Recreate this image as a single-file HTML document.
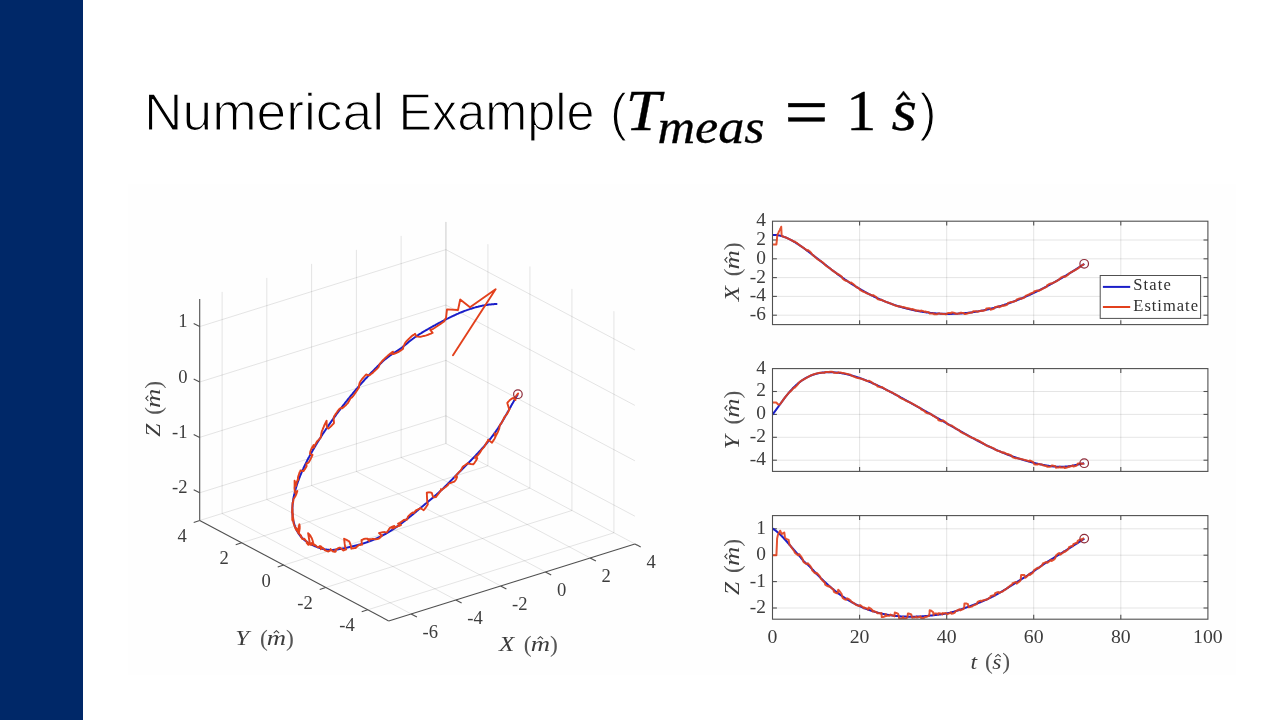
<!DOCTYPE html>
<html><head><meta charset="utf-8"><title>Numerical Example</title>
<style>
html,body{margin:0;padding:0;background:#fff;}
body{width:1280px;height:720px;overflow:hidden;position:relative;font-family:"Liberation Sans",sans-serif;}
#side{position:absolute;left:0;top:0;width:82.5px;height:720px;background:#002868;}
#fig{position:absolute;left:128px;top:184px;width:1108px;height:491px;background:#fefefe;}
#title{position:absolute;left:0;top:0;width:1280px;height:180px;}
svg{position:absolute;left:0;top:0;will-change:transform;}
</style></head><body>
<div id="side"></div>
<div id="fig"></div>
<svg id="title" width="1280" height="180" viewBox="0 0 1280 180">
<g font-family="Liberation Sans, sans-serif" font-size="51" fill="#000" stroke="#fff" stroke-width="1.25">
<text id="t1" x="144.0" y="130" textLength="240" lengthAdjust="spacingAndGlyphs">Numerical</text>
<text id="t2" x="398.5" y="130" textLength="196" lengthAdjust="spacingAndGlyphs">Example</text>
<text id="t3" x="610" y="130">(</text>
<text id="t4" x="919.5" y="130">)</text>
</g>
<g font-family="Liberation Serif, serif" fill="#000" stroke="#000" stroke-width="0.35">
<text x="625.8" y="130" font-size="58" font-style="italic" textLength="35" lengthAdjust="spacingAndGlyphs">T</text>
<text x="657.5" y="142.5" font-size="48" font-style="italic" textLength="107" lengthAdjust="spacingAndGlyphs">meas</text>
<rect x="788.3" y="103.2" width="36.4" height="3.8"/><rect x="788.3" y="117.6" width="36.4" height="3.8"/>
<text x="846.3" y="130" font-size="56" textLength="30" lengthAdjust="spacingAndGlyphs">1</text>
<text x="891.5" y="130" font-size="60" font-style="italic" textLength="25.5" lengthAdjust="spacingAndGlyphs">s</text>
<path d="M896.8 99.5L903.5 90.9L910.2 99.5L907.6 99.5L903.5 94.6L899.4 99.5Z" stroke-width="0.4"/>
</g>
</svg>
<svg id="plots" width="1280" height="720" viewBox="0 0 1280 720">
<g fill="none">
<line x1="222.1" y1="513.5" x2="222.1" y2="291.9" stroke="#262626" stroke-opacity="0.12" stroke-width="1"/>
<line x1="222.1" y1="513.5" x2="411.1" y2="613.9" stroke="#262626" stroke-opacity="0.12" stroke-width="1"/>
<line x1="266.8" y1="499.5" x2="266.8" y2="277.9" stroke="#262626" stroke-opacity="0.12" stroke-width="1"/>
<line x1="266.8" y1="499.5" x2="455.8" y2="599.9" stroke="#262626" stroke-opacity="0.12" stroke-width="1"/>
<line x1="311.6" y1="485.5" x2="311.6" y2="263.9" stroke="#262626" stroke-opacity="0.12" stroke-width="1"/>
<line x1="311.6" y1="485.5" x2="500.6" y2="585.9" stroke="#262626" stroke-opacity="0.12" stroke-width="1"/>
<line x1="356.4" y1="471.5" x2="356.4" y2="249.9" stroke="#262626" stroke-opacity="0.12" stroke-width="1"/>
<line x1="356.4" y1="471.5" x2="545.4" y2="571.9" stroke="#262626" stroke-opacity="0.12" stroke-width="1"/>
<line x1="401.1" y1="457.5" x2="401.1" y2="235.9" stroke="#262626" stroke-opacity="0.12" stroke-width="1"/>
<line x1="401.1" y1="457.5" x2="590.1" y2="557.9" stroke="#262626" stroke-opacity="0.12" stroke-width="1"/>
<line x1="445.9" y1="443.5" x2="445.9" y2="221.9" stroke="#262626" stroke-opacity="0.12" stroke-width="1"/>
<line x1="445.9" y1="443.5" x2="634.9" y2="543.9" stroke="#262626" stroke-opacity="0.12" stroke-width="1"/>
<line x1="445.9" y1="443.5" x2="445.9" y2="221.9" stroke="#262626" stroke-opacity="0.12" stroke-width="1"/>
<line x1="199.7" y1="520.5" x2="445.9" y2="443.5" stroke="#262626" stroke-opacity="0.12" stroke-width="1"/>
<line x1="487.9" y1="465.8" x2="487.9" y2="244.2" stroke="#262626" stroke-opacity="0.12" stroke-width="1"/>
<line x1="241.7" y1="542.8" x2="487.9" y2="465.8" stroke="#262626" stroke-opacity="0.12" stroke-width="1"/>
<line x1="529.9" y1="488.1" x2="529.9" y2="266.5" stroke="#262626" stroke-opacity="0.12" stroke-width="1"/>
<line x1="283.7" y1="565.1" x2="529.9" y2="488.1" stroke="#262626" stroke-opacity="0.12" stroke-width="1"/>
<line x1="571.9" y1="510.5" x2="571.9" y2="288.9" stroke="#262626" stroke-opacity="0.12" stroke-width="1"/>
<line x1="325.7" y1="587.5" x2="571.9" y2="510.5" stroke="#262626" stroke-opacity="0.12" stroke-width="1"/>
<line x1="613.9" y1="532.8" x2="613.9" y2="311.2" stroke="#262626" stroke-opacity="0.12" stroke-width="1"/>
<line x1="367.7" y1="609.8" x2="613.9" y2="532.8" stroke="#262626" stroke-opacity="0.12" stroke-width="1"/>
<line x1="199.7" y1="492.8" x2="445.9" y2="415.8" stroke="#262626" stroke-opacity="0.12" stroke-width="1"/>
<line x1="445.9" y1="415.8" x2="634.9" y2="516.2" stroke="#262626" stroke-opacity="0.12" stroke-width="1"/>
<line x1="199.7" y1="437.4" x2="445.9" y2="360.4" stroke="#262626" stroke-opacity="0.12" stroke-width="1"/>
<line x1="445.9" y1="360.4" x2="634.9" y2="460.8" stroke="#262626" stroke-opacity="0.12" stroke-width="1"/>
<line x1="199.7" y1="382.0" x2="445.9" y2="305.0" stroke="#262626" stroke-opacity="0.12" stroke-width="1"/>
<line x1="445.9" y1="305.0" x2="634.9" y2="405.4" stroke="#262626" stroke-opacity="0.12" stroke-width="1"/>
<line x1="199.7" y1="326.6" x2="445.9" y2="249.6" stroke="#262626" stroke-opacity="0.12" stroke-width="1"/>
<line x1="445.9" y1="249.6" x2="634.9" y2="350.0" stroke="#262626" stroke-opacity="0.12" stroke-width="1"/>
<line x1="199.7" y1="520.5" x2="199.7" y2="298.9" stroke="#505050" stroke-width="1.1"/>
<line x1="199.7" y1="520.5" x2="388.7" y2="620.9" stroke="#505050" stroke-width="1.1"/>
<line x1="388.7" y1="620.9" x2="634.9" y2="543.9" stroke="#505050" stroke-width="1.1"/>
<line x1="199.7" y1="492.8" x2="193.7" y2="489.8" stroke="#505050" stroke-width="1.1"/>
<line x1="199.7" y1="437.4" x2="193.7" y2="434.4" stroke="#505050" stroke-width="1.1"/>
<line x1="199.7" y1="382.0" x2="193.7" y2="379.0" stroke="#505050" stroke-width="1.1"/>
<line x1="199.7" y1="326.6" x2="193.7" y2="323.6" stroke="#505050" stroke-width="1.1"/>
<line x1="199.7" y1="520.5" x2="193.7" y2="522.4" stroke="#505050" stroke-width="1.1"/>
<line x1="241.7" y1="542.8" x2="235.7" y2="544.7" stroke="#505050" stroke-width="1.1"/>
<line x1="283.7" y1="565.1" x2="277.7" y2="567.0" stroke="#505050" stroke-width="1.1"/>
<line x1="325.7" y1="587.5" x2="319.7" y2="589.4" stroke="#505050" stroke-width="1.1"/>
<line x1="367.7" y1="609.8" x2="361.7" y2="611.7" stroke="#505050" stroke-width="1.1"/>
<line x1="411.1" y1="613.9" x2="416.9" y2="617.0" stroke="#505050" stroke-width="1.1"/>
<line x1="455.8" y1="599.9" x2="461.6" y2="603.0" stroke="#505050" stroke-width="1.1"/>
<line x1="500.6" y1="585.9" x2="506.4" y2="589.0" stroke="#505050" stroke-width="1.1"/>
<line x1="545.4" y1="571.9" x2="551.2" y2="575.0" stroke="#505050" stroke-width="1.1"/>
<line x1="590.1" y1="557.9" x2="595.9" y2="561.0" stroke="#505050" stroke-width="1.1"/>
<line x1="634.9" y1="543.9" x2="640.7" y2="547.0" stroke="#505050" stroke-width="1.1"/>
</g>
<g font-family="Liberation Serif, serif" font-size="18.6" fill="#3c3c3c">
<text x="187.5" y="493.3" text-anchor="end">-2</text>
<text x="187.5" y="437.9" text-anchor="end">-1</text>
<text x="187.5" y="382.5" text-anchor="end">0</text>
<text x="187.5" y="327.1" text-anchor="end">1</text>
<text x="186.7" y="542.0" text-anchor="end">4</text>
<text x="228.7" y="564.3" text-anchor="end">2</text>
<text x="270.7" y="586.6" text-anchor="end">0</text>
<text x="312.7" y="609.0" text-anchor="end">-2</text>
<text x="354.7" y="631.3" text-anchor="end">-4</text>
<text x="422.6" y="637.7" text-anchor="start">-6</text>
<text x="467.3" y="623.7" text-anchor="start">-4</text>
<text x="512.1" y="609.7" text-anchor="start">-2</text>
<text x="556.9" y="595.7" text-anchor="start">0</text>
<text x="601.6" y="581.7" text-anchor="start">2</text>
<text x="646.4" y="567.7" text-anchor="start">4</text>
</g>
<path d="M497.3 304.1L496.8 304.1L496.3 304.1L495.8 304.1L495.3 304.1L494.8 304.1L494.3 304.1L493.8 304.2L493.3 304.2L492.7 304.2L492.2 304.3L491.6 304.3L491.1 304.4L490.5 304.4L489.9 304.5L489.3 304.6L488.8 304.6L488.2 304.7L487.6 304.8L487.0 304.9L486.3 305.0L485.7 305.1L485.1 305.2L484.5 305.3L483.8 305.4L483.2 305.5L482.6 305.6L481.9 305.8L481.3 305.9L480.6 306.1L480.0 306.2L479.3 306.4L478.6 306.5L478.0 306.7L477.3 306.9L476.6 307.0L475.9 307.2L475.3 307.4L474.6 307.6L473.9 307.8L473.2 308.0L472.5 308.2L471.8 308.5L471.1 308.7L470.4 308.9L469.7 309.1L469.0 309.4L468.3 309.6L467.6 309.9L466.9 310.1L466.2 310.4L465.5 310.6L464.7 310.9L464.0 311.2L463.3 311.5L462.6 311.8L461.9 312.0L461.2 312.3L460.4 312.6L459.7 312.9L459.0 313.2L458.3 313.6L457.5 313.9L456.8 314.2L456.1 314.5L455.4 314.8L454.7 315.2L453.9 315.5L453.2 315.8L452.5 316.2L451.8 316.5L451.0 316.9L450.3 317.2L449.6 317.6L448.9 317.9L448.1 318.3L447.4 318.6L446.7 319.0L446.0 319.4L445.2 319.7L444.5 320.1L443.8 320.5L443.1 320.8L442.4 321.2L441.6 321.6L440.9 322.0L440.2 322.4L439.5 322.7L438.8 323.1L438.1 323.5L437.3 323.9L436.6 324.3L435.9 324.7L435.2 325.1L434.5 325.4L433.8 325.8L433.1 326.2L432.4 326.6L431.7 327.0L431.0 327.4L430.3 327.8L429.6 328.2L428.9 328.6L428.2 329.0L427.5 329.4L426.8 329.8L426.1 330.2L425.4 330.6L424.7 331.0L424.0 331.4L423.3 331.8L422.6 332.2L422.0 332.6L421.3 333.1L420.6 333.5L419.9 333.9L419.2 334.3L418.6 334.8L417.9 335.2L417.2 335.6L416.6 336.1L415.9 336.6L415.2 337.0L414.5 337.5L413.9 338.0L413.2 338.5L412.6 338.9L411.9 339.5L411.2 340.0L410.6 340.5L409.9 341.0L409.3 341.5L408.6 342.1L408.0 342.6L407.4 343.2L406.7 343.7L406.1 344.2L405.4 344.8L404.8 345.3L404.2 345.8L403.5 346.3L402.9 346.8L402.3 347.3L401.6 347.8L401.0 348.3L400.4 348.7L399.8 349.2L399.1 349.6L398.5 350.0L397.9 350.4L397.3 350.8L396.7 351.2L396.1 351.6L395.5 352.0L394.9 352.3L394.2 352.7L393.6 353.1L393.0 353.5L392.4 353.9L391.8 354.3L391.3 354.7L390.7 355.1L390.1 355.5L389.5 355.9L388.9 356.4L388.3 356.8L387.7 357.2L387.2 357.7L386.6 358.2L386.0 358.7L385.4 359.1L384.8 359.6L384.3 360.1L383.7 360.6L383.1 361.1L382.6 361.6L382.0 362.1L381.5 362.7L380.9 363.2L380.3 363.7L379.8 364.2L379.2 364.8L378.7 365.3L378.1 365.8L377.6 366.3L377.0 366.9L376.5 367.4L376.0 367.9L375.4 368.5L374.9 369.0L374.3 369.6L373.8 370.1L373.3 370.6L372.8 371.2L372.2 371.7L371.7 372.3L371.2 372.8L370.7 373.3L370.1 373.9L369.6 374.4L369.1 375.0L368.6 375.5L368.1 376.1L367.6 376.6L367.1 377.2L366.6 377.7L366.0 378.3L365.5 378.8L365.0 379.3L364.5 379.9L364.1 380.4L363.6 381.0L363.1 381.5L362.6 382.1L362.1 382.6L361.6 383.2L361.1 383.7L360.6 384.3L360.1 384.8L359.7 385.4L359.2 385.9L358.7 386.5L358.2 387.0L357.8 387.6L357.3 388.1L356.8 388.6L356.4 389.2L355.9 389.7L355.4 390.3L355.0 390.8L354.5 391.4L354.1 391.9L353.6 392.5L353.2 393.0L352.7 393.5L352.3 394.1L351.8 394.6L351.4 395.2L350.9 395.7L350.5 396.2L350.0 396.8L349.6 397.3L349.2 397.9L348.7 398.4L348.3 398.9L347.9 399.5L347.4 400.0L347.0 400.6L346.6 401.1L346.2 401.6L345.7 402.2L345.3 402.7L344.9 403.2L344.5 403.8L344.1 404.3L343.6 404.8L343.2 405.3L342.8 405.9L342.4 406.4L342.0 406.9L341.6 407.5L341.2 408.0L340.8 408.5L340.4 409.0L340.0 409.6L339.6 410.1L339.2 410.6L338.8 411.1L338.4 411.6L338.0 412.2L337.7 412.7L337.3 413.2L336.9 413.7L336.5 414.2L336.1 414.8L335.8 415.3L335.4 415.8L335.0 416.3L334.6 416.8L334.3 417.3L333.9 417.8L333.5 418.3L333.2 418.8L332.8 419.4L332.4 419.9L332.1 420.4L331.7 420.9L331.4 421.4L331.0 421.9L330.7 422.4L330.3 422.9L330.0 423.4L329.6 423.9L329.3 424.4L328.9 424.9L328.6 425.4L328.2 425.9L327.9 426.4L327.6 426.8L327.2 427.3L326.9 427.8L326.6 428.3L326.2 428.8L325.9 429.3L325.6 429.8L325.2 430.3L324.9 430.8L324.6 431.2L324.3 431.7L324.0 432.2L323.6 432.7L323.3 433.2L323.0 433.6L322.7 434.1L322.4 434.6L322.1 435.1L321.8 435.5L321.5 436.0L321.2 436.5L320.9 437.0L320.6 437.4L320.3 437.9L320.0 438.4L319.7 438.8L319.4 439.3L319.1 439.8L318.8 440.2L318.5 440.7L318.2 441.2L318.0 441.6L317.7 442.1L317.4 442.5L317.1 443.0L316.8 443.4L316.6 443.9L316.3 444.3L316.0 444.8L315.7 445.3L315.5 445.7L315.2 446.2L314.9 446.6L314.7 447.0L314.4 447.5L314.2 447.9L313.9 448.4L313.6 448.8L313.4 449.3L313.1 449.7L312.9 450.1L312.6 450.6L312.4 451.0L312.1 451.5L311.9 451.9L311.6 452.3L311.4 452.7L311.2 453.2L310.9 453.6L310.7 454.0L310.4 454.5L310.2 454.9L310.0 455.3L309.7 455.7L309.5 456.2L309.3 456.6L309.1 457.0L308.8 457.4L308.6 457.8L308.4 458.3L308.2 458.7L308.0 459.1L307.7 459.5L307.5 459.9L307.3 460.3L307.1 460.7L306.9 461.2L306.7 461.6L306.5 462.0L306.3 462.4L306.1 462.8L305.9 463.2L305.7 463.6L305.5 464.0L305.3 464.4L305.1 464.8L304.9 465.2L304.7 465.6L304.5 466.0L304.3 466.4L304.1 466.8L304.0 467.2L303.8 467.6L303.6 467.9L303.4 468.3L303.2 468.7L303.1 469.1L302.9 469.5L302.7 469.9L302.5 470.3L302.4 470.7L302.2 471.0L302.0 471.4L301.9 471.8L301.7 472.2L301.5 472.6L301.4 472.9L301.2 473.3L301.1 473.7L300.9 474.1L300.7 474.4L300.6 474.8L300.4 475.2L300.3 475.5L300.1 475.9L300.0 476.3L299.8 476.6L299.7 477.0L299.6 477.4L299.4 477.7L299.3 478.1L299.1 478.4L299.0 478.8L298.9 479.2L298.7 479.5L298.6 479.9L298.5 480.2L298.3 480.6L298.2 480.9L298.1 481.3L298.0 481.6L297.8 482.0L297.7 482.3L297.6 482.7L297.5 483.0L297.4 483.4L297.2 483.7L297.1 484.1L297.0 484.4L296.9 484.7L296.8 485.1L296.7 485.4L296.6 485.8L296.5 486.1L296.4 486.4L296.3 486.8L296.2 487.1L296.1 487.4L296.0 487.8L295.9 488.1L295.8 488.4L295.7 488.8L295.6 489.1L295.5 489.4L295.4 489.7L295.3 490.1L295.2 490.4L295.1 490.7L295.1 491.0L295.0 491.4L294.9 491.7L294.8 492.0L294.7 492.3L294.7 492.6L294.6 492.9L294.5 493.3L294.4 493.6L294.4 493.9L294.3 494.2L294.2 494.5L294.2 494.8L294.1 495.1L294.0 495.4L294.0 495.7L293.9 496.0L293.8 496.3L293.8 496.6L293.7 496.9L293.7 497.2L293.6 497.6L293.5 497.8L293.5 498.1L293.4 498.4L293.4 498.7L293.3 499.0L293.3 499.3L293.2 499.6L293.2 499.9L293.2 500.2L293.1 500.5L293.1 500.8L293.0 501.1L293.0 501.4L293.0 501.7L292.9 501.9L292.9 502.2L292.8 502.5L292.8 502.8L292.8 503.1L292.7 503.4L292.7 503.6L292.7 503.9L292.7 504.2L292.6 504.5L292.6 504.7L292.6 505.0L292.6 505.3L292.5 505.6L292.5 505.8L292.5 506.1L292.5 506.4L292.5 506.7L292.5 506.9L292.4 507.2L292.4 507.5L292.4 507.7L292.4 508.0L292.4 508.2L292.4 508.5L292.4 508.8L292.4 509.0L292.4 509.3L292.4 509.6L292.4 509.8L292.4 510.1L292.4 510.3L292.4 510.6L292.4 510.8L292.4 511.1L292.4 511.3L292.4 511.6L292.4 511.8L292.4 512.1L292.4 512.3L292.4 512.6L292.4 512.8L292.4 513.1L292.4 513.3L292.4 513.6L292.5 513.8L292.5 514.1L292.5 514.3L292.5 514.5L292.5 514.8L292.6 515.0L292.6 515.3L292.6 515.5L292.6 515.7L292.6 516.0L292.7 516.2L292.7 516.4L292.7 516.7L292.7 516.9L292.8 517.1L292.8 517.4L292.8 517.6L292.9 517.8L292.9 518.0L292.9 518.3L293.0 518.5L293.0 518.7L293.0 518.9L293.1 519.2L293.1 519.4L293.2 519.6L293.2 519.8L293.2 520.0L293.3 520.3L293.3 520.5L293.4 520.7L293.4 520.9L293.5 521.1L293.5 521.3L293.6 521.6L293.6 521.8L293.7 522.0L293.7 522.2L293.8 522.4L293.8 522.6L293.9 522.8L293.9 523.0L294.0 523.2L294.0 523.4L294.1 523.6L294.2 523.8L294.2 524.0L294.3 524.2L294.3 524.4L294.4 524.6L294.5 524.8L294.5 525.0L294.6 525.2L294.7 525.4L294.7 525.6L294.8 525.8L294.9 526.0L294.9 526.2L295.0 526.4L295.1 526.6L295.1 526.8L295.2 527.0L295.3 527.2L295.4 527.3L295.4 527.5L295.5 527.7L295.6 527.9L295.7 528.1L295.8 528.3L295.8 528.5L295.9 528.6L296.0 528.8L296.1 529.0L296.2 529.2L296.2 529.3L296.3 529.5L296.4 529.7L296.5 529.9L296.6 530.1L296.7 530.2L296.8 530.4L296.9 530.6L296.9 530.7L297.0 530.9L297.1 531.1L297.2 531.2L297.3 531.4L297.4 531.6L297.5 531.7L297.6 531.9L297.7 532.1L297.8 532.2L297.9 532.4L298.0 532.6L298.1 532.7L298.2 532.9L298.3 533.0L298.4 533.2L298.5 533.4L298.6 533.5L298.7 533.7L298.8 533.8L298.9 534.0L299.0 534.1L299.1 534.3L299.2 534.4L299.3 534.6L299.5 534.7L299.6 534.9L299.7 535.0L299.8 535.2L299.9 535.3L300.0 535.5L300.1 535.6L300.3 535.8L300.4 535.9L300.5 536.1L300.6 536.2L300.7 536.3L300.8 536.5L301.0 536.6L301.1 536.7L301.2 536.9L301.3 537.0L301.4 537.2L301.6 537.3L301.7 537.4L301.8 537.6L301.9 537.7L302.1 537.8L302.2 538.0L302.3 538.1L302.5 538.2L302.6 538.3L302.7 538.5L302.8 538.6L303.0 538.7L303.1 538.8L303.2 539.0L303.4 539.1L303.5 539.2L303.7 539.3L303.8 539.5L303.9 539.6L304.1 539.7L304.2 539.8L304.3 539.9L304.5 540.1L304.6 540.2L304.8 540.3L304.9 540.4L305.0 540.5L305.2 540.6L305.3 540.7L305.5 540.8L305.6 541.0L305.8 541.1L305.9 541.2L306.1 541.3L306.2 541.4L306.4 541.5L306.5 541.6L306.7 541.7L306.8 541.8L307.0 541.9L307.1 542.0L307.3 542.1L307.4 542.2L307.6 542.3L307.7 542.4L307.9 542.5L308.1 542.6L308.2 542.7L308.4 542.8L308.5 542.9L308.7 543.0L308.9 543.1L309.0 543.2L309.2 543.3L309.3 543.4L309.5 543.5L309.7 543.6L309.8 543.7L310.0 543.8L310.2 543.9L310.3 544.0L310.5 544.1L310.7 544.1L310.8 544.2L311.0 544.3L311.2 544.4L311.4 544.5L311.5 544.6L311.7 544.7L311.9 544.8L312.1 544.8L312.2 544.9L312.4 545.0L312.6 545.1L312.8 545.2L312.9 545.3L313.1 545.3L313.3 545.4L313.5 545.5L313.7 545.6L313.8 545.7L314.0 545.8L314.2 545.8L314.4 545.9L314.6 546.0L314.8 546.1L314.9 546.2L315.1 546.2L315.3 546.3L315.5 546.4L315.7 546.5L315.9 546.5L316.1 546.6L316.3 546.7L316.5 546.8L316.7 546.9L316.8 546.9L317.0 547.0L317.2 547.1L317.4 547.2L317.6 547.2L317.8 547.3L318.0 547.4L318.2 547.4L318.4 547.5L318.6 547.6L318.8 547.7L319.0 547.7L319.2 547.8L319.4 547.9L319.6 547.9L319.8 548.0L320.0 548.1L320.2 548.1L320.4 548.2L320.6 548.3L320.9 548.3L321.1 548.4L321.3 548.4L321.5 548.5L321.7 548.6L321.9 548.6L322.1 548.7L322.3 548.7L322.5 548.8L322.7 548.9L323.0 548.9L323.2 549.0L323.4 549.0L323.6 549.1L323.8 549.1L324.0 549.2L324.3 549.2L324.5 549.3L324.7 549.3L324.9 549.3L325.1 549.4L325.4 549.4L325.6 549.5L325.8 549.5L326.0 549.5L326.3 549.6L326.5 549.6L326.7 549.6L326.9 549.7L327.2 549.7L327.4 549.7L327.6 549.8L327.8 549.8L328.1 549.8L328.3 549.8L328.5 549.8L328.8 549.9L329.0 549.9L329.2 549.9L329.5 549.9L329.7 549.9L329.9 549.9L330.2 549.9L330.4 549.9L330.6 549.9L330.9 549.9L331.1 549.9L331.4 549.9L331.6 549.9L331.8 549.9L332.1 549.9L332.3 549.9L332.6 549.9L332.8 549.9L333.0 549.9L333.3 549.9L333.5 549.9L333.8 549.8L334.0 549.8L334.3 549.8L334.5 549.8L334.8 549.8L335.0 549.7L335.3 549.7L335.5 549.7L335.8 549.7L336.0 549.6L336.3 549.6L336.5 549.6L336.8 549.5L337.0 549.5L337.3 549.5L337.5 549.4L337.8 549.4L338.0 549.4L338.3 549.3L338.5 549.3L338.8 549.2L339.1 549.2L339.3 549.1L339.6 549.1L339.8 549.1L340.1 549.0L340.4 549.0L340.6 548.9L340.9 548.9L341.1 548.8L341.4 548.8L341.7 548.7L341.9 548.7L342.2 548.6L342.5 548.6L342.7 548.5L343.0 548.5L343.3 548.4L343.5 548.3L343.8 548.3L344.1 548.2L344.3 548.2L344.6 548.1L344.9 548.1L345.2 548.0L345.4 548.0L345.7 547.9L346.0 547.8L346.2 547.8L346.5 547.7L346.8 547.7L347.1 547.6L347.3 547.5L347.6 547.5L347.9 547.4L348.2 547.4L348.5 547.3L348.7 547.2L349.0 547.2L349.3 547.1L349.6 547.0L349.9 547.0L350.1 546.9L350.4 546.8L350.7 546.8L351.0 546.7L351.3 546.7L351.5 546.6L351.8 546.5L352.1 546.4L352.4 546.4L352.7 546.3L353.0 546.2L353.3 546.2L353.5 546.1L353.8 546.0L354.1 546.0L354.4 545.9L354.7 545.8L355.0 545.8L355.3 545.7L355.6 545.6L355.8 545.5L356.1 545.5L356.4 545.4L356.7 545.3L357.0 545.2L357.3 545.2L357.6 545.1L357.9 545.0L358.2 544.9L358.5 544.8L358.8 544.8L359.1 544.7L359.4 544.6L359.7 544.5L360.0 544.4L360.2 544.3L360.5 544.3L360.8 544.2L361.1 544.1L361.4 544.0L361.7 543.9L362.0 543.8L362.3 543.7L362.6 543.6L362.9 543.5L363.2 543.5L363.5 543.4L363.8 543.3L364.1 543.2L364.4 543.1L364.7 543.0L365.0 542.9L365.3 542.8L365.6 542.7L366.0 542.6L366.3 542.5L366.6 542.4L366.9 542.3L367.2 542.2L367.5 542.1L367.8 541.9L368.1 541.8L368.4 541.7L368.7 541.6L369.0 541.5L369.3 541.4L369.6 541.3L369.9 541.2L370.2 541.0L370.5 540.9L370.9 540.8L371.2 540.7L371.5 540.6L371.8 540.4L372.1 540.3L372.4 540.2L372.7 540.1L373.0 539.9L373.3 539.8L373.6 539.7L374.0 539.6L374.3 539.4L374.6 539.3L374.9 539.2L375.2 539.0L375.5 538.9L375.8 538.7L376.1 538.6L376.5 538.5L376.8 538.3L377.1 538.2L377.4 538.0L377.7 537.9L378.0 537.7L378.4 537.6L378.7 537.4L379.0 537.3L379.3 537.1L379.6 537.0L379.9 536.8L380.2 536.7L380.6 536.5L380.9 536.3L381.2 536.2L381.5 536.0L381.8 535.9L382.2 535.7L382.5 535.5L382.8 535.4L383.1 535.2L383.4 535.0L383.7 534.8L384.1 534.7L384.4 534.5L384.7 534.3L385.0 534.1L385.3 534.0L385.7 533.8L386.0 533.6L386.3 533.4L386.6 533.2L386.9 533.1L387.3 532.9L387.6 532.7L387.9 532.5L388.2 532.3L388.6 532.1L388.9 531.9L389.2 531.7L389.5 531.5L389.8 531.3L390.2 531.1L390.5 530.9L390.8 530.7L391.1 530.5L391.5 530.3L391.8 530.1L392.1 529.9L392.4 529.7L392.8 529.5L393.1 529.3L393.4 529.0L393.7 528.8L394.1 528.6L394.4 528.4L394.7 528.2L395.0 528.0L395.4 527.7L395.7 527.5L396.0 527.3L396.3 527.1L396.7 526.8L397.0 526.6L397.3 526.4L397.6 526.1L398.0 525.9L398.3 525.7L398.6 525.4L399.0 525.2L399.3 525.0L399.6 524.7L399.9 524.5L400.3 524.2L400.6 524.0L400.9 523.8L401.2 523.5L401.6 523.3L401.9 523.0L402.2 522.8L402.6 522.5L402.9 522.3L403.2 522.0L403.5 521.8L403.9 521.5L404.2 521.3L404.5 521.0L404.9 520.8L405.2 520.5L405.5 520.2L405.9 520.0L406.2 519.7L406.5 519.5L406.8 519.2L407.2 518.9L407.5 518.7L407.8 518.4L408.2 518.1L408.5 517.9L408.8 517.6L409.2 517.3L409.5 517.1L409.8 516.8L410.2 516.5L410.5 516.3L410.8 516.0L411.2 515.7L411.5 515.4L411.8 515.2L412.2 514.9L412.5 514.6L412.8 514.4L413.2 514.1L413.5 513.8L413.8 513.5L414.2 513.3L414.5 513.0L414.8 512.7L415.2 512.4L415.5 512.1L415.8 511.9L416.2 511.6L416.5 511.3L416.8 511.0L417.2 510.7L417.5 510.5L417.8 510.2L418.2 509.9L418.5 509.6L418.8 509.3L419.2 509.1L419.5 508.8L419.8 508.5L420.2 508.2L420.5 507.9L420.9 507.7L421.2 507.4L421.5 507.1L421.9 506.8L422.2 506.5L422.5 506.3L422.9 506.0L423.2 505.7L423.6 505.4L423.9 505.1L424.2 504.9L424.6 504.6L424.9 504.3L425.2 504.0L425.6 503.7L425.9 503.5L426.3 503.2L426.6 502.9L426.9 502.6L427.3 502.3L427.6 502.1L428.0 501.8L428.3 501.5L428.6 501.2L429.0 500.9L429.3 500.6L429.7 500.4L430.0 500.1L430.3 499.8L430.7 499.5L431.0 499.2L431.4 498.9L431.7 498.6L432.0 498.4L432.4 498.1L432.7 497.8L433.1 497.5L433.4 497.2L433.7 496.9L434.1 496.6L434.4 496.3L434.8 496.0L435.1 495.7L435.5 495.4L435.8 495.1L436.1 494.8L436.5 494.5L436.8 494.2L437.2 493.9L437.5 493.6L437.9 493.3L438.2 493.0L438.5 492.7L438.9 492.4L439.2 492.1L439.6 491.8L439.9 491.4L440.3 491.1L440.6 490.8L441.0 490.5L441.3 490.2L441.6 489.8L442.0 489.5L442.3 489.2L442.7 488.9L443.0 488.5L443.4 488.2L443.7 487.9L444.1 487.5L444.4 487.2L444.7 486.9L445.1 486.5L445.4 486.2L445.8 485.8L446.1 485.5L446.5 485.2L446.8 484.8L447.2 484.5L447.5 484.1L447.9 483.8L448.2 483.4L448.6 483.1L448.9 482.7L449.2 482.4L449.6 482.0L449.9 481.7L450.3 481.3L450.6 481.0L451.0 480.6L451.3 480.3L451.7 479.9L452.0 479.6L452.4 479.2L452.7 478.9L453.1 478.5L453.4 478.1L453.8 477.8L454.1 477.4L454.4 477.1L454.8 476.7L455.1 476.4L455.5 476.0L455.8 475.7L456.2 475.3L456.5 475.0L456.9 474.6L457.2 474.2L457.6 473.9L457.9 473.5L458.3 473.2L458.6 472.8L459.0 472.5L459.3 472.1L459.6 471.8L460.0 471.4L460.3 471.1L460.7 470.7L461.0 470.4L461.4 470.0L461.7 469.7L462.1 469.3L462.4 469.0L462.8 468.6L463.1 468.3L463.4 467.9L463.8 467.6L464.1 467.2L464.5 466.9L464.8 466.5L465.2 466.2L465.5 465.8L465.8 465.5L466.2 465.2L466.5 464.8L466.9 464.5L467.2 464.1L467.6 463.8L467.9 463.4L468.2 463.1L468.6 462.7L468.9 462.4L469.3 462.0L469.6 461.7L469.9 461.4L470.3 461.0L470.6 460.7L471.0 460.3L471.3 460.0L471.6 459.6L472.0 459.3L472.3 458.9L472.6 458.6L473.0 458.3L473.3 457.9L473.6 457.6L474.0 457.2L474.3 456.9L474.7 456.5L475.0 456.2L475.3 455.8L475.7 455.5L476.0 455.1L476.3 454.8L476.6 454.4L477.0 454.1L477.3 453.7L477.6 453.4L478.0 453.0L478.3 452.7L478.6 452.3L478.9 452.0L479.3 451.6L479.6 451.3L479.9 450.9L480.2 450.6L480.6 450.2L480.9 449.9L481.2 449.5L481.5 449.2L481.9 448.8L482.2 448.5L482.5 448.1L482.8 447.7L483.1 447.4L483.5 447.0L483.8 446.7L484.1 446.3L484.4 445.9L484.7 445.6L485.0 445.2L485.3 444.9L485.7 444.5L486.0 444.1L486.3 443.8L486.6 443.4L486.9 443.0L487.2 442.7L487.5 442.3L487.8 441.9L488.1 441.5L488.4 441.2L488.7 440.8L489.0 440.4L489.3 440.1L489.6 439.7L489.9 439.3L490.2 438.9L490.5 438.5L490.8 438.2L491.1 437.8L491.4 437.4L491.7 437.0L492.0 436.6L492.3 436.3L492.6 435.9L492.9 435.5L493.2 435.1L493.5 434.7L493.7 434.3L494.0 433.9L494.3 433.5L494.6 433.1L494.9 432.8L495.2 432.4L495.4 432.0L495.7 431.6L496.0 431.2L496.3 430.8L496.6 430.4L496.8 430.0L497.1 429.6L497.4 429.2L497.7 428.8L497.9 428.3L498.2 427.9L498.5 427.5L498.7 427.1L499.0 426.7L499.3 426.3L499.5 425.9L499.8 425.5L500.1 425.1L500.3 424.6L500.6 424.2L500.9 423.8L501.1 423.4L501.4 423.0L501.6 422.5L501.9 422.1L502.2 421.7L502.4 421.3L502.7 420.8L502.9 420.4L503.2 420.0L503.4 419.5L503.7 419.1L503.9 418.7L504.2 418.3L504.4 417.8L504.7 417.4L504.9 416.9L505.2 416.5L505.4 416.1L505.7 415.6L505.9 415.2L506.2 414.8L506.4 414.3L506.7 413.9L506.9 413.4L507.2 413.0L507.4 412.6L507.7 412.1L507.9 411.7L508.2 411.2L508.4 410.8L508.6 410.4L508.9 409.9L509.1 409.5L509.4 409.0L509.6 408.6L509.9 408.1L510.1 407.7L510.4 407.3L510.6 406.8L510.9 406.4L511.1 405.9L511.3 405.5L511.6 405.1L511.8 404.6L512.1 404.2L512.3 403.7L512.6 403.3L512.8 402.9L513.1 402.4L513.4 402.0L513.6 401.5L513.9 401.1L514.1 400.7L514.4 400.2L514.6 399.8L514.9 399.3L515.2 398.9L515.4 398.4L515.7 398.0L516.0 397.5L516.2 397.0L516.5 396.6L516.8 396.1L517.1 395.6L517.4 395.2L517.6 394.7L517.9 394.2" fill="none" stroke="#1a1ec8" stroke-width="2" stroke-linejoin="round"/>
<path d="M453.0 355.2L495.6 289.3L470.0 307.2L460.2 299.5L458.0 310.0L447.0 309.4L446.0 318.0L444.7 319.8L444.5 320.6L444.4 321.3L443.7 321.8L443.0 322.2L442.2 322.7L441.5 323.2L440.8 323.7L440.1 324.3L439.3 324.8L438.6 325.3L437.8 325.8L437.1 326.3L436.3 326.8L435.5 327.3L434.8 327.8L434.0 328.3L433.2 328.8L432.4 329.2L431.3 329.5L430.3 329.9L431.5 331.4L432.6 332.9L431.8 333.2L431.0 333.6L430.2 333.9L429.4 334.2L428.6 334.5L427.8 334.8L427.0 335.1L426.3 335.4L425.4 335.6L424.6 335.8L423.8 336.0L423.0 336.2L422.2 336.4L421.4 336.6L420.6 336.8L419.4 336.9L417.8 336.6L416.2 336.4L415.7 335.1L415.1 333.8L414.5 334.3L413.8 334.7L413.2 335.1L412.5 335.6L411.9 336.1L411.3 336.6L410.6 337.2L410.0 337.7L409.4 338.3L408.7 339.0L408.1 339.6L407.5 340.3L406.8 340.9L406.2 341.6L405.6 342.3L405.0 343.2L404.3 344.6L403.6 345.9L403.3 347.4L403.0 348.9L402.4 349.3L401.8 349.8L401.1 350.2L400.5 350.6L399.9 351.0L399.3 351.4L398.7 351.8L398.1 352.1L397.5 352.4L396.9 352.7L396.3 353.0L395.7 353.2L395.1 353.5L394.5 353.7L393.9 354.0L393.3 354.1L392.5 353.9L391.8 353.8L392.4 352.7L392.9 351.7L392.3 352.1L391.7 352.6L391.1 353.0L390.4 353.5L389.8 354.0L389.2 354.5L388.6 355.0L387.9 355.5L387.3 356.1L386.6 356.7L385.9 357.4L385.2 358.0L384.6 358.7L383.9 359.3L383.2 360.0L382.3 361.0L381.1 362.3L379.9 363.6L379.2 365.4L378.5 367.2L377.9 367.8L377.3 368.4L376.7 368.9L376.1 369.5L375.5 370.1L374.9 370.7L374.2 371.3L373.6 371.8L373.1 372.4L372.5 372.9L371.9 373.4L371.3 373.8L370.7 374.3L370.2 374.8L369.6 375.2L369.1 375.4L368.6 375.3L368.1 375.3L367.2 374.8L366.3 374.4L365.8 374.9L365.3 375.4L364.9 375.8L364.4 376.3L364.0 376.8L363.5 377.3L363.1 377.8L362.7 378.3L362.2 378.9L361.8 379.4L361.4 380.0L361.0 380.5L360.7 381.1L360.3 381.7L359.9 382.3L359.6 383.1L359.3 384.2L359.1 385.2L359.0 386.4L359.0 387.6L358.5 388.2L358.1 388.8L357.7 389.4L357.3 390.1L356.8 390.7L356.4 391.4L356.0 392.0L355.5 392.7L355.1 393.3L354.6 394.0L354.2 394.6L353.7 395.2L353.3 395.8L352.8 396.4L352.3 397.0L351.8 397.5L351.2 397.8L350.6 398.1L349.3 400.5L348.0 402.8L347.6 403.3L347.1 403.8L346.7 404.2L346.3 404.6L345.9 405.1L345.5 405.5L345.1 405.8L344.7 406.2L344.3 406.6L343.9 406.9L343.6 407.2L343.2 407.5L342.8 407.8L342.5 408.1L342.1 408.4L341.9 408.4L341.9 408.0L341.9 407.5L340.9 408.0L339.9 408.5L339.5 408.9L339.1 409.4L338.7 409.9L338.3 410.4L337.9 410.9L337.5 411.4L337.1 412.0L336.7 412.5L336.4 413.0L336.0 413.6L335.6 414.2L335.2 414.7L334.9 415.3L334.5 415.8L334.1 416.4L333.9 416.9L333.8 417.5L333.6 418.0L333.8 420.5L334.0 423.0L333.6 423.4L333.3 423.9L332.9 424.3L332.5 424.7L332.1 425.1L331.7 425.5L331.4 425.9L331.0 426.3L330.6 426.6L330.3 427.0L329.9 427.3L329.5 427.6L329.2 427.9L328.8 428.2L328.5 428.5L328.1 428.4L327.5 427.9L326.9 427.4L326.7 424.0L326.6 420.7L326.3 421.3L326.0 421.9L325.7 422.5L325.4 423.1L325.1 423.7L324.8 424.3L324.5 425.0L324.2 425.6L323.9 426.4L323.6 427.2L323.2 428.0L322.9 428.8L322.6 429.6L322.2 430.4L321.9 431.3L321.5 432.7L321.1 435.2L320.7 437.7L318.9 439.6L317.0 441.5L316.7 442.0L316.4 442.5L316.1 443.0L315.9 443.5L315.6 444.0L315.3 444.5L315.0 444.9L314.7 445.4L314.5 445.7L314.3 446.1L314.0 446.5L313.8 446.8L313.6 447.1L313.4 447.4L313.2 447.7L313.3 447.7L313.7 447.4L314.2 447.1L313.9 446.0L313.7 445.0L313.4 445.4L313.2 445.7L312.9 446.1L312.7 446.4L312.5 446.8L312.2 447.1L312.0 447.5L311.8 447.8L311.6 448.3L311.4 448.7L311.2 449.1L311.0 449.6L310.9 450.0L310.7 450.5L310.5 451.0L310.3 451.7L310.1 452.8L310.0 453.9L311.2 454.5L312.5 455.0L312.2 455.5L312.0 455.9L311.8 456.4L311.6 456.9L311.3 457.4L311.1 457.9L310.9 458.4L310.6 459.0L310.4 459.5L310.1 460.0L309.8 460.4L309.5 460.9L309.3 461.4L309.0 461.9L308.7 462.3L308.2 462.8L307.3 463.2L306.4 463.6L306.5 464.9L306.6 466.2L306.4 466.6L306.2 466.9L306.0 467.3L305.8 467.6L305.6 467.9L305.4 468.2L305.2 468.6L305.0 468.9L304.8 469.2L304.6 469.5L304.4 469.7L304.2 470.0L304.0 470.3L303.8 470.6L303.6 470.9L303.3 471.1L302.9 471.0L302.6 471.0L301.5 470.7L300.4 470.4L300.3 470.8L300.1 471.3L299.9 471.7L299.7 472.2L299.5 472.7L299.3 473.2L299.2 473.7L299.0 474.1L298.8 474.7L298.7 475.2L298.5 475.7L298.3 476.2L298.2 476.7L298.0 477.2L297.9 477.7L297.9 478.3L298.1 479.1L298.4 479.8L298.3 479.2L298.2 478.6L298.0 479.0L297.8 479.4L297.7 479.8L297.5 480.1L297.4 480.5L297.3 480.9L297.1 481.2L297.0 481.5L296.9 481.9L296.8 482.2L296.7 482.5L296.6 482.9L296.5 483.2L296.5 483.5L296.4 483.8L296.3 484.3L296.2 485.1L296.1 485.9L295.4 483.3L294.6 480.7L294.6 481.1L294.6 481.5L294.6 481.9L294.6 482.4L294.6 482.8L294.6 483.3L294.6 483.7L294.6 484.2L294.6 484.8L294.6 485.3L294.6 485.9L294.6 486.5L294.5 487.1L294.5 487.7L294.5 488.3L294.6 489.4L294.9 491.3L295.2 493.1L296.2 492.1L297.3 491.0L297.2 491.5L297.0 491.9L296.9 492.4L296.8 492.8L296.6 493.2L296.5 493.6L296.4 494.0L296.2 494.3L296.0 494.7L295.9 495.1L295.7 495.4L295.5 495.8L295.4 496.1L295.2 496.4L295.1 496.7L294.7 497.2L294.1 498.1L293.4 499.0L293.3 500.5L293.2 502.1L293.2 502.2L293.1 502.2L293.1 502.3L293.0 502.4L293.0 502.5L292.9 502.6L292.9 502.7L292.8 502.8L292.8 502.9L292.8 503.0L292.7 503.1L292.7 503.2L292.7 503.3L292.7 503.5L292.6 503.6L292.6 503.5L292.6 503.1L292.6 502.7L292.4 507.0L292.1 511.3L292.1 511.5L292.1 511.7L292.1 511.8L292.1 512.0L292.1 512.2L292.1 512.4L292.1 512.6L292.1 512.7L292.1 512.8L292.1 512.8L292.1 512.9L292.1 512.9L292.1 513.0L292.2 513.0L292.2 513.0L292.3 512.3L292.4 510.6L292.5 508.8L292.5 511.0L292.6 513.1L292.6 513.3L292.6 513.4L292.6 513.6L292.6 513.8L292.7 513.9L292.7 514.1L292.7 514.2L292.7 514.4L292.8 514.5L292.8 514.6L292.8 514.7L292.8 514.8L292.9 515.0L292.9 515.1L292.9 515.2L292.9 515.1L292.9 514.4L292.9 513.8L292.7 513.7L292.5 513.6L292.5 513.9L292.5 514.3L292.5 514.6L292.5 515.0L292.4 515.4L292.4 515.8L292.4 516.2L292.4 516.6L292.4 516.9L292.3 517.3L292.3 517.7L292.3 518.1L292.3 518.5L292.3 518.8L292.2 519.2L292.3 519.6L292.4 520.1L292.4 520.6L292.4 516.7L292.4 512.8L292.4 513.1L292.4 513.5L292.4 513.8L292.5 514.2L292.5 514.5L292.5 514.8L292.6 515.1L292.6 515.4L292.7 515.8L292.8 516.1L292.8 516.5L292.9 516.9L293.0 517.3L293.1 517.6L293.2 518.0L293.3 519.1L293.4 521.3L293.6 523.5L294.8 526.6L296.0 529.7L296.1 529.7L296.2 529.7L296.3 529.8L296.4 529.9L296.5 530.0L296.6 530.1L296.7 530.2L296.8 530.3L296.8 530.3L296.9 530.4L296.9 530.5L297.0 530.6L297.0 530.6L297.1 530.7L297.1 530.8L296.9 530.4L296.5 529.2L296.0 528.0L297.0 529.8L297.9 531.6L297.9 531.9L298.0 532.0L298.0 532.2L298.1 532.4L298.1 532.6L298.2 532.7L298.2 532.8L298.3 532.9L298.3 533.0L298.3 533.0L298.3 533.1L298.3 533.1L298.3 533.1L298.4 533.1L298.4 533.1L298.2 532.8L297.9 532.1L297.5 531.3L298.5 527.8L299.4 524.3L299.4 524.5L299.5 524.7L299.5 524.8L299.5 525.0L299.6 525.3L299.6 525.5L299.6 525.7L299.6 525.9L299.7 526.3L299.7 526.6L299.7 527.0L299.7 527.3L299.7 527.7L299.7 528.1L299.7 528.5L299.5 529.6L299.2 531.5L298.8 533.5L299.9 534.5L301.1 535.6L301.1 535.7L301.1 535.9L301.2 536.1L301.2 536.2L301.2 536.4L301.3 536.6L301.3 536.7L301.4 536.8L301.4 537.0L301.4 537.1L301.5 537.2L301.5 537.2L301.5 537.3L301.6 537.4L301.7 537.4L301.5 537.3L301.1 537.0L300.7 536.7L301.5 537.8L302.3 539.0L302.4 539.0L302.6 539.0L302.7 539.1L302.9 539.1L303.0 539.1L303.2 539.1L303.3 539.2L303.5 539.2L303.7 539.2L303.8 539.3L303.9 539.3L304.1 539.3L304.2 539.4L304.4 539.5L304.5 539.5L304.5 539.5L304.4 539.1L304.2 538.7L306.0 540.9L307.9 543.0L307.9 543.2L308.0 543.3L308.1 543.5L308.2 543.7L308.2 543.8L308.3 544.0L308.4 544.2L308.4 544.3L308.4 544.4L308.4 544.5L308.4 544.6L308.4 544.7L308.4 544.8L308.4 544.8L308.4 544.9L308.1 544.6L307.4 543.7L306.7 542.9L308.8 543.8L311.0 544.8L311.0 544.8L311.1 544.8L311.1 544.9L311.2 544.8L311.2 544.8L311.3 544.8L311.4 544.7L311.5 544.7L311.5 544.6L311.5 544.5L311.6 544.4L311.6 544.3L311.6 544.3L311.7 544.2L311.8 544.1L311.5 543.9L310.6 543.4L309.8 543.0L308.9 538.0L308.1 533.1L308.3 533.3L308.6 533.6L308.8 533.8L309.1 534.1L309.3 534.4L309.6 534.7L309.8 535.0L310.1 535.3L310.4 535.8L310.6 536.3L310.9 536.8L311.2 537.3L311.5 537.8L311.8 538.3L312.0 538.8L312.5 540.2L313.2 542.8L314.0 545.5L312.9 544.2L311.8 542.9L312.0 543.1L312.3 543.3L312.5 543.5L312.8 543.7L313.0 543.9L313.2 544.0L313.5 544.2L313.7 544.3L314.0 544.5L314.3 544.7L314.5 544.8L314.8 545.0L315.1 545.1L315.4 545.3L315.6 545.4L316.1 545.8L316.9 546.6L317.8 547.4L319.1 546.7L320.4 546.1L320.5 546.1L320.6 546.2L320.8 546.3L320.9 546.4L321.0 546.4L321.1 546.5L321.3 546.7L321.4 546.8L321.5 546.9L321.5 547.1L321.6 547.2L321.7 547.4L321.8 547.6L321.8 547.7L321.9 547.9L321.8 548.2L321.3 548.7L320.9 549.2L320.4 547.6L320.0 546.0L320.1 546.2L320.3 546.4L320.5 546.5L320.6 546.7L320.8 546.9L321.0 547.0L321.2 547.2L321.4 547.3L321.6 547.4L321.9 547.6L322.1 547.7L322.3 547.8L322.6 547.9L322.9 548.0L323.1 548.1L323.5 548.4L324.1 549.2L324.6 550.0L326.5 550.8L328.4 551.5L328.6 551.4L328.8 551.2L329.0 551.1L329.3 551.0L329.5 550.9L329.7 550.8L330.0 550.6L330.2 550.5L330.4 550.4L330.6 550.3L330.8 550.2L331.0 550.2L331.2 550.1L331.4 550.0L331.6 550.0L331.5 549.8L331.0 549.5L330.5 549.1L331.6 550.2L332.7 551.4L332.9 551.4L333.2 551.5L333.4 551.5L333.7 551.6L333.9 551.6L334.1 551.7L334.3 551.7L334.6 551.7L334.7 551.8L334.9 551.7L335.1 551.7L335.3 551.7L335.5 551.7L335.6 551.6L335.8 551.5L335.8 551.3L335.7 550.7L335.5 550.1L335.4 550.0L335.3 549.8L335.6 549.7L335.8 549.6L336.0 549.5L336.3 549.4L336.5 549.3L336.7 549.1L337.0 549.0L337.2 548.8L337.5 548.7L337.7 548.5L338.0 548.4L338.2 548.2L338.5 548.1L338.7 548.0L339.0 547.8L339.3 547.7L339.7 547.6L340.1 547.6L341.7 549.0L343.4 550.5L343.6 550.4L343.8 550.3L344.0 550.2L344.2 550.1L344.4 550.0L344.6 550.0L344.8 549.9L345.0 549.9L345.1 549.8L345.3 549.7L345.5 549.6L345.6 549.6L345.8 549.5L346.0 549.5L346.2 549.4L346.1 549.1L345.7 548.3L345.2 547.6L344.6 543.2L344.1 538.7L344.4 538.9L344.7 539.1L345.0 539.2L345.3 539.4L345.7 539.5L346.0 539.6L346.3 539.8L346.6 539.9L347.0 540.1L347.4 540.3L347.7 540.5L348.1 540.8L348.5 541.0L348.8 541.2L349.2 541.4L349.7 542.4L350.4 544.5L351.2 546.7L351.2 547.7L351.3 548.7L351.6 548.6L351.9 548.5L352.2 548.4L352.5 548.4L352.8 548.3L353.1 548.3L353.4 548.2L353.7 548.2L354.0 548.2L354.2 548.1L354.5 548.1L354.8 548.1L355.1 548.0L355.3 548.0L355.6 548.0L355.9 547.8L356.3 547.3L356.7 546.8L357.8 545.9L358.9 545.0L359.1 545.0L359.3 545.0L359.5 545.1L359.7 545.1L360.0 545.1L360.2 545.0L360.4 545.0L360.6 544.9L360.8 544.9L361.0 544.8L361.2 544.7L361.4 544.6L361.7 544.5L361.9 544.3L362.1 544.2L362.2 544.2L362.1 544.4L362.0 544.7L361.7 542.4L361.5 540.1L361.9 539.9L362.2 539.8L362.6 539.6L363.0 539.4L363.3 539.2L363.7 539.1L364.1 538.9L364.5 538.8L364.9 538.7L365.3 538.7L365.7 538.6L366.1 538.6L366.5 538.6L366.9 538.6L367.3 538.6L367.8 539.0L368.5 539.9L369.1 540.9L368.4 540.1L367.6 539.4L368.0 539.3L368.4 539.3L368.8 539.3L369.1 539.3L369.5 539.3L369.9 539.2L370.2 539.2L370.6 539.2L371.0 539.2L371.4 539.2L371.8 539.1L372.1 539.1L372.5 539.0L372.9 539.0L373.3 538.9L373.8 538.9L374.7 539.1L375.5 539.3L377.2 539.0L378.9 538.6L379.1 538.4L379.3 538.2L379.6 538.0L379.8 537.8L380.0 537.6L380.3 537.4L380.5 537.1L380.7 536.9L380.9 536.7L381.1 536.5L381.3 536.2L381.5 536.0L381.7 535.8L381.9 535.6L382.0 535.4L382.0 535.3L381.6 535.2L381.2 535.1L380.1 534.1L379.0 533.1L379.3 533.0L379.7 532.9L380.0 532.8L380.3 532.7L380.6 532.6L380.9 532.6L381.3 532.5L381.6 532.4L381.9 532.4L382.3 532.3L382.7 532.3L383.0 532.2L383.4 532.2L383.8 532.1L384.2 532.0L384.8 532.1L385.8 532.4L386.7 532.6L388.3 530.3L389.8 527.9L390.1 527.8L390.3 527.7L390.6 527.5L390.9 527.4L391.2 527.2L391.6 527.1L391.9 526.9L392.2 526.8L392.5 526.6L392.8 526.5L393.1 526.4L393.4 526.3L393.7 526.2L394.0 526.1L394.3 525.9L394.4 526.2L394.2 527.1L394.0 528.0L393.2 528.2L392.4 528.5L392.9 528.3L393.3 528.1L393.7 527.9L394.2 527.7L394.6 527.5L395.0 527.3L395.4 527.2L395.8 527.0L396.3 526.9L396.7 526.7L397.1 526.6L397.5 526.4L397.9 526.3L398.3 526.2L398.7 526.0L399.3 525.8L400.2 525.4L401.1 525.0L399.5 524.4L398.0 523.7L398.3 523.5L398.7 523.4L399.0 523.2L399.4 523.0L399.8 522.8L400.1 522.6L400.5 522.4L400.8 522.1L401.3 521.9L401.7 521.6L402.1 521.3L402.5 521.0L402.9 520.7L403.4 520.4L403.8 520.0L404.6 519.8L405.8 519.7L407.1 519.5L407.5 518.2L407.9 516.8L408.2 516.4L408.5 516.1L408.9 515.7L409.2 515.4L409.5 515.0L409.9 514.7L410.2 514.4L410.6 514.1L410.9 513.8L411.3 513.5L411.6 513.3L411.9 513.1L412.3 512.8L412.6 512.6L413.0 512.5L413.3 512.5L413.6 512.7L413.9 513.0L414.9 511.7L415.8 510.4L416.1 510.3L416.5 510.1L416.8 510.0L417.1 509.8L417.4 509.7L417.7 509.5L418.1 509.3L418.4 509.2L418.7 509.0L419.0 508.9L419.3 508.7L419.6 508.5L419.9 508.4L420.2 508.2L420.5 508.0L420.7 507.9L420.7 508.2L420.7 508.4L422.2 509.3L423.7 510.2L424.0 509.8L424.3 509.4L424.6 509.1L424.9 508.7L425.2 508.3L425.5 507.9L425.8 507.5L426.0 507.2L426.3 506.8L426.5 506.4L426.8 506.0L427.0 505.6L427.3 505.2L427.5 504.8L427.8 504.5L427.8 503.9L427.5 503.1L427.3 502.2L427.0 497.4L426.8 492.7L427.1 492.6L427.4 492.6L427.7 492.5L428.0 492.5L428.3 492.4L428.6 492.4L428.9 492.3L429.2 492.3L429.6 492.4L429.9 492.4L430.2 492.5L430.5 492.5L430.9 492.6L431.2 492.6L431.6 492.6L432.0 493.4L432.6 495.4L433.2 497.3L434.5 497.2L435.9 497.1L436.2 496.7L436.5 496.3L436.8 495.9L437.1 495.5L437.5 495.1L437.8 494.6L438.2 494.2L438.5 493.8L438.8 493.3L439.2 492.8L439.5 492.4L439.9 491.9L440.2 491.5L440.6 491.0L440.9 490.6L441.1 490.1L441.0 489.6L440.9 489.1L441.2 489.7L441.4 490.3L441.9 489.9L442.3 489.5L442.7 489.2L443.1 488.8L443.6 488.5L444.0 488.2L444.4 487.9L444.8 487.6L445.2 487.3L445.6 487.0L446.0 486.7L446.4 486.4L446.7 486.1L447.1 485.8L447.5 485.5L447.9 485.1L448.3 484.4L448.7 483.7L451.5 482.6L454.3 481.6L454.5 481.3L454.7 481.1L455.0 480.8L455.2 480.6L455.4 480.3L455.6 480.0L455.9 479.7L456.1 479.3L456.2 479.0L456.4 478.7L456.5 478.3L456.7 478.0L456.8 477.6L456.9 477.2L457.1 476.9L456.8 476.6L455.9 476.6L455.0 476.5L454.9 476.9L454.8 477.3L455.1 476.8L455.5 476.4L455.8 475.9L456.1 475.5L456.4 475.1L456.8 474.7L457.1 474.3L457.4 473.9L457.8 473.5L458.1 473.1L458.5 472.7L458.8 472.4L459.2 472.0L459.5 471.7L459.8 471.3L460.3 470.9L460.8 470.2L461.3 469.6L462.0 468.1L462.8 466.7L463.1 466.5L463.4 466.3L463.7 466.1L464.0 465.9L464.3 465.7L464.7 465.4L465.0 465.2L465.3 465.0L465.6 464.7L466.0 464.5L466.3 464.3L466.6 464.0L467.0 463.8L467.3 463.5L467.7 463.2L467.9 463.1L468.1 463.4L468.3 463.6L470.8 464.0L473.3 464.3L473.7 463.9L474.0 463.5L474.3 463.1L474.6 462.7L474.9 462.2L475.2 461.8L475.5 461.4L475.8 461.0L476.0 460.6L476.2 460.2L476.5 459.8L476.7 459.4L476.9 459.0L477.1 458.6L477.3 458.3L477.1 457.8L476.4 457.1L475.7 456.4L475.4 457.2L475.0 458.0L475.4 457.7L475.7 457.4L476.0 457.1L476.4 456.8L476.7 456.5L477.0 456.2L477.3 455.8L477.6 455.5L477.9 455.1L478.2 454.8L478.6 454.4L478.9 453.9L479.2 453.5L479.5 453.1L479.9 452.6L480.3 452.0L480.9 451.0L481.5 450.0L482.8 448.5L484.2 446.9L484.5 446.5L484.7 446.0L485.0 445.5L485.3 445.1L485.5 444.6L485.8 444.1L486.1 443.6L486.4 443.1L486.7 442.6L486.9 442.2L487.2 441.7L487.5 441.3L487.8 440.8L488.1 440.4L488.3 440.0L488.4 439.7L488.3 439.8L488.1 439.9L490.1 441.3L492.0 442.7L492.3 442.2L492.6 441.7L492.9 441.3L493.2 440.8L493.5 440.4L493.7 440.0L494.0 439.6L494.3 439.2L494.5 438.8L494.7 438.4L494.9 438.0L495.1 437.6L495.3 437.2L495.5 436.8L495.7 436.4L495.6 435.6L495.1 434.4L494.6 433.2L494.9 434.9L495.3 436.6L495.5 436.2L495.8 435.7L496.1 435.3L496.3 434.9L496.6 434.4L496.8 434.0L497.1 433.5L497.4 433.0L497.6 432.5L497.9 431.9L498.1 431.4L498.3 430.8L498.6 430.2L498.8 429.7L499.1 429.1L499.3 428.2L499.5 426.7L499.7 425.3L500.6 424.2L501.5 423.1L501.7 422.6L501.9 422.2L502.1 421.8L502.3 421.5L502.5 421.1L502.7 420.7L502.9 420.4L503.1 420.0L503.3 419.7L503.4 419.4L503.6 419.1L503.8 418.8L503.9 418.5L504.1 418.2L504.2 417.9L504.3 417.7L504.2 417.7L504.0 417.7L505.4 416.0L506.7 414.4L506.9 414.1L507.1 413.8L507.3 413.4L507.5 413.1L507.7 412.8L507.9 412.4L508.1 412.1L508.3 411.7L508.4 411.3L508.6 411.0L508.8 410.6L509.0 410.2L509.2 409.8L509.4 409.4L509.6 409.0L509.7 408.8L509.4 409.0L509.1 409.1L508.2 406.0L507.3 402.9L507.7 402.5L508.0 402.0L508.4 401.6L508.8 401.2L509.2 400.8L509.5 400.4L509.9 400.1L510.3 399.7L510.7 399.4L511.1 399.1L511.5 398.9L511.9 398.6L512.3 398.4L512.7 398.2L513.1 397.9L513.6 398.2L514.6 399.1L515.5 400.1L515.4 398.4L515.4 396.7L515.7 396.4L516.0 396.1L516.3 395.8L516.5 395.5L516.8 395.2L517.1 394.8L517.3 394.5L517.6 394.2L517.8 393.8L518.1 393.5" fill="none" stroke="#e2401c" stroke-width="1.9" stroke-linejoin="round" stroke-linecap="round"/>
<circle cx="517.9" cy="394.2" r="4.3" fill="none" stroke="#8e2c3a" stroke-width="1.2"/>
<g transform="translate(160.0 409.3) rotate(-90)" font-family="Liberation Serif, serif" fill="#3c3c3c"><text x="-27.50" y="0" font-size="21" font-style="italic" textLength="13.0" lengthAdjust="spacingAndGlyphs">Z</text><text x="-5.50" y="0.8" font-size="23.5" fill="#555">(</text><text x="1.30" y="0" font-size="21" font-style="italic" textLength="19.3" lengthAdjust="spacingAndGlyphs">m</text><text x="20.60" y="0.8" font-size="23.5" fill="#555">)</text><path d="M8.30 -11.7l2.7 -2.5l2.7 2.5" fill="none" stroke="#3c3c3c" stroke-width="1.05"/></g>
<g transform="translate(264.5 644.9)" font-family="Liberation Serif, serif" fill="#3c3c3c"><text x="-29.25" y="0" font-size="21" font-style="italic" textLength="13.9" lengthAdjust="spacingAndGlyphs">Y</text><text x="-4.55" y="0.8" font-size="23.5" fill="#555">(</text><text x="2.25" y="0" font-size="21" font-style="italic" textLength="19.3" lengthAdjust="spacingAndGlyphs">m</text><text x="21.55" y="0.8" font-size="23.5" fill="#555">)</text><path d="M9.25 -11.7l2.7 -2.5l2.7 2.5" fill="none" stroke="#3c3c3c" stroke-width="1.05"/></g>
<g transform="translate(527.3 650.9)" font-family="Liberation Serif, serif" fill="#3c3c3c"><text x="-28.40" y="0" font-size="21" font-style="italic" textLength="15.3" lengthAdjust="spacingAndGlyphs">X</text><text x="-3.45" y="0.8" font-size="23.5" fill="#555">(</text><text x="3.35" y="0" font-size="21" font-style="italic" textLength="19.3" lengthAdjust="spacingAndGlyphs">m</text><text x="22.65" y="0.8" font-size="23.5" fill="#555">)</text><path d="M10.35 -11.7l2.7 -2.5l2.7 2.5" fill="none" stroke="#3c3c3c" stroke-width="1.05"/></g>
<clipPath id="cp0"><rect x="771.5" y="221.2" width="437.4" height="103.4"/></clipPath>
<rect x="772.5" y="221.2" width="435.4" height="103.4" fill="#fff"/>
<g fill="none">
<line x1="859.6" y1="221.2" x2="859.6" y2="324.6" stroke="#262626" stroke-opacity="0.12" stroke-width="1"/>
<line x1="859.6" y1="221.2" x2="859.6" y2="225.6" stroke="#505050" stroke-width="1.1"/>
<line x1="859.6" y1="324.6" x2="859.6" y2="320.2" stroke="#505050" stroke-width="1.1"/>
<line x1="946.7" y1="221.2" x2="946.7" y2="324.6" stroke="#262626" stroke-opacity="0.12" stroke-width="1"/>
<line x1="946.7" y1="221.2" x2="946.7" y2="225.6" stroke="#505050" stroke-width="1.1"/>
<line x1="946.7" y1="324.6" x2="946.7" y2="320.2" stroke="#505050" stroke-width="1.1"/>
<line x1="1033.7" y1="221.2" x2="1033.7" y2="324.6" stroke="#262626" stroke-opacity="0.12" stroke-width="1"/>
<line x1="1033.7" y1="221.2" x2="1033.7" y2="225.6" stroke="#505050" stroke-width="1.1"/>
<line x1="1033.7" y1="324.6" x2="1033.7" y2="320.2" stroke="#505050" stroke-width="1.1"/>
<line x1="1120.8" y1="221.2" x2="1120.8" y2="324.6" stroke="#262626" stroke-opacity="0.12" stroke-width="1"/>
<line x1="1120.8" y1="221.2" x2="1120.8" y2="225.6" stroke="#505050" stroke-width="1.1"/>
<line x1="1120.8" y1="324.6" x2="1120.8" y2="320.2" stroke="#505050" stroke-width="1.1"/>
<line x1="772.5" y1="240.0" x2="1207.9" y2="240.0" stroke="#262626" stroke-opacity="0.12" stroke-width="1"/>
<line x1="772.5" y1="240.0" x2="776.9" y2="240.0" stroke="#505050" stroke-width="1.1"/>
<line x1="1207.9" y1="240.0" x2="1203.5" y2="240.0" stroke="#505050" stroke-width="1.1"/>
<line x1="772.5" y1="258.8" x2="1207.9" y2="258.8" stroke="#262626" stroke-opacity="0.12" stroke-width="1"/>
<line x1="772.5" y1="258.8" x2="776.9" y2="258.8" stroke="#505050" stroke-width="1.1"/>
<line x1="1207.9" y1="258.8" x2="1203.5" y2="258.8" stroke="#505050" stroke-width="1.1"/>
<line x1="772.5" y1="277.6" x2="1207.9" y2="277.6" stroke="#262626" stroke-opacity="0.12" stroke-width="1"/>
<line x1="772.5" y1="277.6" x2="776.9" y2="277.6" stroke="#505050" stroke-width="1.1"/>
<line x1="1207.9" y1="277.6" x2="1203.5" y2="277.6" stroke="#505050" stroke-width="1.1"/>
<line x1="772.5" y1="296.4" x2="1207.9" y2="296.4" stroke="#262626" stroke-opacity="0.12" stroke-width="1"/>
<line x1="772.5" y1="296.4" x2="776.9" y2="296.4" stroke="#505050" stroke-width="1.1"/>
<line x1="1207.9" y1="296.4" x2="1203.5" y2="296.4" stroke="#505050" stroke-width="1.1"/>
<line x1="772.5" y1="315.2" x2="1207.9" y2="315.2" stroke="#262626" stroke-opacity="0.12" stroke-width="1"/>
<line x1="772.5" y1="315.2" x2="776.9" y2="315.2" stroke="#505050" stroke-width="1.1"/>
<line x1="1207.9" y1="315.2" x2="1203.5" y2="315.2" stroke="#505050" stroke-width="1.1"/>
</g>
<g clip-path="url(#cp0)" fill="none" stroke-linejoin="round">
<path d="M772.5 235.0L772.7 235.0L772.9 235.0L773.2 235.0L773.4 235.0L773.6 235.0L773.8 235.0L774.0 235.0L774.2 235.0L774.5 235.0L774.7 235.0L774.9 235.0L775.1 235.0L775.3 235.0L775.5 235.0L775.8 235.0L776.0 235.0L776.2 235.1L776.4 235.1L776.6 235.1L776.9 235.1L777.1 235.1L777.3 235.2L777.5 235.2L777.7 235.2L777.9 235.3L778.2 235.3L778.4 235.3L778.6 235.4L778.8 235.4L779.0 235.5L779.2 235.5L779.5 235.5L779.7 235.6L779.9 235.6L780.1 235.7L780.3 235.7L780.6 235.8L780.8 235.8L781.0 235.9L781.2 236.0L781.4 236.0L781.6 236.1L781.9 236.1L782.1 236.2L782.3 236.3L782.5 236.3L782.7 236.4L782.9 236.5L783.2 236.6L783.4 236.6L783.6 236.7L783.8 236.8L784.0 236.9L784.3 236.9L784.5 237.0L784.7 237.1L784.9 237.2L785.1 237.3L785.3 237.3L785.6 237.4L785.8 237.5L786.0 237.6L786.2 237.7L786.4 237.8L786.7 237.9L786.9 238.0L787.1 238.1L787.3 238.2L787.5 238.3L787.7 238.4L788.0 238.5L788.2 238.6L788.4 238.7L788.6 238.8L788.8 238.9L789.0 239.0L789.3 239.1L789.5 239.2L789.7 239.3L789.9 239.4L790.1 239.5L790.4 239.6L790.6 239.8L790.8 239.9L791.0 240.0L791.2 240.1L791.4 240.2L791.7 240.3L791.9 240.5L792.1 240.6L792.3 240.7L792.5 240.8L792.7 241.0L793.0 241.1L793.2 241.2L793.4 241.3L793.6 241.5L793.8 241.6L794.1 241.7L794.3 241.8L794.5 242.0L794.7 242.1L794.9 242.2L795.1 242.4L795.4 242.5L795.6 242.6L795.8 242.8L796.0 242.9L796.2 243.0L796.4 243.2L796.7 243.3L796.9 243.5L797.1 243.6L797.3 243.7L797.5 243.9L797.8 244.0L798.0 244.2L798.2 244.3L798.4 244.4L798.6 244.6L798.8 244.7L799.1 244.9L799.3 245.0L799.5 245.2L799.7 245.3L799.9 245.5L800.1 245.6L800.4 245.8L800.6 245.9L800.8 246.1L801.0 246.2L801.2 246.4L801.5 246.5L801.7 246.7L801.9 246.8L802.1 247.0L802.3 247.1L802.5 247.3L802.8 247.4L803.0 247.6L803.2 247.7L803.4 247.9L803.6 248.1L803.8 248.2L804.1 248.4L804.3 248.5L804.5 248.7L804.7 248.9L804.9 249.0L805.2 249.2L805.4 249.3L805.6 249.5L805.8 249.6L806.0 249.8L806.2 250.0L806.5 250.1L806.7 250.3L806.9 250.5L807.1 250.6L807.3 250.8L807.5 250.9L807.8 251.1L808.0 251.3L808.2 251.4L808.4 251.6L808.6 251.8L808.9 251.9L809.1 252.1L809.3 252.3L809.5 252.4L809.7 252.6L809.9 252.8L810.2 252.9L810.4 253.1L810.6 253.3L810.8 253.4L811.0 253.6L811.3 253.8L811.5 253.9L811.7 254.1L811.9 254.3L812.1 254.4L812.3 254.6L812.6 254.8L812.8 254.9L813.0 255.1L813.2 255.3L813.4 255.5L813.6 255.6L813.9 255.8L814.1 256.0L814.3 256.1L814.5 256.3L814.7 256.5L815.0 256.6L815.2 256.8L815.4 257.0L815.6 257.2L815.8 257.3L816.0 257.5L816.3 257.7L816.5 257.8L816.7 258.0L816.9 258.2L817.1 258.4L817.3 258.5L817.6 258.7L817.8 258.9L818.0 259.0L818.2 259.2L818.4 259.4L818.7 259.6L818.9 259.7L819.1 259.9L819.3 260.1L819.5 260.2L819.7 260.4L820.0 260.6L820.2 260.8L820.4 260.9L820.6 261.1L820.8 261.3L821.0 261.4L821.3 261.6L821.5 261.8L821.7 262.0L821.9 262.1L822.1 262.3L822.4 262.5L822.6 262.6L822.8 262.8L823.0 263.0L823.2 263.2L823.4 263.3L823.7 263.5L823.9 263.7L824.1 263.8L824.3 264.0L824.5 264.2L824.7 264.4L825.0 264.5L825.2 264.7L825.4 264.9L825.6 265.0L825.8 265.2L826.1 265.4L826.3 265.5L826.5 265.7L826.7 265.9L826.9 266.1L827.1 266.2L827.4 266.4L827.6 266.6L827.8 266.7L828.0 266.9L828.2 267.1L828.4 267.2L828.7 267.4L828.9 267.6L829.1 267.7L829.3 267.9L829.5 268.1L829.8 268.2L830.0 268.4L830.2 268.6L830.4 268.8L830.6 268.9L830.8 269.1L831.1 269.3L831.3 269.4L831.5 269.6L831.7 269.8L831.9 269.9L832.1 270.1L832.4 270.3L832.6 270.4L832.8 270.6L833.0 270.7L833.2 270.9L833.5 271.1L833.7 271.2L833.9 271.4L834.1 271.6L834.3 271.7L834.5 271.9L834.8 272.1L835.0 272.2L835.2 272.4L835.4 272.5L835.6 272.7L835.9 272.9L836.1 273.0L836.3 273.2L836.5 273.4L836.7 273.5L836.9 273.7L837.2 273.8L837.4 274.0L837.6 274.2L837.8 274.3L838.0 274.5L838.2 274.6L838.5 274.8L838.7 275.0L838.9 275.1L839.1 275.3L839.3 275.4L839.6 275.6L839.8 275.8L840.0 275.9L840.2 276.1L840.4 276.2L840.6 276.4L840.9 276.5L841.1 276.7L841.3 276.8L841.5 277.0L841.7 277.2L841.9 277.3L842.2 277.5L842.4 277.6L842.6 277.8L842.8 277.9L843.0 278.1L843.3 278.2L843.5 278.4L843.7 278.5L843.9 278.7L844.1 278.8L844.3 279.0L844.6 279.2L844.8 279.3L845.0 279.5L845.2 279.6L845.4 279.8L845.6 279.9L845.9 280.1L846.1 280.2L846.3 280.4L846.5 280.5L846.7 280.7L847.0 280.8L847.2 280.9L847.4 281.1L847.6 281.2L847.8 281.4L848.0 281.5L848.3 281.7L848.5 281.8L848.7 282.0L848.9 282.1L849.1 282.3L849.3 282.4L849.6 282.6L849.8 282.7L850.0 282.8L850.2 283.0L850.4 283.1L850.7 283.3L850.9 283.4L851.1 283.6L851.3 283.7L851.5 283.8L851.7 284.0L852.0 284.1L852.2 284.3L852.4 284.4L852.6 284.5L852.8 284.7L853.0 284.8L853.3 285.0L853.5 285.1L853.7 285.2L853.9 285.4L854.1 285.5L854.4 285.6L854.6 285.8L854.8 285.9L855.0 286.1L855.2 286.2L855.4 286.3L855.7 286.5L855.9 286.6L856.1 286.7L856.3 286.9L856.5 287.0L856.7 287.1L857.0 287.3L857.2 287.4L857.4 287.5L857.6 287.7L857.8 287.8L858.1 287.9L858.3 288.1L858.5 288.2L858.7 288.3L858.9 288.4L859.1 288.6L859.4 288.7L859.6 288.8L859.8 289.0L860.0 289.1L860.2 289.2L860.5 289.3L860.7 289.5L860.9 289.6L861.1 289.7L861.3 289.9L861.5 290.0L861.8 290.1L862.0 290.2L862.2 290.4L862.4 290.5L862.6 290.6L862.8 290.7L863.1 290.8L863.3 291.0L863.5 291.1L863.7 291.2L863.9 291.3L864.2 291.5L864.4 291.6L864.6 291.7L864.8 291.8L865.0 291.9L865.2 292.1L865.5 292.2L865.7 292.3L865.9 292.4L866.1 292.5L866.3 292.7L866.5 292.8L866.8 292.9L867.0 293.0L867.2 293.1L867.4 293.2L867.6 293.4L867.9 293.5L868.1 293.6L868.3 293.7L868.5 293.8L868.7 293.9L868.9 294.0L869.2 294.2L869.4 294.3L869.6 294.4L869.8 294.5L870.0 294.6L870.2 294.7L870.5 294.8L870.7 294.9L870.9 295.0L871.1 295.2L871.3 295.3L871.6 295.4L871.8 295.5L872.0 295.6L872.2 295.7L872.4 295.8L872.6 295.9L872.9 296.0L873.1 296.1L873.3 296.2L873.5 296.3L873.7 296.5L873.9 296.6L874.2 296.7L874.4 296.8L874.6 296.9L874.8 297.0L875.0 297.1L875.3 297.2L875.5 297.3L875.7 297.4L875.9 297.5L876.1 297.6L876.3 297.7L876.6 297.8L876.8 297.9L877.0 298.0L877.2 298.1L877.4 298.2L877.6 298.3L877.9 298.4L878.1 298.5L878.3 298.6L878.5 298.7L878.7 298.8L879.0 298.9L879.2 299.0L879.4 299.1L879.6 299.2L879.8 299.3L880.0 299.4L880.3 299.5L880.5 299.6L880.7 299.7L880.9 299.7L881.1 299.8L881.4 299.9L881.6 300.0L881.8 300.1L882.0 300.2L882.2 300.3L882.4 300.4L882.7 300.5L882.9 300.6L883.1 300.7L883.3 300.8L883.5 300.9L883.7 300.9L884.0 301.0L884.2 301.1L884.4 301.2L884.6 301.3L884.8 301.4L885.1 301.5L885.3 301.6L885.5 301.6L885.7 301.7L885.9 301.8L886.1 301.9L886.4 302.0L886.6 302.1L886.8 302.2L887.0 302.2L887.2 302.3L887.4 302.4L887.7 302.5L887.9 302.6L888.1 302.7L888.3 302.8L888.5 302.8L888.8 302.9L889.0 303.0L889.2 303.1L889.4 303.2L889.6 303.2L889.8 303.3L890.1 303.4L890.3 303.5L890.5 303.6L890.7 303.6L890.9 303.7L891.1 303.8L891.4 303.9L891.6 304.0L891.8 304.0L892.0 304.1L892.2 304.2L892.5 304.3L892.7 304.3L892.9 304.4L893.1 304.5L893.3 304.6L893.5 304.6L893.8 304.7L894.0 304.8L894.2 304.9L894.4 304.9L894.6 305.0L894.8 305.1L895.1 305.2L895.3 305.2L895.5 305.3L895.7 305.4L895.9 305.4L896.2 305.5L896.4 305.6L896.6 305.7L896.8 305.7L897.0 305.8L897.2 305.9L897.5 305.9L897.7 306.0L897.9 306.1L898.1 306.1L898.3 306.2L898.5 306.3L898.8 306.3L899.0 306.4L899.2 306.5L899.4 306.5L899.6 306.6L899.9 306.7L900.1 306.7L900.3 306.8L900.5 306.9L900.7 306.9L900.9 307.0L901.2 307.1L901.4 307.1L901.6 307.2L901.8 307.2L902.0 307.3L902.2 307.4L902.5 307.4L902.7 307.5L902.9 307.6L903.1 307.6L903.3 307.7L903.6 307.7L903.8 307.8L904.0 307.9L904.2 307.9L904.4 308.0L904.6 308.0L904.9 308.1L905.1 308.1L905.3 308.2L905.5 308.3L905.7 308.3L906.0 308.4L906.2 308.4L906.4 308.5L906.6 308.5L906.8 308.6L907.0 308.7L907.3 308.7L907.5 308.8L907.7 308.8L907.9 308.9L908.1 308.9L908.3 309.0L908.6 309.0L908.8 309.1L909.0 309.1L909.2 309.2L909.4 309.2L909.7 309.3L909.9 309.3L910.1 309.4L910.3 309.4L910.5 309.5L910.7 309.5L911.0 309.6L911.2 309.6L911.4 309.7L911.6 309.7L911.8 309.8L912.0 309.8L912.3 309.9L912.5 309.9L912.7 310.0L912.9 310.0L913.1 310.1L913.4 310.1L913.6 310.2L913.8 310.2L914.0 310.3L914.2 310.3L914.4 310.4L914.7 310.4L914.9 310.4L915.1 310.5L915.3 310.5L915.5 310.6L915.7 310.6L916.0 310.7L916.2 310.7L916.4 310.7L916.6 310.8L916.8 310.8L917.1 310.9L917.3 310.9L917.5 311.0L917.7 311.0L917.9 311.0L918.1 311.1L918.4 311.1L918.6 311.2L918.8 311.2L919.0 311.2L919.2 311.3L919.4 311.3L919.7 311.3L919.9 311.4L920.1 311.4L920.3 311.5L920.5 311.5L920.8 311.5L921.0 311.6L921.2 311.6L921.4 311.6L921.6 311.7L921.8 311.7L922.1 311.7L922.3 311.8L922.5 311.8L922.7 311.9L922.9 311.9L923.1 311.9L923.4 312.0L923.6 312.0L923.8 312.0L924.0 312.1L924.2 312.1L924.5 312.1L924.7 312.1L924.9 312.2L925.1 312.2L925.3 312.2L925.5 312.3L925.8 312.3L926.0 312.3L926.2 312.4L926.4 312.4L926.6 312.4L926.8 312.4L927.1 312.5L927.3 312.5L927.5 312.5L927.7 312.6L927.9 312.6L928.2 312.6L928.4 312.6L928.6 312.7L928.8 312.7L929.0 312.7L929.2 312.7L929.5 312.8L929.7 312.8L929.9 312.8L930.1 312.8L930.3 312.9L930.6 312.9L930.8 312.9L931.0 312.9L931.2 313.0L931.4 313.0L931.6 313.0L931.9 313.0L932.1 313.0L932.3 313.1L932.5 313.1L932.7 313.1L932.9 313.1L933.2 313.2L933.4 313.2L933.6 313.2L933.8 313.2L934.0 313.2L934.3 313.2L934.5 313.3L934.7 313.3L934.9 313.3L935.1 313.3L935.3 313.3L935.6 313.4L935.8 313.4L936.0 313.4L936.2 313.4L936.4 313.4L936.6 313.4L936.9 313.5L937.1 313.5L937.3 313.5L937.5 313.5L937.7 313.5L938.0 313.5L938.2 313.5L938.4 313.6L938.6 313.6L938.8 313.6L939.0 313.6L939.3 313.6L939.5 313.6L939.7 313.6L939.9 313.6L940.1 313.7L940.3 313.7L940.6 313.7L940.8 313.7L941.0 313.7L941.2 313.7L941.4 313.7L941.7 313.7L941.9 313.7L942.1 313.7L942.3 313.8L942.5 313.8L942.7 313.8L943.0 313.8L943.2 313.8L943.4 313.8L943.6 313.8L943.8 313.8L944.0 313.8L944.3 313.8L944.5 313.8L944.7 313.8L944.9 313.8L945.1 313.8L945.4 313.8L945.6 313.8L945.8 313.9L946.0 313.9L946.2 313.9L946.4 313.9L946.7 313.9L946.9 313.9L947.1 313.9L947.3 313.9L947.5 313.9L947.7 313.9L948.0 313.9L948.2 313.9L948.4 313.9L948.6 313.9L948.8 313.9L949.1 313.9L949.3 313.9L949.5 313.9L949.7 313.9L949.9 313.9L950.1 313.9L950.4 313.9L950.6 313.9L950.8 313.9L951.0 313.9L951.2 313.9L951.4 313.9L951.7 313.9L951.9 313.9L952.1 313.9L952.3 313.8L952.5 313.8L952.8 313.8L953.0 313.8L953.2 313.8L953.4 313.8L953.6 313.8L953.8 313.8L954.1 313.8L954.3 313.8L954.5 313.8L954.7 313.8L954.9 313.8L955.2 313.8L955.4 313.8L955.6 313.8L955.8 313.7L956.0 313.7L956.2 313.7L956.5 313.7L956.7 313.7L956.9 313.7L957.1 313.7L957.3 313.7L957.5 313.7L957.8 313.7L958.0 313.6L958.2 313.6L958.4 313.6L958.6 313.6L958.9 313.6L959.1 313.6L959.3 313.6L959.5 313.6L959.7 313.5L959.9 313.5L960.2 313.5L960.4 313.5L960.6 313.5L960.8 313.5L961.0 313.5L961.2 313.4L961.5 313.4L961.7 313.4L961.9 313.4L962.1 313.4L962.3 313.4L962.6 313.3L962.8 313.3L963.0 313.3L963.2 313.3L963.4 313.3L963.6 313.2L963.9 313.2L964.1 313.2L964.3 313.2L964.5 313.2L964.7 313.1L964.9 313.1L965.2 313.1L965.4 313.1L965.6 313.1L965.8 313.0L966.0 313.0L966.3 313.0L966.5 313.0L966.7 313.0L966.9 312.9L967.1 312.9L967.3 312.9L967.6 312.9L967.8 312.8L968.0 312.8L968.2 312.8L968.4 312.8L968.6 312.7L968.9 312.7L969.1 312.7L969.3 312.7L969.5 312.6L969.7 312.6L970.0 312.6L970.2 312.5L970.4 312.5L970.6 312.5L970.8 312.5L971.0 312.4L971.3 312.4L971.5 312.4L971.7 312.4L971.9 312.3L972.1 312.3L972.3 312.3L972.6 312.2L972.8 312.2L973.0 312.2L973.2 312.1L973.4 312.1L973.7 312.1L973.9 312.0L974.1 312.0L974.3 312.0L974.5 311.9L974.7 311.9L975.0 311.9L975.2 311.8L975.4 311.8L975.6 311.8L975.8 311.7L976.0 311.7L976.3 311.7L976.5 311.6L976.7 311.6L976.9 311.6L977.1 311.5L977.4 311.5L977.6 311.5L977.8 311.4L978.0 311.4L978.2 311.3L978.4 311.3L978.7 311.3L978.9 311.2L979.1 311.2L979.3 311.2L979.5 311.1L979.8 311.1L980.0 311.0L980.2 311.0L980.4 311.0L980.6 310.9L980.8 310.9L981.1 310.8L981.3 310.8L981.5 310.7L981.7 310.7L981.9 310.7L982.1 310.6L982.4 310.6L982.6 310.5L982.8 310.5L983.0 310.4L983.2 310.4L983.5 310.4L983.7 310.3L983.9 310.3L984.1 310.2L984.3 310.2L984.5 310.1L984.8 310.1L985.0 310.0L985.2 310.0L985.4 309.9L985.6 309.9L985.8 309.8L986.1 309.8L986.3 309.8L986.5 309.7L986.7 309.7L986.9 309.6L987.2 309.6L987.4 309.5L987.6 309.5L987.8 309.4L988.0 309.4L988.2 309.3L988.5 309.3L988.7 309.2L988.9 309.2L989.1 309.1L989.3 309.0L989.5 309.0L989.8 308.9L990.0 308.9L990.2 308.8L990.4 308.8L990.6 308.7L990.9 308.7L991.1 308.6L991.3 308.6L991.5 308.5L991.7 308.5L991.9 308.4L992.2 308.3L992.4 308.3L992.6 308.2L992.8 308.2L993.0 308.1L993.2 308.1L993.5 308.0L993.7 307.9L993.9 307.9L994.1 307.8L994.3 307.8L994.6 307.7L994.8 307.7L995.0 307.6L995.2 307.5L995.4 307.5L995.6 307.4L995.9 307.4L996.1 307.3L996.3 307.2L996.5 307.2L996.7 307.1L996.9 307.1L997.2 307.0L997.4 306.9L997.6 306.9L997.8 306.8L998.0 306.7L998.3 306.7L998.5 306.6L998.7 306.5L998.9 306.5L999.1 306.4L999.3 306.4L999.6 306.3L999.8 306.2L1000.0 306.2L1000.2 306.1L1000.4 306.0L1000.6 306.0L1000.9 305.9L1001.1 305.8L1001.3 305.8L1001.5 305.7L1001.7 305.6L1002.0 305.6L1002.2 305.5L1002.4 305.4L1002.6 305.4L1002.8 305.3L1003.0 305.2L1003.3 305.1L1003.5 305.1L1003.7 305.0L1003.9 304.9L1004.1 304.9L1004.4 304.8L1004.6 304.7L1004.8 304.7L1005.0 304.6L1005.2 304.5L1005.4 304.4L1005.7 304.4L1005.9 304.3L1006.1 304.2L1006.3 304.1L1006.5 304.1L1006.7 304.0L1007.0 303.9L1007.2 303.8L1007.4 303.8L1007.6 303.7L1007.8 303.6L1008.1 303.5L1008.3 303.5L1008.5 303.4L1008.7 303.3L1008.9 303.2L1009.1 303.2L1009.4 303.1L1009.6 303.0L1009.8 302.9L1010.0 302.9L1010.2 302.8L1010.4 302.7L1010.7 302.6L1010.9 302.5L1011.1 302.5L1011.3 302.4L1011.5 302.3L1011.8 302.2L1012.0 302.1L1012.2 302.1L1012.4 302.0L1012.6 301.9L1012.8 301.8L1013.1 301.7L1013.3 301.7L1013.5 301.6L1013.7 301.5L1013.9 301.4L1014.1 301.3L1014.4 301.3L1014.6 301.2L1014.8 301.1L1015.0 301.0L1015.2 300.9L1015.5 300.8L1015.7 300.8L1015.9 300.7L1016.1 300.6L1016.3 300.5L1016.5 300.4L1016.8 300.3L1017.0 300.2L1017.2 300.2L1017.4 300.1L1017.6 300.0L1017.8 299.9L1018.1 299.8L1018.3 299.7L1018.5 299.6L1018.7 299.5L1018.9 299.5L1019.2 299.4L1019.4 299.3L1019.6 299.2L1019.8 299.1L1020.0 299.0L1020.2 298.9L1020.5 298.8L1020.7 298.7L1020.9 298.7L1021.1 298.6L1021.3 298.5L1021.5 298.4L1021.8 298.3L1022.0 298.2L1022.2 298.1L1022.4 298.0L1022.6 297.9L1022.9 297.8L1023.1 297.7L1023.3 297.6L1023.5 297.6L1023.7 297.5L1023.9 297.4L1024.2 297.3L1024.4 297.2L1024.6 297.1L1024.8 297.0L1025.0 296.9L1025.2 296.8L1025.5 296.7L1025.7 296.6L1025.9 296.5L1026.1 296.4L1026.3 296.3L1026.6 296.2L1026.8 296.1L1027.0 296.0L1027.2 295.9L1027.4 295.8L1027.6 295.7L1027.9 295.6L1028.1 295.6L1028.3 295.5L1028.5 295.4L1028.7 295.3L1029.0 295.2L1029.2 295.1L1029.4 295.0L1029.6 294.9L1029.8 294.8L1030.0 294.7L1030.3 294.6L1030.5 294.5L1030.7 294.4L1030.9 294.3L1031.1 294.2L1031.3 294.1L1031.6 294.0L1031.8 293.9L1032.0 293.8L1032.2 293.7L1032.4 293.5L1032.7 293.4L1032.9 293.3L1033.1 293.2L1033.3 293.1L1033.5 293.0L1033.7 292.9L1034.0 292.8L1034.2 292.7L1034.4 292.6L1034.6 292.5L1034.8 292.4L1035.0 292.3L1035.3 292.2L1035.5 292.1L1035.7 292.0L1035.9 291.9L1036.1 291.8L1036.4 291.7L1036.6 291.6L1036.8 291.5L1037.0 291.4L1037.2 291.2L1037.4 291.1L1037.7 291.0L1037.9 290.9L1038.1 290.8L1038.3 290.7L1038.5 290.6L1038.7 290.5L1039.0 290.4L1039.2 290.3L1039.4 290.2L1039.6 290.1L1039.8 290.0L1040.1 289.8L1040.3 289.7L1040.5 289.6L1040.7 289.5L1040.9 289.4L1041.1 289.3L1041.4 289.2L1041.6 289.1L1041.8 289.0L1042.0 288.8L1042.2 288.7L1042.4 288.6L1042.7 288.5L1042.9 288.4L1043.1 288.3L1043.3 288.2L1043.5 288.1L1043.8 288.0L1044.0 287.8L1044.2 287.7L1044.4 287.6L1044.6 287.5L1044.8 287.4L1045.1 287.3L1045.3 287.2L1045.5 287.0L1045.7 286.9L1045.9 286.8L1046.1 286.7L1046.4 286.6L1046.6 286.5L1046.8 286.4L1047.0 286.2L1047.2 286.1L1047.5 286.0L1047.7 285.9L1047.9 285.8L1048.1 285.7L1048.3 285.5L1048.5 285.4L1048.8 285.3L1049.0 285.2L1049.2 285.1L1049.4 285.0L1049.6 284.8L1049.8 284.7L1050.1 284.6L1050.3 284.5L1050.5 284.4L1050.7 284.2L1050.9 284.1L1051.2 284.0L1051.4 283.9L1051.6 283.8L1051.8 283.7L1052.0 283.5L1052.2 283.4L1052.5 283.3L1052.7 283.2L1052.9 283.0L1053.1 282.9L1053.3 282.8L1053.6 282.7L1053.8 282.6L1054.0 282.4L1054.2 282.3L1054.4 282.2L1054.6 282.1L1054.9 282.0L1055.1 281.8L1055.3 281.7L1055.5 281.6L1055.7 281.5L1055.9 281.3L1056.2 281.2L1056.4 281.1L1056.6 281.0L1056.8 280.9L1057.0 280.7L1057.3 280.6L1057.5 280.5L1057.7 280.4L1057.9 280.2L1058.1 280.1L1058.3 280.0L1058.6 279.9L1058.8 279.7L1059.0 279.6L1059.2 279.5L1059.4 279.4L1059.6 279.2L1059.9 279.1L1060.1 279.0L1060.3 278.9L1060.5 278.7L1060.7 278.6L1061.0 278.5L1061.2 278.3L1061.4 278.2L1061.6 278.1L1061.8 278.0L1062.0 277.8L1062.3 277.7L1062.5 277.6L1062.7 277.4L1062.9 277.3L1063.1 277.2L1063.3 277.1L1063.6 276.9L1063.8 276.8L1064.0 276.7L1064.2 276.5L1064.4 276.4L1064.7 276.3L1064.9 276.2L1065.1 276.0L1065.3 275.9L1065.5 275.8L1065.7 275.6L1066.0 275.5L1066.2 275.4L1066.4 275.2L1066.6 275.1L1066.8 275.0L1067.0 274.8L1067.3 274.7L1067.5 274.6L1067.7 274.5L1067.9 274.3L1068.1 274.2L1068.4 274.1L1068.6 273.9L1068.8 273.8L1069.0 273.7L1069.2 273.5L1069.4 273.4L1069.7 273.3L1069.9 273.1L1070.1 273.0L1070.3 272.8L1070.5 272.7L1070.7 272.6L1071.0 272.4L1071.2 272.3L1071.4 272.2L1071.6 272.0L1071.8 271.9L1072.1 271.8L1072.3 271.6L1072.5 271.5L1072.7 271.4L1072.9 271.2L1073.1 271.1L1073.4 270.9L1073.6 270.8L1073.8 270.7L1074.0 270.5L1074.2 270.4L1074.4 270.3L1074.7 270.1L1074.9 270.0L1075.1 269.8L1075.3 269.7L1075.5 269.6L1075.8 269.4L1076.0 269.3L1076.2 269.1L1076.4 269.0L1076.6 268.9L1076.8 268.7L1077.1 268.6L1077.3 268.4L1077.5 268.3L1077.7 268.2L1077.9 268.0L1078.2 267.9L1078.4 267.7L1078.6 267.6L1078.8 267.5L1079.0 267.3L1079.2 267.2L1079.5 267.0L1079.7 266.9L1079.9 266.7L1080.1 266.6L1080.3 266.5L1080.5 266.3L1080.8 266.2L1081.0 266.0L1081.2 265.9L1081.4 265.7L1081.6 265.6L1081.9 265.4L1082.1 265.3L1082.3 265.2L1082.5 265.0L1082.7 264.9L1082.9 264.7L1083.2 264.6L1083.4 264.4L1083.6 264.3L1083.8 264.1L1084.0 264.0L1084.2 263.8" stroke="#1a1ec8" stroke-width="2"/>
<path d="M772.5 244.4L772.7 244.4L772.9 244.4L773.2 244.4L773.4 244.4L773.6 244.4L773.8 244.4L774.0 244.4L774.2 244.4L774.5 244.4L774.7 244.4L774.9 244.4L775.1 244.4L775.3 244.4L775.5 244.4L775.8 244.4L776.0 244.4L776.2 244.4L776.4 244.4L776.6 242.7L776.9 239.9L777.1 237.0L777.3 235.1L777.5 234.7L777.7 234.2L777.9 233.7L778.2 233.3L778.4 232.8L778.6 232.4L778.8 231.9L779.0 231.4L779.2 231.0L779.5 230.5L779.7 230.1L779.9 229.6L780.1 229.1L780.3 228.7L780.6 228.2L780.8 227.8L781.0 227.3L781.2 226.8L781.4 230.7L781.6 234.6L781.9 236.1L782.1 236.2L782.3 236.3L782.5 236.3L782.7 236.4L782.9 236.5L783.2 236.6L783.4 236.6L783.6 236.7L783.8 236.8L784.0 236.9L784.3 236.9L784.5 237.0L784.7 237.1L784.9 237.2L785.1 237.3L785.3 237.3L785.6 237.4L785.8 237.5L786.0 237.6L786.2 237.7L786.4 237.8L786.7 237.9L786.9 238.0L787.1 238.1L787.3 238.2L787.5 238.3L787.7 238.4L788.0 238.5L788.2 238.6L788.4 238.7L788.6 238.8L788.8 238.9L789.0 239.0L789.3 239.1L789.5 239.2L789.7 239.2L789.9 239.4L790.1 239.5L790.4 239.6L790.6 239.7L790.8 239.8L791.0 239.9L791.2 240.0L791.4 240.2L791.7 240.3L791.9 240.4L792.1 240.5L792.3 240.7L792.5 240.8L792.7 240.9L793.0 241.1L793.2 241.2L793.4 241.4L793.6 241.5L793.8 241.6L794.1 241.8L794.3 241.9L794.5 241.7L794.7 241.5L794.9 241.6L795.1 241.8L795.4 242.0L795.6 242.1L795.8 242.3L796.0 242.4L796.2 242.6L796.4 242.7L796.7 242.9L796.9 243.0L797.1 243.2L797.3 243.3L797.5 243.5L797.8 243.6L798.0 243.8L798.2 244.0L798.4 244.3L798.6 244.6L798.8 244.7L799.1 244.9L799.3 245.0L799.5 245.1L799.7 245.3L799.9 245.4L800.1 245.5L800.4 245.7L800.6 245.8L800.8 246.0L801.0 246.1L801.2 246.3L801.5 246.4L801.7 246.6L801.9 246.7L802.1 246.9L802.3 247.0L802.5 247.2L802.8 247.4L803.0 247.5L803.2 247.6L803.4 247.6L803.6 247.8L803.8 248.0L804.1 248.1L804.3 248.3L804.5 248.5L804.7 248.6L804.9 248.8L805.2 249.0L805.4 249.1L805.6 249.3L805.8 249.5L806.0 249.6L806.2 249.8L806.5 249.9L806.7 250.1L806.9 250.3L807.1 250.5L807.3 250.7L807.5 250.3L807.8 250.0L808.0 250.1L808.2 250.3L808.4 250.5L808.6 250.6L808.9 250.8L809.1 251.0L809.3 251.2L809.5 251.3L809.7 251.5L809.9 251.7L810.2 251.9L810.4 252.1L810.6 252.3L810.8 252.5L811.0 252.7L811.3 253.0L811.5 253.5L811.7 253.9L811.9 254.1L812.1 254.4L812.3 254.6L812.6 254.8L812.8 255.0L813.0 255.1L813.2 255.3L813.4 255.5L813.6 255.7L813.9 255.9L814.1 256.1L814.3 256.3L814.5 256.5L814.7 256.7L815.0 256.9L815.2 257.1L815.4 257.3L815.6 257.4L815.8 257.6L816.0 257.7L816.3 258.1L816.5 258.4L816.7 258.6L816.9 258.7L817.1 258.9L817.3 259.0L817.6 259.2L817.8 259.3L818.0 259.5L818.2 259.6L818.4 259.7L818.7 259.9L818.9 260.0L819.1 260.1L819.3 260.3L819.5 260.4L819.7 260.6L820.0 260.7L820.2 260.7L820.4 260.8L820.6 260.9L820.8 261.0L821.0 261.1L821.3 261.3L821.5 261.5L821.7 261.6L821.9 261.8L822.1 262.0L822.4 262.2L822.6 262.4L822.8 262.5L823.0 262.7L823.2 262.9L823.4 263.1L823.7 263.3L823.9 263.5L824.1 263.7L824.3 263.9L824.5 264.1L824.7 264.4L825.0 264.7L825.2 265.0L825.4 265.2L825.6 265.4L825.8 265.6L826.1 265.7L826.3 265.9L826.5 266.1L826.7 266.2L826.9 266.4L827.1 266.5L827.4 266.7L827.6 266.8L827.8 267.0L828.0 267.1L828.2 267.3L828.4 267.4L828.7 267.6L828.9 267.7L829.1 267.7L829.3 267.9L829.5 268.1L829.8 268.2L830.0 268.4L830.2 268.6L830.4 268.7L830.6 268.9L830.8 269.1L831.1 269.3L831.3 269.4L831.5 269.6L831.7 269.8L831.9 270.0L832.1 270.2L832.4 270.3L832.6 270.5L832.8 270.7L833.0 270.9L833.2 271.1L833.5 271.3L833.7 271.3L833.9 271.3L834.1 271.5L834.3 271.7L834.5 271.9L834.8 272.0L835.0 272.2L835.2 272.4L835.4 272.6L835.6 272.7L835.9 272.9L836.1 273.1L836.3 273.2L836.5 273.4L836.7 273.5L836.9 273.7L837.2 273.8L837.4 274.0L837.6 274.2L837.8 274.4L838.0 274.3L838.2 274.2L838.5 274.3L838.7 274.5L838.9 274.6L839.1 274.7L839.3 274.9L839.6 275.0L839.8 275.2L840.0 275.3L840.2 275.5L840.4 275.6L840.6 275.8L840.9 276.0L841.1 276.1L841.3 276.3L841.5 276.5L841.7 276.7L841.9 277.0L842.2 277.3L842.4 278.0L842.6 278.7L842.8 278.8L843.0 279.0L843.3 279.2L843.5 279.3L843.7 279.5L843.9 279.6L844.1 279.8L844.3 279.9L844.6 280.0L844.8 280.2L845.0 280.3L845.2 280.4L845.4 280.6L845.6 280.7L845.9 280.8L846.1 280.8L846.3 280.7L846.5 280.6L846.7 280.7L847.0 280.9L847.2 281.0L847.4 281.1L847.6 281.3L847.8 281.4L848.0 281.5L848.3 281.6L848.5 281.8L848.7 281.9L848.9 282.0L849.1 282.1L849.3 282.3L849.6 282.4L849.8 282.5L850.0 282.6L850.2 282.8L850.4 282.9L850.7 283.0L850.9 283.2L851.1 282.9L851.3 282.6L851.5 282.8L851.7 282.9L852.0 283.1L852.2 283.3L852.4 283.4L852.6 283.6L852.8 283.8L853.0 283.9L853.3 284.1L853.5 284.3L853.7 284.5L853.9 284.7L854.1 284.8L854.4 285.0L854.6 285.2L854.8 285.4L855.0 285.8L855.2 286.2L855.4 286.3L855.7 286.5L855.9 286.6L856.1 286.8L856.3 286.9L856.5 287.0L856.7 287.2L857.0 287.3L857.2 287.4L857.4 287.5L857.6 287.7L857.8 287.8L858.1 287.9L858.3 288.0L858.5 288.2L858.7 288.3L858.9 288.4L859.1 288.5L859.4 288.6L859.6 288.8L859.8 289.3L860.0 289.8L860.2 290.0L860.5 290.1L860.7 290.2L860.9 290.3L861.1 290.5L861.3 290.6L861.5 290.7L861.8 290.9L862.0 291.0L862.2 291.1L862.4 291.2L862.6 291.4L862.8 291.5L863.1 291.6L863.3 291.7L863.5 291.8L863.7 291.7L863.9 291.7L864.2 291.8L864.4 292.0L864.6 292.1L864.8 292.2L865.0 292.4L865.2 292.5L865.5 292.6L865.7 292.7L865.9 292.9L866.1 293.0L866.3 293.1L866.5 293.2L866.8 293.3L867.0 293.4L867.2 293.5L867.4 293.6L867.6 293.7L867.9 293.7L868.1 293.8L868.3 293.9L868.5 294.0L868.7 294.1L868.9 294.1L869.2 294.2L869.4 294.3L869.6 294.4L869.8 294.5L870.0 294.6L870.2 294.6L870.5 294.7L870.7 294.8L870.9 294.9L871.1 295.0L871.3 295.1L871.6 295.2L871.8 295.3L872.0 295.4L872.2 295.5L872.4 295.6L872.6 295.7L872.9 295.4L873.1 295.1L873.3 295.2L873.5 295.3L873.7 295.5L873.9 295.6L874.2 295.7L874.4 295.9L874.6 296.0L874.8 296.1L875.0 296.3L875.3 296.4L875.5 296.6L875.7 296.7L875.9 296.8L876.1 297.0L876.3 297.1L876.6 297.3L876.8 297.6L877.0 298.0L877.2 298.5L877.4 299.0L877.6 299.1L877.9 299.2L878.1 299.2L878.3 299.3L878.5 299.4L878.7 299.4L879.0 299.5L879.2 299.6L879.4 299.6L879.6 299.7L879.8 299.7L880.0 299.8L880.3 299.9L880.5 299.9L880.7 300.0L880.9 300.0L881.1 299.9L881.4 299.7L881.6 299.8L881.8 299.9L882.0 300.0L882.2 300.2L882.4 300.3L882.7 300.4L882.9 300.5L883.1 300.6L883.3 300.7L883.5 300.8L883.7 300.9L884.0 301.0L884.2 301.1L884.4 301.2L884.6 301.3L884.8 301.4L885.1 301.5L885.3 301.6L885.5 301.7L885.7 301.8L885.9 301.9L886.1 302.0L886.4 302.0L886.6 302.1L886.8 302.2L887.0 302.3L887.2 302.3L887.4 302.4L887.7 302.5L887.9 302.5L888.1 302.6L888.3 302.7L888.5 302.7L888.8 302.8L889.0 302.9L889.2 302.9L889.4 303.0L889.6 303.1L889.8 303.2L890.1 303.2L890.3 303.4L890.5 303.5L890.7 303.6L890.9 303.6L891.1 303.7L891.4 303.8L891.6 303.9L891.8 304.0L892.0 304.1L892.2 304.2L892.5 304.3L892.7 304.4L892.9 304.5L893.1 304.6L893.3 304.7L893.5 304.8L893.8 304.9L894.0 305.0L894.2 305.1L894.4 305.2L894.6 305.2L894.8 305.3L895.1 305.4L895.3 305.5L895.5 305.6L895.7 305.7L895.9 305.8L896.2 305.8L896.4 305.9L896.6 306.0L896.8 306.0L897.0 306.1L897.2 306.2L897.5 306.2L897.7 306.3L897.9 306.3L898.1 306.3L898.3 306.4L898.5 306.4L898.8 306.5L899.0 306.3L899.2 306.2L899.4 306.2L899.6 306.3L899.9 306.3L900.1 306.4L900.3 306.4L900.5 306.5L900.7 306.5L900.9 306.6L901.2 306.6L901.4 306.7L901.6 306.8L901.8 306.9L902.0 306.9L902.2 307.0L902.5 307.1L902.7 307.2L902.9 307.4L903.1 307.5L903.3 307.3L903.6 307.0L903.8 307.1L904.0 307.1L904.2 307.2L904.4 307.3L904.6 307.4L904.9 307.5L905.1 307.6L905.3 307.6L905.5 307.7L905.7 307.8L906.0 307.9L906.2 308.0L906.4 308.1L906.6 308.1L906.8 308.2L907.0 308.3L907.3 308.6L907.5 308.8L907.7 308.5L907.9 308.1L908.1 308.2L908.3 308.3L908.6 308.3L908.8 308.4L909.0 308.4L909.2 308.5L909.4 308.5L909.7 308.6L909.9 308.7L910.1 308.7L910.3 308.8L910.5 308.9L910.7 309.0L911.0 309.1L911.2 309.1L911.4 309.3L911.6 309.5L911.8 309.8L912.0 309.4L912.3 309.0L912.5 309.1L912.7 309.1L912.9 309.2L913.1 309.3L913.4 309.4L913.6 309.5L913.8 309.6L914.0 309.6L914.2 309.7L914.4 309.8L914.7 309.9L914.9 310.0L915.1 310.1L915.3 310.1L915.5 310.2L915.7 310.4L916.0 310.6L916.2 310.9L916.4 310.7L916.6 310.4L916.8 310.4L917.1 310.5L917.3 310.5L917.5 310.5L917.7 310.6L917.9 310.6L918.1 310.6L918.4 310.6L918.6 310.6L918.8 310.7L919.0 310.7L919.2 310.7L919.4 310.7L919.7 310.8L919.9 310.8L920.1 310.9L920.3 311.0L920.5 311.2L920.8 310.9L921.0 310.5L921.2 310.6L921.4 310.6L921.6 310.7L921.8 310.7L922.1 310.8L922.3 310.8L922.5 310.9L922.7 311.0L922.9 311.0L923.1 311.1L923.4 311.2L923.6 311.3L923.8 311.4L924.0 311.4L924.2 311.5L924.5 311.7L924.7 311.9L924.9 312.1L925.1 311.8L925.3 311.5L925.5 311.6L925.8 311.6L926.0 311.7L926.2 311.7L926.4 311.8L926.6 311.8L926.8 311.9L927.1 311.9L927.3 312.0L927.5 312.0L927.7 312.0L927.9 312.1L928.2 312.1L928.4 312.2L928.6 312.2L928.8 312.3L929.0 312.5L929.2 312.7L929.5 313.2L929.7 313.6L929.9 313.6L930.1 313.6L930.3 313.6L930.6 313.6L930.8 313.6L931.0 313.6L931.2 313.6L931.4 313.6L931.6 313.6L931.9 313.6L932.1 313.6L932.3 313.6L932.5 313.6L932.7 313.6L932.9 313.7L933.2 313.6L933.4 313.4L933.6 313.2L933.8 313.7L934.0 314.2L934.3 314.2L934.5 314.2L934.7 314.3L934.9 314.3L935.1 314.3L935.3 314.3L935.6 314.3L935.8 314.3L936.0 314.3L936.2 314.3L936.4 314.3L936.6 314.2L936.9 314.2L937.1 314.2L937.3 314.2L937.5 314.1L937.7 313.9L938.0 313.6L938.2 313.6L938.4 313.6L938.6 313.6L938.8 313.6L939.0 313.6L939.3 313.6L939.5 313.6L939.7 313.6L939.9 313.6L940.1 313.7L940.3 313.7L940.6 313.7L940.8 313.7L941.0 313.7L941.2 313.7L941.4 313.7L941.7 313.8L941.9 313.8L942.1 313.8L942.3 313.8L942.5 313.9L942.7 313.9L943.0 313.9L943.2 314.0L943.4 314.0L943.6 314.0L943.8 314.0L944.0 314.1L944.3 314.1L944.5 314.1L944.7 314.1L944.9 314.1L945.1 314.2L945.4 314.2L945.6 314.2L945.8 314.2L946.0 314.2L946.2 314.2L946.4 314.1L946.7 314.1L946.9 313.7L947.1 313.2L947.3 313.2L947.5 313.2L947.7 313.2L948.0 313.1L948.2 313.1L948.4 313.1L948.6 313.1L948.8 313.1L949.1 313.1L949.3 313.1L949.5 313.1L949.7 313.1L949.9 313.0L950.1 313.0L950.4 313.1L950.6 313.1L950.8 313.3L951.0 313.5L951.2 313.0L951.4 312.5L951.7 312.5L951.9 312.5L952.1 312.5L952.3 312.6L952.5 312.6L952.8 312.6L953.0 312.6L953.2 312.7L953.4 312.7L953.6 312.7L953.8 312.8L954.1 312.8L954.3 312.9L954.5 312.9L954.7 313.0L954.9 313.1L955.2 313.3L955.4 313.6L955.6 313.7L955.8 313.8L956.0 313.8L956.2 313.8L956.5 313.8L956.7 313.8L956.9 313.8L957.1 313.8L957.3 313.8L957.5 313.7L957.8 313.7L958.0 313.7L958.2 313.7L958.4 313.6L958.6 313.6L958.9 313.6L959.1 313.6L959.3 313.5L959.5 313.5L959.7 313.4L959.9 313.1L960.2 312.8L960.4 312.8L960.6 312.8L960.8 312.8L961.0 312.8L961.2 312.8L961.5 312.8L961.7 312.8L961.9 312.8L962.1 312.9L962.3 312.9L962.6 312.9L962.8 312.9L963.0 312.9L963.2 313.0L963.4 313.0L963.6 313.1L963.9 313.2L964.1 313.4L964.3 313.7L964.5 314.1L964.7 314.1L964.9 314.0L965.2 314.0L965.4 314.0L965.6 314.0L965.8 313.9L966.0 313.9L966.3 313.8L966.5 313.8L966.7 313.7L966.9 313.7L967.1 313.6L967.3 313.6L967.6 313.5L967.8 313.4L968.0 313.3L968.2 313.1L968.4 312.8L968.6 313.0L968.9 313.1L969.1 313.0L969.3 313.0L969.5 312.9L969.7 312.9L970.0 312.8L970.2 312.8L970.4 312.7L970.6 312.7L970.8 312.7L971.0 312.6L971.3 312.6L971.5 312.5L971.7 312.5L971.9 312.5L972.1 312.5L972.3 312.4L972.6 312.3L972.8 312.2L973.0 311.7L973.2 311.2L973.4 311.2L973.7 311.2L973.9 311.2L974.1 311.2L974.3 311.2L974.5 311.2L974.7 311.2L975.0 311.2L975.2 311.3L975.4 311.3L975.6 311.3L975.8 311.3L976.0 311.3L976.3 311.3L976.5 311.3L976.7 311.4L976.9 311.6L977.1 311.8L977.4 311.7L977.6 311.7L977.8 311.6L978.0 311.5L978.2 311.5L978.4 311.4L978.7 311.4L978.9 311.3L979.1 311.2L979.3 311.2L979.5 311.1L979.8 311.0L980.0 311.0L980.2 310.9L980.4 310.8L980.6 310.8L980.8 310.7L981.1 310.7L981.3 310.6L981.5 310.6L981.7 310.8L981.9 311.0L982.1 310.9L982.4 310.9L982.6 310.8L982.8 310.8L983.0 310.7L983.2 310.7L983.5 310.6L983.7 310.6L983.9 310.5L984.1 310.5L984.3 310.4L984.5 310.4L984.8 310.3L985.0 310.3L985.2 310.2L985.4 310.1L985.6 310.0L985.8 309.8L986.1 309.2L986.3 308.5L986.5 308.5L986.7 308.5L986.9 308.5L987.2 308.4L987.4 308.4L987.6 308.4L987.8 308.3L988.0 308.3L988.2 308.3L988.5 308.2L988.7 308.2L988.9 308.2L989.1 308.2L989.3 308.2L989.5 308.1L989.8 308.2L990.0 308.4L990.2 308.7L990.4 309.2L990.6 309.7L990.9 309.6L991.1 309.6L991.3 309.5L991.5 309.4L991.7 309.4L991.9 309.3L992.2 309.3L992.4 309.2L992.6 309.1L992.8 309.1L993.0 309.0L993.2 308.9L993.5 308.9L993.7 308.8L993.9 308.7L994.1 308.5L994.3 308.2L994.6 307.9L994.8 307.5L995.0 307.2L995.2 307.1L995.4 307.1L995.6 307.0L995.9 307.0L996.1 306.9L996.3 306.9L996.5 306.8L996.7 306.7L996.9 306.7L997.2 306.6L997.4 306.6L997.6 306.5L997.8 306.4L998.0 306.4L998.3 306.3L998.5 306.3L998.7 306.3L998.9 306.4L999.1 306.8L999.3 307.2L999.6 307.1L999.8 307.0L1000.0 306.9L1000.2 306.8L1000.4 306.7L1000.6 306.6L1000.9 306.5L1001.1 306.4L1001.3 306.3L1001.5 306.2L1001.7 306.1L1002.0 306.0L1002.2 305.9L1002.4 305.8L1002.6 305.8L1002.8 305.6L1003.0 305.3L1003.3 305.0L1003.5 305.4L1003.7 305.9L1003.9 305.8L1004.1 305.7L1004.4 305.7L1004.6 305.6L1004.8 305.6L1005.0 305.5L1005.2 305.4L1005.4 305.4L1005.7 305.3L1005.9 305.2L1006.1 305.1L1006.3 305.0L1006.5 304.9L1006.7 304.8L1007.0 304.7L1007.2 304.5L1007.4 304.2L1007.6 303.9L1007.8 303.4L1008.1 303.0L1008.3 302.9L1008.5 302.9L1008.7 302.8L1008.9 302.7L1009.1 302.6L1009.4 302.6L1009.6 302.5L1009.8 302.4L1010.0 302.3L1010.2 302.3L1010.4 302.2L1010.7 302.2L1010.9 302.1L1011.1 302.0L1011.3 302.0L1011.5 302.0L1011.8 302.1L1012.0 302.2L1012.2 302.1L1012.4 302.0L1012.6 301.9L1012.8 301.9L1013.1 301.8L1013.3 301.7L1013.5 301.7L1013.7 301.6L1013.9 301.5L1014.1 301.5L1014.4 301.4L1014.6 301.3L1014.8 301.2L1015.0 301.2L1015.2 301.1L1015.5 301.0L1015.7 300.9L1015.9 300.8L1016.1 300.8L1016.3 300.7L1016.5 300.1L1016.8 299.5L1017.0 299.4L1017.2 299.4L1017.4 299.3L1017.6 299.2L1017.8 299.1L1018.1 299.0L1018.3 298.9L1018.5 298.8L1018.7 298.7L1018.9 298.7L1019.2 298.6L1019.4 298.5L1019.6 298.4L1019.8 298.4L1020.0 298.3L1020.2 298.3L1020.5 298.5L1020.7 298.6L1020.9 298.7L1021.1 298.9L1021.3 298.8L1021.5 298.7L1021.8 298.6L1022.0 298.5L1022.2 298.4L1022.4 298.3L1022.6 298.3L1022.9 298.2L1023.1 298.1L1023.3 298.0L1023.5 297.9L1023.7 297.8L1023.9 297.7L1024.2 297.6L1024.4 297.5L1024.6 297.4L1024.8 297.2L1025.0 297.0L1025.2 296.4L1025.5 295.9L1025.7 295.8L1025.9 295.7L1026.1 295.6L1026.3 295.6L1026.6 295.5L1026.8 295.4L1027.0 295.3L1027.2 295.2L1027.4 295.1L1027.6 295.0L1027.9 294.9L1028.1 294.8L1028.3 294.7L1028.5 294.6L1028.7 294.5L1029.0 294.5L1029.2 294.6L1029.4 294.8L1029.6 294.3L1029.8 293.9L1030.0 293.8L1030.3 293.7L1030.5 293.6L1030.7 293.5L1030.9 293.4L1031.1 293.3L1031.3 293.2L1031.6 293.1L1031.8 293.0L1032.0 292.9L1032.2 292.8L1032.4 292.8L1032.7 292.7L1032.9 292.6L1033.1 292.6L1033.3 292.5L1033.5 292.6L1033.7 292.7L1034.0 292.0L1034.2 291.3L1034.4 291.3L1034.6 291.2L1034.8 291.2L1035.0 291.1L1035.3 291.1L1035.5 291.0L1035.7 290.9L1035.9 290.9L1036.1 290.8L1036.4 290.8L1036.6 290.7L1036.8 290.6L1037.0 290.6L1037.2 290.5L1037.4 290.5L1037.7 290.5L1037.9 290.7L1038.1 290.9L1038.3 290.9L1038.5 291.0L1038.7 290.9L1039.0 290.8L1039.2 290.7L1039.4 290.5L1039.6 290.4L1039.8 290.3L1040.1 290.2L1040.3 290.1L1040.5 290.0L1040.7 289.8L1040.9 289.7L1041.1 289.6L1041.4 289.5L1041.6 289.4L1041.8 289.3L1042.0 289.2L1042.2 289.0L1042.4 288.8L1042.7 288.7L1042.9 288.6L1043.1 288.5L1043.3 288.4L1043.5 288.3L1043.8 288.2L1044.0 288.1L1044.2 288.0L1044.4 287.9L1044.6 287.8L1044.8 287.7L1045.1 287.6L1045.3 287.5L1045.5 287.4L1045.7 287.3L1045.9 287.2L1046.1 287.0L1046.4 286.9L1046.6 286.8L1046.8 286.7L1047.0 285.9L1047.2 285.2L1047.5 285.1L1047.7 285.0L1047.9 284.9L1048.1 284.8L1048.3 284.6L1048.5 284.5L1048.8 284.4L1049.0 284.2L1049.2 284.1L1049.4 284.0L1049.6 283.9L1049.8 283.8L1050.1 283.7L1050.3 283.6L1050.5 283.5L1050.7 283.5L1050.9 283.7L1051.2 283.8L1051.4 283.7L1051.6 283.6L1051.8 283.5L1052.0 283.4L1052.2 283.2L1052.5 283.1L1052.7 283.0L1052.9 282.9L1053.1 282.8L1053.3 282.7L1053.6 282.6L1053.8 282.5L1054.0 282.4L1054.2 282.3L1054.4 282.2L1054.6 282.1L1054.9 282.0L1055.1 281.9L1055.3 281.8L1055.5 281.7L1055.7 281.6L1055.9 281.4L1056.2 281.3L1056.4 281.2L1056.6 281.1L1056.8 280.9L1057.0 280.8L1057.3 280.7L1057.5 280.5L1057.7 280.4L1057.9 280.3L1058.1 280.1L1058.3 280.0L1058.6 279.8L1058.8 279.7L1059.0 279.5L1059.2 279.4L1059.4 279.2L1059.6 279.1L1059.9 278.9L1060.1 278.5L1060.3 278.1L1060.5 278.0L1060.7 277.8L1061.0 277.7L1061.2 277.6L1061.4 277.4L1061.6 277.3L1061.8 277.2L1062.0 277.1L1062.3 277.0L1062.5 276.9L1062.7 276.8L1062.9 276.7L1063.1 276.6L1063.3 276.5L1063.6 276.4L1063.8 276.4L1064.0 276.4L1064.2 276.4L1064.4 276.7L1064.7 277.0L1064.9 276.9L1065.1 276.7L1065.3 276.6L1065.5 276.5L1065.7 276.3L1066.0 276.2L1066.2 276.1L1066.4 275.9L1066.6 275.8L1066.8 275.6L1067.0 275.5L1067.3 275.3L1067.5 275.1L1067.7 275.0L1067.9 274.8L1068.1 274.6L1068.4 274.2L1068.6 273.9L1068.8 273.7L1069.0 273.6L1069.2 273.4L1069.4 273.3L1069.7 273.1L1069.9 273.0L1070.1 272.9L1070.3 272.7L1070.5 272.6L1070.7 272.5L1071.0 272.4L1071.2 272.2L1071.4 272.1L1071.6 272.0L1071.8 271.9L1072.1 271.8L1072.3 271.6L1072.5 271.5L1072.7 271.4L1072.9 271.3L1073.1 271.2L1073.4 271.1L1073.6 271.0L1073.8 270.9L1074.0 270.7L1074.2 270.6L1074.4 270.5L1074.7 270.4L1074.9 270.3L1075.1 270.1L1075.3 270.0L1075.5 269.9L1075.8 269.7L1076.0 269.6L1076.2 269.5L1076.4 269.3L1076.6 269.2L1076.8 269.0L1077.1 268.8L1077.3 268.7L1077.5 268.7L1077.7 268.6L1077.9 268.5L1078.2 268.3L1078.4 268.1L1078.6 267.9L1078.8 267.7L1079.0 267.6L1079.2 267.4L1079.5 267.2L1079.7 267.0L1079.9 266.9L1080.1 266.7L1080.3 266.5L1080.5 266.3L1080.8 266.2L1081.0 266.0L1081.2 265.8L1081.4 265.6L1081.6 265.4L1081.9 265.4L1082.1 265.3L1082.3 265.2L1082.5 265.1L1082.7 264.9L1082.9 264.8L1083.2 264.7L1083.4 264.5L1083.6 264.4L1083.8 264.3L1084.0 264.1L1084.2 264.0" stroke="#e2401c" stroke-width="2" stroke-opacity="0.9"/>
</g>
<rect x="772.5" y="221.2" width="435.4" height="103.4" stroke="#505050" stroke-width="1.1" fill="none"/>
<circle cx="1084.2" cy="263.8" r="4.3" fill="none" stroke="#8e2c3a" stroke-width="1.2"/>
<g font-family="Liberation Serif, serif" font-size="18.3" fill="#3c3c3c" text-anchor="end">
<text transform="translate(766 226.1) scale(1.06 1)">4</text>
<text transform="translate(766 244.9) scale(1.06 1)">2</text>
<text transform="translate(766 263.7) scale(1.06 1)">0</text>
<text transform="translate(766 282.5) scale(1.06 1)">-2</text>
<text transform="translate(766 301.3) scale(1.06 1)">-4</text>
<text transform="translate(766 320.1) scale(1.06 1)">-6</text>
</g>
<g transform="translate(739.0 272.9) rotate(-90)" font-family="Liberation Serif, serif" fill="#3c3c3c"><text x="-28.40" y="0" font-size="21" font-style="italic" textLength="15.3" lengthAdjust="spacingAndGlyphs">X</text><text x="-3.45" y="0.8" font-size="23.5" fill="#555">(</text><text x="3.35" y="0" font-size="21" font-style="italic" textLength="19.3" lengthAdjust="spacingAndGlyphs">m</text><text x="22.65" y="0.8" font-size="23.5" fill="#555">)</text><path d="M10.35 -11.7l2.7 -2.5l2.7 2.5" fill="none" stroke="#3c3c3c" stroke-width="1.05"/></g>
<clipPath id="cp1"><rect x="771.5" y="368.6" width="437.4" height="102.8"/></clipPath>
<rect x="772.5" y="368.6" width="435.4" height="102.8" fill="#fff"/>
<g fill="none">
<line x1="859.6" y1="368.6" x2="859.6" y2="471.4" stroke="#262626" stroke-opacity="0.12" stroke-width="1"/>
<line x1="859.6" y1="368.6" x2="859.6" y2="373.0" stroke="#505050" stroke-width="1.1"/>
<line x1="859.6" y1="471.4" x2="859.6" y2="467.0" stroke="#505050" stroke-width="1.1"/>
<line x1="946.7" y1="368.6" x2="946.7" y2="471.4" stroke="#262626" stroke-opacity="0.12" stroke-width="1"/>
<line x1="946.7" y1="368.6" x2="946.7" y2="373.0" stroke="#505050" stroke-width="1.1"/>
<line x1="946.7" y1="471.4" x2="946.7" y2="467.0" stroke="#505050" stroke-width="1.1"/>
<line x1="1033.7" y1="368.6" x2="1033.7" y2="471.4" stroke="#262626" stroke-opacity="0.12" stroke-width="1"/>
<line x1="1033.7" y1="368.6" x2="1033.7" y2="373.0" stroke="#505050" stroke-width="1.1"/>
<line x1="1033.7" y1="471.4" x2="1033.7" y2="467.0" stroke="#505050" stroke-width="1.1"/>
<line x1="1120.8" y1="368.6" x2="1120.8" y2="471.4" stroke="#262626" stroke-opacity="0.12" stroke-width="1"/>
<line x1="1120.8" y1="368.6" x2="1120.8" y2="373.0" stroke="#505050" stroke-width="1.1"/>
<line x1="1120.8" y1="471.4" x2="1120.8" y2="467.0" stroke="#505050" stroke-width="1.1"/>
<line x1="772.5" y1="391.5" x2="1207.9" y2="391.5" stroke="#262626" stroke-opacity="0.12" stroke-width="1"/>
<line x1="772.5" y1="391.5" x2="776.9" y2="391.5" stroke="#505050" stroke-width="1.1"/>
<line x1="1207.9" y1="391.5" x2="1203.5" y2="391.5" stroke="#505050" stroke-width="1.1"/>
<line x1="772.5" y1="414.4" x2="1207.9" y2="414.4" stroke="#262626" stroke-opacity="0.12" stroke-width="1"/>
<line x1="772.5" y1="414.4" x2="776.9" y2="414.4" stroke="#505050" stroke-width="1.1"/>
<line x1="1207.9" y1="414.4" x2="1203.5" y2="414.4" stroke="#505050" stroke-width="1.1"/>
<line x1="772.5" y1="437.3" x2="1207.9" y2="437.3" stroke="#262626" stroke-opacity="0.12" stroke-width="1"/>
<line x1="772.5" y1="437.3" x2="776.9" y2="437.3" stroke="#505050" stroke-width="1.1"/>
<line x1="1207.9" y1="437.3" x2="1203.5" y2="437.3" stroke="#505050" stroke-width="1.1"/>
<line x1="772.5" y1="460.2" x2="1207.9" y2="460.2" stroke="#262626" stroke-opacity="0.12" stroke-width="1"/>
<line x1="772.5" y1="460.2" x2="776.9" y2="460.2" stroke="#505050" stroke-width="1.1"/>
<line x1="1207.9" y1="460.2" x2="1203.5" y2="460.2" stroke="#505050" stroke-width="1.1"/>
</g>
<g clip-path="url(#cp1)" fill="none" stroke-linejoin="round">
<path d="M772.5 414.6L772.7 414.3L772.9 414.0L773.2 413.8L773.4 413.5L773.6 413.2L773.8 412.9L774.0 412.6L774.2 412.3L774.5 412.0L774.7 411.7L774.9 411.4L775.1 411.1L775.3 410.8L775.5 410.5L775.8 410.2L776.0 409.9L776.2 409.6L776.4 409.3L776.6 409.0L776.9 408.7L777.1 408.4L777.3 408.1L777.5 407.8L777.7 407.5L777.9 407.2L778.2 406.9L778.4 406.6L778.6 406.3L778.8 406.0L779.0 405.7L779.2 405.4L779.5 405.1L779.7 404.8L779.9 404.5L780.1 404.2L780.3 403.9L780.6 403.6L780.8 403.3L781.0 403.0L781.2 402.7L781.4 402.4L781.6 402.1L781.9 401.8L782.1 401.5L782.3 401.2L782.5 400.9L782.7 400.6L782.9 400.3L783.2 400.0L783.4 399.7L783.6 399.4L783.8 399.1L784.0 398.8L784.3 398.5L784.5 398.2L784.7 397.9L784.9 397.7L785.1 397.4L785.3 397.1L785.6 396.8L785.8 396.5L786.0 396.3L786.2 396.0L786.4 395.7L786.7 395.4L786.9 395.2L787.1 394.9L787.3 394.6L787.5 394.4L787.7 394.1L788.0 393.8L788.2 393.6L788.4 393.3L788.6 393.0L788.8 392.8L789.0 392.5L789.3 392.3L789.5 392.0L789.7 391.8L789.9 391.5L790.1 391.3L790.4 391.0L790.6 390.8L790.8 390.5L791.0 390.3L791.2 390.1L791.4 389.8L791.7 389.6L791.9 389.3L792.1 389.1L792.3 388.9L792.5 388.7L792.7 388.4L793.0 388.2L793.2 388.0L793.4 387.8L793.6 387.5L793.8 387.3L794.1 387.1L794.3 386.9L794.5 386.7L794.7 386.5L794.9 386.3L795.1 386.0L795.4 385.8L795.6 385.6L795.8 385.4L796.0 385.2L796.2 385.0L796.4 384.8L796.7 384.6L796.9 384.4L797.1 384.3L797.3 384.1L797.5 383.9L797.8 383.7L798.0 383.5L798.2 383.3L798.4 383.1L798.6 383.0L798.8 382.8L799.1 382.6L799.3 382.4L799.5 382.3L799.7 382.1L799.9 381.9L800.1 381.8L800.4 381.6L800.6 381.4L800.8 381.3L801.0 381.1L801.2 381.0L801.5 380.8L801.7 380.7L801.9 380.5L802.1 380.4L802.3 380.2L802.5 380.1L802.8 379.9L803.0 379.8L803.2 379.6L803.4 379.5L803.6 379.3L803.8 379.2L804.1 379.1L804.3 378.9L804.5 378.8L804.7 378.7L804.9 378.5L805.2 378.4L805.4 378.3L805.6 378.2L805.8 378.0L806.0 377.9L806.2 377.8L806.5 377.7L806.7 377.6L806.9 377.4L807.1 377.3L807.3 377.2L807.5 377.1L807.8 377.0L808.0 376.9L808.2 376.8L808.4 376.7L808.6 376.6L808.9 376.5L809.1 376.4L809.3 376.3L809.5 376.2L809.7 376.1L809.9 376.0L810.2 375.9L810.4 375.8L810.6 375.7L810.8 375.6L811.0 375.5L811.3 375.4L811.5 375.4L811.7 375.3L811.9 375.2L812.1 375.1L812.3 375.0L812.6 375.0L812.8 374.9L813.0 374.8L813.2 374.7L813.4 374.6L813.6 374.6L813.9 374.5L814.1 374.4L814.3 374.4L814.5 374.3L814.7 374.2L815.0 374.2L815.2 374.1L815.4 374.0L815.6 374.0L815.8 373.9L816.0 373.9L816.3 373.8L816.5 373.7L816.7 373.7L816.9 373.6L817.1 373.6L817.3 373.5L817.6 373.5L817.8 373.4L818.0 373.4L818.2 373.3L818.4 373.3L818.7 373.2L818.9 373.2L819.1 373.1L819.3 373.1L819.5 373.1L819.7 373.0L820.0 373.0L820.2 372.9L820.4 372.9L820.6 372.9L820.8 372.8L821.0 372.8L821.3 372.8L821.5 372.7L821.7 372.7L821.9 372.7L822.1 372.6L822.4 372.6L822.6 372.6L822.8 372.6L823.0 372.5L823.2 372.5L823.4 372.5L823.7 372.5L823.9 372.4L824.1 372.4L824.3 372.4L824.5 372.4L824.7 372.4L825.0 372.3L825.2 372.3L825.4 372.3L825.6 372.3L825.8 372.3L826.1 372.3L826.3 372.3L826.5 372.2L826.7 372.2L826.9 372.2L827.1 372.2L827.4 372.2L827.6 372.2L827.8 372.2L828.0 372.2L828.2 372.2L828.4 372.2L828.7 372.2L828.9 372.2L829.1 372.2L829.3 372.2L829.5 372.2L829.8 372.2L830.0 372.2L830.2 372.2L830.4 372.2L830.6 372.2L830.8 372.2L831.1 372.2L831.3 372.2L831.5 372.2L831.7 372.2L831.9 372.2L832.1 372.2L832.4 372.2L832.6 372.2L832.8 372.2L833.0 372.3L833.2 372.3L833.5 372.3L833.7 372.3L833.9 372.3L834.1 372.3L834.3 372.3L834.5 372.4L834.8 372.4L835.0 372.4L835.2 372.4L835.4 372.4L835.6 372.4L835.9 372.5L836.1 372.5L836.3 372.5L836.5 372.5L836.7 372.6L836.9 372.6L837.2 372.6L837.4 372.6L837.6 372.7L837.8 372.7L838.0 372.7L838.2 372.7L838.5 372.8L838.7 372.8L838.9 372.8L839.1 372.8L839.3 372.9L839.6 372.9L839.8 372.9L840.0 373.0L840.2 373.0L840.4 373.0L840.6 373.1L840.9 373.1L841.1 373.1L841.3 373.2L841.5 373.2L841.7 373.2L841.9 373.3L842.2 373.3L842.4 373.4L842.6 373.4L842.8 373.4L843.0 373.5L843.3 373.5L843.5 373.6L843.7 373.6L843.9 373.6L844.1 373.7L844.3 373.7L844.6 373.8L844.8 373.8L845.0 373.9L845.2 373.9L845.4 374.0L845.6 374.0L845.9 374.0L846.1 374.1L846.3 374.1L846.5 374.2L846.7 374.2L847.0 374.3L847.2 374.3L847.4 374.4L847.6 374.4L847.8 374.5L848.0 374.5L848.3 374.6L848.5 374.6L848.7 374.7L848.9 374.8L849.1 374.8L849.3 374.9L849.6 374.9L849.8 375.0L850.0 375.0L850.2 375.1L850.4 375.1L850.7 375.2L850.9 375.3L851.1 375.3L851.3 375.4L851.5 375.4L851.7 375.5L852.0 375.6L852.2 375.6L852.4 375.7L852.6 375.7L852.8 375.8L853.0 375.9L853.3 375.9L853.5 376.0L853.7 376.1L853.9 376.1L854.1 376.2L854.4 376.3L854.6 376.3L854.8 376.4L855.0 376.5L855.2 376.5L855.4 376.6L855.7 376.7L855.9 376.7L856.1 376.8L856.3 376.9L856.5 376.9L856.7 377.0L857.0 377.1L857.2 377.2L857.4 377.2L857.6 377.3L857.8 377.4L858.1 377.4L858.3 377.5L858.5 377.6L858.7 377.7L858.9 377.7L859.1 377.8L859.4 377.9L859.6 378.0L859.8 378.0L860.0 378.1L860.2 378.2L860.5 378.3L860.7 378.4L860.9 378.4L861.1 378.5L861.3 378.6L861.5 378.7L861.8 378.7L862.0 378.8L862.2 378.9L862.4 379.0L862.6 379.1L862.8 379.2L863.1 379.2L863.3 379.3L863.5 379.4L863.7 379.5L863.9 379.6L864.2 379.7L864.4 379.7L864.6 379.8L864.8 379.9L865.0 380.0L865.2 380.1L865.5 380.2L865.7 380.2L865.9 380.3L866.1 380.4L866.3 380.5L866.5 380.6L866.8 380.7L867.0 380.8L867.2 380.9L867.4 381.0L867.6 381.0L867.9 381.1L868.1 381.2L868.3 381.3L868.5 381.4L868.7 381.5L868.9 381.6L869.2 381.7L869.4 381.8L869.6 381.9L869.8 382.0L870.0 382.0L870.2 382.1L870.5 382.2L870.7 382.3L870.9 382.4L871.1 382.5L871.3 382.6L871.6 382.7L871.8 382.8L872.0 382.9L872.2 383.0L872.4 383.1L872.6 383.2L872.9 383.3L873.1 383.4L873.3 383.5L873.5 383.6L873.7 383.7L873.9 383.8L874.2 383.9L874.4 384.0L874.6 384.1L874.8 384.2L875.0 384.3L875.3 384.4L875.5 384.5L875.7 384.6L875.9 384.7L876.1 384.8L876.3 384.9L876.6 385.0L876.8 385.1L877.0 385.2L877.2 385.3L877.4 385.4L877.6 385.5L877.9 385.6L878.1 385.7L878.3 385.8L878.5 385.9L878.7 386.0L879.0 386.1L879.2 386.2L879.4 386.3L879.6 386.4L879.8 386.5L880.0 386.6L880.3 386.7L880.5 386.8L880.7 386.9L880.9 387.1L881.1 387.2L881.4 387.3L881.6 387.4L881.8 387.5L882.0 387.6L882.2 387.7L882.4 387.8L882.7 387.9L882.9 388.0L883.1 388.1L883.3 388.2L883.5 388.3L883.7 388.5L884.0 388.6L884.2 388.7L884.4 388.8L884.6 388.9L884.8 389.0L885.1 389.1L885.3 389.2L885.5 389.3L885.7 389.4L885.9 389.6L886.1 389.7L886.4 389.8L886.6 389.9L886.8 390.0L887.0 390.1L887.2 390.2L887.4 390.3L887.7 390.4L887.9 390.6L888.1 390.7L888.3 390.8L888.5 390.9L888.8 391.0L889.0 391.1L889.2 391.2L889.4 391.3L889.6 391.5L889.8 391.6L890.1 391.7L890.3 391.8L890.5 391.9L890.7 392.0L890.9 392.1L891.1 392.3L891.4 392.4L891.6 392.5L891.8 392.6L892.0 392.7L892.2 392.8L892.5 392.9L892.7 393.1L892.9 393.2L893.1 393.3L893.3 393.4L893.5 393.5L893.8 393.6L894.0 393.8L894.2 393.9L894.4 394.0L894.6 394.1L894.8 394.2L895.1 394.3L895.3 394.5L895.5 394.6L895.7 394.7L895.9 394.8L896.2 394.9L896.4 395.0L896.6 395.2L896.8 395.3L897.0 395.4L897.2 395.5L897.5 395.6L897.7 395.7L897.9 395.9L898.1 396.0L898.3 396.1L898.5 396.2L898.8 396.3L899.0 396.4L899.2 396.6L899.4 396.7L899.6 396.8L899.9 396.9L900.1 397.0L900.3 397.2L900.5 397.3L900.7 397.4L900.9 397.5L901.2 397.6L901.4 397.8L901.6 397.9L901.8 398.0L902.0 398.1L902.2 398.2L902.5 398.4L902.7 398.5L902.9 398.6L903.1 398.7L903.3 398.8L903.6 398.9L903.8 399.1L904.0 399.2L904.2 399.3L904.4 399.4L904.6 399.5L904.9 399.7L905.1 399.8L905.3 399.9L905.5 400.0L905.7 400.1L906.0 400.3L906.2 400.4L906.4 400.5L906.6 400.6L906.8 400.8L907.0 400.9L907.3 401.0L907.5 401.1L907.7 401.2L907.9 401.4L908.1 401.5L908.3 401.6L908.6 401.7L908.8 401.8L909.0 402.0L909.2 402.1L909.4 402.2L909.7 402.3L909.9 402.4L910.1 402.6L910.3 402.7L910.5 402.8L910.7 402.9L911.0 403.0L911.2 403.2L911.4 403.3L911.6 403.4L911.8 403.5L912.0 403.7L912.3 403.8L912.5 403.9L912.7 404.0L912.9 404.1L913.1 404.3L913.4 404.4L913.6 404.5L913.8 404.6L914.0 404.8L914.2 404.9L914.4 405.0L914.7 405.1L914.9 405.2L915.1 405.4L915.3 405.5L915.5 405.6L915.7 405.7L916.0 405.9L916.2 406.0L916.4 406.1L916.6 406.2L916.8 406.3L917.1 406.5L917.3 406.6L917.5 406.7L917.7 406.8L917.9 407.0L918.1 407.1L918.4 407.2L918.6 407.3L918.8 407.4L919.0 407.6L919.2 407.7L919.4 407.8L919.7 407.9L919.9 408.1L920.1 408.2L920.3 408.3L920.5 408.4L920.8 408.5L921.0 408.7L921.2 408.8L921.4 408.9L921.6 409.0L921.8 409.2L922.1 409.3L922.3 409.4L922.5 409.5L922.7 409.6L922.9 409.8L923.1 409.9L923.4 410.0L923.6 410.1L923.8 410.3L924.0 410.4L924.2 410.5L924.5 410.6L924.7 410.8L924.9 410.9L925.1 411.0L925.3 411.1L925.5 411.2L925.8 411.4L926.0 411.5L926.2 411.6L926.4 411.7L926.6 411.9L926.8 412.0L927.1 412.1L927.3 412.2L927.5 412.4L927.7 412.5L927.9 412.6L928.2 412.7L928.4 412.9L928.6 413.0L928.8 413.1L929.0 413.2L929.2 413.3L929.5 413.5L929.7 413.6L929.9 413.7L930.1 413.8L930.3 414.0L930.6 414.1L930.8 414.2L931.0 414.3L931.2 414.5L931.4 414.6L931.6 414.7L931.9 414.8L932.1 415.0L932.3 415.1L932.5 415.2L932.7 415.3L932.9 415.5L933.2 415.6L933.4 415.7L933.6 415.8L933.8 415.9L934.0 416.1L934.3 416.2L934.5 416.3L934.7 416.4L934.9 416.6L935.1 416.7L935.3 416.8L935.6 416.9L935.8 417.1L936.0 417.2L936.2 417.3L936.4 417.4L936.6 417.6L936.9 417.7L937.1 417.8L937.3 417.9L937.5 418.1L937.7 418.2L938.0 418.3L938.2 418.4L938.4 418.6L938.6 418.7L938.8 418.8L939.0 418.9L939.3 419.1L939.5 419.2L939.7 419.3L939.9 419.4L940.1 419.6L940.3 419.7L940.6 419.8L940.8 419.9L941.0 420.1L941.2 420.2L941.4 420.3L941.7 420.4L941.9 420.6L942.1 420.7L942.3 420.8L942.5 420.9L942.7 421.1L943.0 421.2L943.2 421.3L943.4 421.4L943.6 421.6L943.8 421.7L944.0 421.8L944.3 421.9L944.5 422.1L944.7 422.2L944.9 422.3L945.1 422.4L945.4 422.6L945.6 422.7L945.8 422.8L946.0 422.9L946.2 423.1L946.4 423.2L946.7 423.3L946.9 423.4L947.1 423.6L947.3 423.7L947.5 423.8L947.7 423.9L948.0 424.1L948.2 424.2L948.4 424.3L948.6 424.4L948.8 424.6L949.1 424.7L949.3 424.8L949.5 424.9L949.7 425.1L949.9 425.2L950.1 425.3L950.4 425.4L950.6 425.6L950.8 425.7L951.0 425.8L951.2 425.9L951.4 426.1L951.7 426.2L951.9 426.3L952.1 426.4L952.3 426.6L952.5 426.7L952.8 426.8L953.0 426.9L953.2 427.1L953.4 427.2L953.6 427.3L953.8 427.4L954.1 427.6L954.3 427.7L954.5 427.8L954.7 427.9L954.9 428.1L955.2 428.2L955.4 428.3L955.6 428.4L955.8 428.6L956.0 428.7L956.2 428.8L956.5 428.9L956.7 429.1L956.9 429.2L957.1 429.3L957.3 429.4L957.5 429.6L957.8 429.7L958.0 429.8L958.2 429.9L958.4 430.0L958.6 430.2L958.9 430.3L959.1 430.4L959.3 430.5L959.5 430.7L959.7 430.8L959.9 430.9L960.2 431.0L960.4 431.2L960.6 431.3L960.8 431.4L961.0 431.5L961.2 431.7L961.5 431.8L961.7 431.9L961.9 432.0L962.1 432.2L962.3 432.3L962.6 432.4L962.8 432.5L963.0 432.7L963.2 432.8L963.4 432.9L963.6 433.0L963.9 433.1L964.1 433.3L964.3 433.4L964.5 433.5L964.7 433.6L964.9 433.8L965.2 433.9L965.4 434.0L965.6 434.1L965.8 434.2L966.0 434.4L966.3 434.5L966.5 434.6L966.7 434.7L966.9 434.9L967.1 435.0L967.3 435.1L967.6 435.2L967.8 435.3L968.0 435.5L968.2 435.6L968.4 435.7L968.6 435.8L968.9 436.0L969.1 436.1L969.3 436.2L969.5 436.3L969.7 436.4L970.0 436.6L970.2 436.7L970.4 436.8L970.6 436.9L970.8 437.0L971.0 437.2L971.3 437.3L971.5 437.4L971.7 437.5L971.9 437.6L972.1 437.8L972.3 437.9L972.6 438.0L972.8 438.1L973.0 438.2L973.2 438.4L973.4 438.5L973.7 438.6L973.9 438.7L974.1 438.8L974.3 438.9L974.5 439.1L974.7 439.2L975.0 439.3L975.2 439.4L975.4 439.5L975.6 439.7L975.8 439.8L976.0 439.9L976.3 440.0L976.5 440.1L976.7 440.2L976.9 440.4L977.1 440.5L977.4 440.6L977.6 440.7L977.8 440.8L978.0 440.9L978.2 441.0L978.4 441.2L978.7 441.3L978.9 441.4L979.1 441.5L979.3 441.6L979.5 441.7L979.8 441.9L980.0 442.0L980.2 442.1L980.4 442.2L980.6 442.3L980.8 442.4L981.1 442.5L981.3 442.6L981.5 442.8L981.7 442.9L981.9 443.0L982.1 443.1L982.4 443.2L982.6 443.3L982.8 443.4L983.0 443.5L983.2 443.7L983.5 443.8L983.7 443.9L983.9 444.0L984.1 444.1L984.3 444.2L984.5 444.3L984.8 444.4L985.0 444.5L985.2 444.6L985.4 444.8L985.6 444.9L985.8 445.0L986.1 445.1L986.3 445.2L986.5 445.3L986.7 445.4L986.9 445.5L987.2 445.6L987.4 445.7L987.6 445.8L987.8 445.9L988.0 446.0L988.2 446.2L988.5 446.3L988.7 446.4L988.9 446.5L989.1 446.6L989.3 446.7L989.5 446.8L989.8 446.9L990.0 447.0L990.2 447.1L990.4 447.2L990.6 447.3L990.9 447.4L991.1 447.5L991.3 447.6L991.5 447.7L991.7 447.8L991.9 447.9L992.2 448.0L992.4 448.1L992.6 448.2L992.8 448.3L993.0 448.4L993.2 448.5L993.5 448.6L993.7 448.7L993.9 448.8L994.1 448.9L994.3 449.0L994.6 449.1L994.8 449.2L995.0 449.3L995.2 449.4L995.4 449.5L995.6 449.6L995.9 449.7L996.1 449.8L996.3 449.9L996.5 450.0L996.7 450.1L996.9 450.2L997.2 450.3L997.4 450.4L997.6 450.5L997.8 450.6L998.0 450.7L998.3 450.8L998.5 450.9L998.7 451.0L998.9 451.1L999.1 451.2L999.3 451.2L999.6 451.3L999.8 451.4L1000.0 451.5L1000.2 451.6L1000.4 451.7L1000.6 451.8L1000.9 451.9L1001.1 452.0L1001.3 452.1L1001.5 452.2L1001.7 452.3L1002.0 452.3L1002.2 452.4L1002.4 452.5L1002.6 452.6L1002.8 452.7L1003.0 452.8L1003.3 452.9L1003.5 453.0L1003.7 453.1L1003.9 453.1L1004.1 453.2L1004.4 453.3L1004.6 453.4L1004.8 453.5L1005.0 453.6L1005.2 453.7L1005.4 453.8L1005.7 453.8L1005.9 453.9L1006.1 454.0L1006.3 454.1L1006.5 454.2L1006.7 454.3L1007.0 454.3L1007.2 454.4L1007.4 454.5L1007.6 454.6L1007.8 454.7L1008.1 454.8L1008.3 454.8L1008.5 454.9L1008.7 455.0L1008.9 455.1L1009.1 455.2L1009.4 455.3L1009.6 455.3L1009.8 455.4L1010.0 455.5L1010.2 455.6L1010.4 455.7L1010.7 455.7L1010.9 455.8L1011.1 455.9L1011.3 456.0L1011.5 456.0L1011.8 456.1L1012.0 456.2L1012.2 456.3L1012.4 456.4L1012.6 456.4L1012.8 456.5L1013.1 456.6L1013.3 456.7L1013.5 456.7L1013.7 456.8L1013.9 456.9L1014.1 457.0L1014.4 457.0L1014.6 457.1L1014.8 457.2L1015.0 457.3L1015.2 457.3L1015.5 457.4L1015.7 457.5L1015.9 457.6L1016.1 457.6L1016.3 457.7L1016.5 457.8L1016.8 457.9L1017.0 457.9L1017.2 458.0L1017.4 458.1L1017.6 458.1L1017.8 458.2L1018.1 458.3L1018.3 458.4L1018.5 458.4L1018.7 458.5L1018.9 458.6L1019.2 458.6L1019.4 458.7L1019.6 458.8L1019.8 458.8L1020.0 458.9L1020.2 459.0L1020.5 459.1L1020.7 459.1L1020.9 459.2L1021.1 459.3L1021.3 459.3L1021.5 459.4L1021.8 459.5L1022.0 459.5L1022.2 459.6L1022.4 459.7L1022.6 459.7L1022.9 459.8L1023.1 459.9L1023.3 459.9L1023.5 460.0L1023.7 460.1L1023.9 460.1L1024.2 460.2L1024.4 460.2L1024.6 460.3L1024.8 460.4L1025.0 460.4L1025.2 460.5L1025.5 460.6L1025.7 460.6L1025.9 460.7L1026.1 460.8L1026.3 460.8L1026.6 460.9L1026.8 460.9L1027.0 461.0L1027.2 461.1L1027.4 461.1L1027.6 461.2L1027.9 461.2L1028.1 461.3L1028.3 461.4L1028.5 461.4L1028.7 461.5L1029.0 461.5L1029.2 461.6L1029.4 461.7L1029.6 461.7L1029.8 461.8L1030.0 461.8L1030.3 461.9L1030.5 462.0L1030.7 462.0L1030.9 462.1L1031.1 462.1L1031.3 462.2L1031.6 462.2L1031.8 462.3L1032.0 462.4L1032.2 462.4L1032.4 462.5L1032.7 462.5L1032.9 462.6L1033.1 462.6L1033.3 462.7L1033.5 462.7L1033.7 462.8L1034.0 462.9L1034.2 462.9L1034.4 463.0L1034.6 463.0L1034.8 463.1L1035.0 463.1L1035.3 463.2L1035.5 463.2L1035.7 463.3L1035.9 463.3L1036.1 463.4L1036.4 463.4L1036.6 463.5L1036.8 463.5L1037.0 463.6L1037.2 463.6L1037.4 463.7L1037.7 463.7L1037.9 463.8L1038.1 463.8L1038.3 463.9L1038.5 463.9L1038.7 464.0L1039.0 464.0L1039.2 464.1L1039.4 464.1L1039.6 464.2L1039.8 464.2L1040.1 464.3L1040.3 464.3L1040.5 464.4L1040.7 464.4L1040.9 464.5L1041.1 464.5L1041.4 464.5L1041.6 464.6L1041.8 464.6L1042.0 464.7L1042.2 464.7L1042.4 464.8L1042.7 464.8L1042.9 464.8L1043.1 464.9L1043.3 464.9L1043.5 465.0L1043.8 465.0L1044.0 465.1L1044.2 465.1L1044.4 465.1L1044.6 465.2L1044.8 465.2L1045.1 465.3L1045.3 465.3L1045.5 465.3L1045.7 465.4L1045.9 465.4L1046.1 465.4L1046.4 465.5L1046.6 465.5L1046.8 465.6L1047.0 465.6L1047.2 465.6L1047.5 465.7L1047.7 465.7L1047.9 465.7L1048.1 465.8L1048.3 465.8L1048.5 465.8L1048.8 465.9L1049.0 465.9L1049.2 465.9L1049.4 466.0L1049.6 466.0L1049.8 466.0L1050.1 466.0L1050.3 466.1L1050.5 466.1L1050.7 466.1L1050.9 466.2L1051.2 466.2L1051.4 466.2L1051.6 466.2L1051.8 466.3L1052.0 466.3L1052.2 466.3L1052.5 466.3L1052.7 466.4L1052.9 466.4L1053.1 466.4L1053.3 466.4L1053.6 466.4L1053.8 466.5L1054.0 466.5L1054.2 466.5L1054.4 466.5L1054.6 466.5L1054.9 466.6L1055.1 466.6L1055.3 466.6L1055.5 466.6L1055.7 466.6L1055.9 466.6L1056.2 466.7L1056.4 466.7L1056.6 466.7L1056.8 466.7L1057.0 466.7L1057.3 466.7L1057.5 466.7L1057.7 466.7L1057.9 466.7L1058.1 466.8L1058.3 466.8L1058.6 466.8L1058.8 466.8L1059.0 466.8L1059.2 466.8L1059.4 466.8L1059.6 466.8L1059.9 466.8L1060.1 466.8L1060.3 466.8L1060.5 466.8L1060.7 466.8L1061.0 466.8L1061.2 466.8L1061.4 466.8L1061.6 466.8L1061.8 466.8L1062.0 466.8L1062.3 466.8L1062.5 466.8L1062.7 466.8L1062.9 466.8L1063.1 466.7L1063.3 466.7L1063.6 466.7L1063.8 466.7L1064.0 466.7L1064.2 466.7L1064.4 466.7L1064.7 466.7L1064.9 466.7L1065.1 466.6L1065.3 466.6L1065.5 466.6L1065.7 466.6L1066.0 466.6L1066.2 466.6L1066.4 466.5L1066.6 466.5L1066.8 466.5L1067.0 466.5L1067.3 466.4L1067.5 466.4L1067.7 466.4L1067.9 466.4L1068.1 466.3L1068.4 466.3L1068.6 466.3L1068.8 466.3L1069.0 466.2L1069.2 466.2L1069.4 466.2L1069.7 466.1L1069.9 466.1L1070.1 466.1L1070.3 466.1L1070.5 466.0L1070.7 466.0L1071.0 465.9L1071.2 465.9L1071.4 465.9L1071.6 465.8L1071.8 465.8L1072.1 465.8L1072.3 465.7L1072.5 465.7L1072.7 465.6L1072.9 465.6L1073.1 465.6L1073.4 465.5L1073.6 465.5L1073.8 465.4L1074.0 465.4L1074.2 465.3L1074.4 465.3L1074.7 465.3L1074.9 465.2L1075.1 465.2L1075.3 465.1L1075.5 465.1L1075.8 465.0L1076.0 465.0L1076.2 464.9L1076.4 464.9L1076.6 464.8L1076.8 464.8L1077.1 464.7L1077.3 464.7L1077.5 464.6L1077.7 464.6L1077.9 464.5L1078.2 464.5L1078.4 464.4L1078.6 464.4L1078.8 464.3L1079.0 464.3L1079.2 464.2L1079.5 464.2L1079.7 464.1L1079.9 464.1L1080.1 464.1L1080.3 464.0L1080.5 464.0L1080.8 463.9L1081.0 463.9L1081.2 463.8L1081.4 463.8L1081.6 463.7L1081.9 463.7L1082.1 463.6L1082.3 463.6L1082.5 463.5L1082.7 463.5L1082.9 463.5L1083.2 463.4L1083.4 463.4L1083.6 463.3L1083.8 463.3L1084.0 463.3L1084.2 463.2" stroke="#1a1ec8" stroke-width="2"/>
<path d="M772.5 402.6L772.7 402.6L772.9 402.6L773.2 402.6L773.4 402.6L773.6 402.6L773.8 402.6L774.0 402.6L774.2 402.6L774.5 402.6L774.7 402.6L774.9 402.6L775.1 402.6L775.3 402.6L775.5 402.6L775.8 402.6L776.0 402.6L776.2 402.6L776.4 402.6L776.6 402.9L776.9 403.1L777.1 403.3L777.3 403.6L777.5 403.8L777.7 404.1L777.9 404.3L778.2 404.3L778.4 404.4L778.6 404.4L778.8 404.4L779.0 404.4L779.2 404.4L779.5 404.4L779.7 404.5L779.9 404.5L780.1 404.2L780.3 403.9L780.6 403.6L780.8 403.3L781.0 403.0L781.2 402.7L781.4 402.4L781.6 402.1L781.9 401.8L782.1 401.5L782.3 401.2L782.5 400.9L782.7 400.6L782.9 400.3L783.2 400.0L783.4 399.7L783.6 399.4L783.8 399.1L784.0 398.8L784.3 398.5L784.5 398.2L784.7 397.9L784.9 397.7L785.1 397.4L785.3 397.1L785.6 396.8L785.8 396.5L786.0 396.3L786.2 396.0L786.4 395.7L786.7 395.4L786.9 395.2L787.1 394.9L787.3 394.6L787.5 394.4L787.7 394.1L788.0 393.8L788.2 393.6L788.4 393.3L788.6 393.0L788.8 392.8L789.0 392.5L789.3 392.3L789.5 392.0L789.7 391.7L789.9 391.6L790.1 391.6L790.4 391.7L790.6 391.4L790.8 391.2L791.0 390.9L791.2 390.7L791.4 390.4L791.7 390.2L791.9 390.0L792.1 389.7L792.3 389.5L792.5 389.2L792.7 389.0L793.0 388.8L793.2 388.5L793.4 388.3L793.6 388.1L793.8 387.8L794.1 387.4L794.3 387.1L794.5 387.4L794.7 387.7L794.9 387.5L795.1 387.2L795.4 387.0L795.6 386.8L795.8 386.5L796.0 386.3L796.2 386.1L796.4 385.8L796.7 385.6L796.9 385.3L797.1 385.1L797.3 384.8L797.5 384.6L797.8 384.4L798.0 384.1L798.2 383.8L798.4 383.3L798.6 382.8L798.8 382.7L799.1 382.6L799.3 382.4L799.5 382.2L799.7 382.0L799.9 381.8L800.1 381.7L800.4 381.5L800.6 381.3L800.8 381.2L801.0 381.0L801.2 380.9L801.5 380.7L801.7 380.6L801.9 380.4L802.1 380.3L802.3 380.2L802.5 380.0L802.8 379.9L803.0 379.7L803.2 379.6L803.4 379.5L803.6 379.4L803.8 379.3L804.1 379.2L804.3 379.0L804.5 378.9L804.7 378.8L804.9 378.7L805.2 378.6L805.4 378.5L805.6 378.4L805.8 378.3L806.0 378.1L806.2 378.0L806.5 377.9L806.7 377.8L806.9 377.7L807.1 377.5L807.3 377.4L807.5 377.2L807.8 377.1L808.0 377.0L808.2 376.8L808.4 376.7L808.6 376.6L808.9 376.5L809.1 376.4L809.3 376.2L809.5 376.1L809.7 376.0L809.9 375.9L810.2 375.8L810.4 375.7L810.6 375.6L810.8 375.5L811.0 375.3L811.3 375.3L811.5 375.2L811.7 375.1L811.9 375.0L812.1 374.9L812.3 374.9L812.6 374.8L812.8 374.7L813.0 374.6L813.2 374.5L813.4 374.5L813.6 374.4L813.9 374.3L814.1 374.2L814.3 374.2L814.5 374.1L814.7 374.0L815.0 374.0L815.2 373.9L815.4 373.8L815.6 373.8L815.8 373.7L816.0 373.6L816.3 373.6L816.5 373.5L816.7 373.5L816.9 373.4L817.1 373.3L817.3 373.3L817.6 373.2L817.8 373.2L818.0 373.1L818.2 373.1L818.4 373.0L818.7 373.0L818.9 372.9L819.1 372.9L819.3 372.9L819.5 372.8L819.7 372.8L820.0 372.8L820.2 372.8L820.4 372.7L820.6 372.8L820.8 372.8L821.0 372.8L821.3 372.8L821.5 372.8L821.7 372.8L821.9 372.8L822.1 372.8L822.4 372.8L822.6 372.8L822.8 372.8L823.0 372.8L823.2 372.8L823.4 372.8L823.7 372.8L823.9 372.8L824.1 372.8L824.3 372.7L824.5 372.7L824.7 372.7L825.0 372.4L825.2 372.1L825.4 372.1L825.6 372.1L825.8 372.1L826.1 372.1L826.3 372.1L826.5 372.1L826.7 372.1L826.9 372.1L827.1 372.1L827.4 372.1L827.6 372.1L827.8 372.1L828.0 372.1L828.2 372.0L828.4 372.0L828.7 372.1L828.9 372.2L829.1 372.3L829.3 372.0L829.5 371.7L829.8 371.7L830.0 371.7L830.2 371.7L830.4 371.7L830.6 371.7L830.8 371.7L831.1 371.7L831.3 371.7L831.5 371.7L831.7 371.8L831.9 371.8L832.1 371.8L832.4 371.9L832.6 371.9L832.8 372.0L833.0 372.1L833.2 372.2L833.5 372.4L833.7 372.5L833.9 372.7L834.1 372.7L834.3 372.7L834.5 372.7L834.8 372.8L835.0 372.8L835.2 372.8L835.4 372.8L835.6 372.8L835.9 372.9L836.1 372.9L836.3 372.9L836.5 372.9L836.7 372.9L836.9 372.9L837.2 372.9L837.4 372.9L837.6 372.9L837.8 372.8L838.0 372.6L838.2 372.3L838.5 372.4L838.7 372.4L838.9 372.4L839.1 372.4L839.3 372.4L839.6 372.4L839.8 372.5L840.0 372.5L840.2 372.5L840.4 372.6L840.6 372.6L840.9 372.6L841.1 372.7L841.3 372.7L841.5 372.7L841.7 372.8L841.9 373.0L842.2 373.1L842.4 373.1L842.6 373.0L842.8 373.0L843.0 373.1L843.3 373.1L843.5 373.1L843.7 373.2L843.9 373.2L844.1 373.3L844.3 373.3L844.6 373.4L844.8 373.4L845.0 373.4L845.2 373.5L845.4 373.5L845.6 373.6L845.9 373.6L846.1 373.7L846.3 373.8L846.5 373.9L846.7 373.9L847.0 374.0L847.2 374.0L847.4 374.0L847.6 374.1L847.8 374.1L848.0 374.2L848.3 374.2L848.5 374.2L848.7 374.3L848.9 374.3L849.1 374.4L849.3 374.5L849.6 374.5L849.8 374.6L850.0 374.6L850.2 374.7L850.4 374.8L850.7 374.9L850.9 374.9L851.1 375.3L851.3 375.6L851.5 375.7L851.7 375.8L852.0 375.8L852.2 375.9L852.4 376.0L852.6 376.1L852.8 376.2L853.0 376.3L853.3 376.4L853.5 376.5L853.7 376.5L853.9 376.6L854.1 376.7L854.4 376.8L854.6 376.9L854.8 376.9L855.0 376.9L855.2 376.9L855.4 377.1L855.7 377.4L855.9 377.5L856.1 377.6L856.3 377.6L856.5 377.7L856.7 377.8L857.0 377.8L857.2 377.9L857.4 377.9L857.6 378.0L857.8 378.0L858.1 378.1L858.3 378.1L858.5 378.2L858.7 378.2L858.9 378.2L859.1 378.2L859.4 378.2L859.6 378.2L859.8 378.3L860.0 378.4L860.2 378.5L860.5 378.5L860.7 378.6L860.9 378.7L861.1 378.7L861.3 378.8L861.5 378.9L861.8 378.9L862.0 379.0L862.2 379.1L862.4 379.1L862.6 379.2L862.8 379.3L863.1 379.4L863.3 379.5L863.5 379.5L863.7 379.6L863.9 379.6L864.2 379.8L864.4 379.9L864.6 380.0L864.8 380.1L865.0 380.2L865.2 380.3L865.5 380.3L865.7 380.4L865.9 380.5L866.1 380.6L866.3 380.7L866.5 380.8L866.8 380.8L867.0 380.9L867.2 381.0L867.4 381.1L867.6 381.1L867.9 381.2L868.1 381.3L868.3 381.3L868.5 381.0L868.7 380.7L868.9 380.8L869.2 380.9L869.4 381.0L869.6 381.1L869.8 381.2L870.0 381.3L870.2 381.4L870.5 381.5L870.7 381.7L870.9 381.8L871.1 381.9L871.3 382.0L871.6 382.2L871.8 382.3L872.0 382.4L872.2 382.6L872.4 382.9L872.6 383.2L872.9 383.3L873.1 383.5L873.3 383.6L873.5 383.7L873.7 383.8L873.9 383.9L874.2 384.0L874.4 384.1L874.6 384.2L874.8 384.3L875.0 384.4L875.3 384.5L875.5 384.6L875.7 384.6L875.9 384.7L876.1 384.8L876.3 384.9L876.6 385.0L876.8 385.1L877.0 385.1L877.2 385.7L877.4 386.4L877.6 386.4L877.9 386.5L878.1 386.6L878.3 386.6L878.5 386.7L878.7 386.7L879.0 386.8L879.2 386.9L879.4 386.9L879.6 387.0L879.8 387.1L880.0 387.1L880.3 387.2L880.5 387.2L880.7 387.3L880.9 387.3L881.1 387.1L881.4 387.0L881.6 387.0L881.8 387.0L882.0 387.1L882.2 387.2L882.4 387.4L882.7 387.5L882.9 387.6L883.1 387.8L883.3 387.9L883.5 388.1L883.7 388.2L884.0 388.4L884.2 388.5L884.4 388.6L884.6 388.8L884.8 388.9L885.1 389.1L885.3 389.2L885.5 389.4L885.7 389.6L885.9 389.7L886.1 389.8L886.4 389.9L886.6 390.1L886.8 390.2L887.0 390.3L887.2 390.4L887.4 390.5L887.7 390.6L887.9 390.7L888.1 390.8L888.3 390.9L888.5 391.0L888.8 391.1L889.0 391.2L889.2 391.3L889.4 391.4L889.6 391.5L889.8 391.6L890.1 391.7L890.3 391.7L890.5 391.8L890.7 391.9L890.9 392.0L891.1 392.1L891.4 392.2L891.6 392.3L891.8 392.4L892.0 392.5L892.2 392.6L892.5 392.8L892.7 392.9L892.9 393.0L893.1 393.1L893.3 393.2L893.5 393.4L893.8 393.5L894.0 393.6L894.2 393.8L894.4 393.9L894.6 394.0L894.8 394.2L895.1 394.3L895.3 394.4L895.5 394.5L895.7 394.6L895.9 394.7L896.2 394.9L896.4 395.0L896.6 395.1L896.8 395.2L897.0 395.3L897.2 395.4L897.5 395.5L897.7 395.7L897.9 395.8L898.1 395.9L898.3 396.0L898.5 396.1L898.8 396.2L899.0 396.7L899.2 397.2L899.4 397.3L899.6 397.4L899.9 397.5L900.1 397.6L900.3 397.8L900.5 397.9L900.7 398.0L900.9 398.1L901.2 398.2L901.4 398.4L901.6 398.5L901.8 398.6L902.0 398.7L902.2 398.8L902.5 399.0L902.7 399.0L902.9 399.0L903.1 399.0L903.3 399.1L903.6 399.3L903.8 399.4L904.0 399.5L904.2 399.7L904.4 399.8L904.6 399.9L904.9 400.1L905.1 400.2L905.3 400.3L905.5 400.4L905.7 400.6L906.0 400.7L906.2 400.8L906.4 400.9L906.6 401.0L906.8 401.1L907.0 401.2L907.3 401.3L907.5 401.4L907.7 401.5L907.9 401.6L908.1 401.7L908.3 401.8L908.6 401.9L908.8 402.0L909.0 402.0L909.2 402.1L909.4 402.2L909.7 402.3L909.9 402.4L910.1 402.5L910.3 402.6L910.5 402.7L910.7 402.8L911.0 402.9L911.2 403.0L911.4 403.1L911.6 403.3L911.8 403.4L912.0 403.5L912.3 403.6L912.5 403.7L912.7 403.8L912.9 404.0L913.1 404.1L913.4 404.2L913.6 404.4L913.8 404.5L914.0 404.6L914.2 404.7L914.4 404.9L914.7 405.0L914.9 405.1L915.1 405.3L915.3 405.4L915.5 405.5L915.7 405.6L916.0 405.8L916.2 405.9L916.4 406.0L916.6 406.1L916.8 406.2L917.1 406.4L917.3 406.5L917.5 406.6L917.7 406.7L917.9 406.8L918.1 406.9L918.4 407.0L918.6 407.2L918.8 407.3L919.0 407.4L919.2 407.5L919.4 407.6L919.7 407.7L919.9 407.8L920.1 408.0L920.3 408.1L920.5 408.2L920.8 408.7L921.0 409.3L921.2 409.4L921.4 409.5L921.6 409.6L921.8 409.7L922.1 409.8L922.3 409.9L922.5 410.1L922.7 410.2L922.9 410.3L923.1 410.4L923.4 410.5L923.6 410.6L923.8 410.7L924.0 410.8L924.2 410.9L924.5 410.9L924.7 410.9L924.9 410.8L925.1 411.5L925.3 412.3L925.5 412.4L925.8 412.5L926.0 412.6L926.2 412.7L926.4 412.8L926.6 412.9L926.8 413.0L927.1 413.1L927.3 413.1L927.5 413.2L927.7 413.3L927.9 413.4L928.2 413.4L928.4 413.5L928.6 413.6L928.8 413.6L929.0 413.4L929.2 413.2L929.5 413.3L929.7 413.4L929.9 413.5L930.1 413.7L930.3 413.8L930.6 414.0L930.8 414.1L931.0 414.2L931.2 414.4L931.4 414.5L931.6 414.7L931.9 414.8L932.1 415.0L932.3 415.2L932.5 415.3L932.7 415.5L932.9 415.6L933.2 415.8L933.4 416.0L933.6 416.1L933.8 416.2L934.0 416.2L934.3 416.4L934.5 416.5L934.7 416.7L934.9 416.8L935.1 417.0L935.3 417.1L935.6 417.3L935.8 417.4L936.0 417.5L936.2 417.7L936.4 417.8L936.6 417.9L936.9 418.0L937.1 418.2L937.3 418.3L937.5 418.4L937.7 418.6L938.0 418.7L938.2 419.4L938.4 420.2L938.6 420.2L938.8 420.3L939.0 420.4L939.3 420.4L939.5 420.5L939.7 420.6L939.9 420.7L940.1 420.7L940.3 420.8L940.6 420.8L940.8 420.9L941.0 421.0L941.2 421.0L941.4 421.1L941.7 421.2L941.9 421.1L942.1 420.9L942.3 420.7L942.5 420.5L942.7 420.3L943.0 420.4L943.2 420.5L943.4 420.7L943.6 420.8L943.8 420.9L944.0 421.1L944.3 421.2L944.5 421.3L944.7 421.5L944.9 421.6L945.1 421.8L945.4 421.9L945.6 422.1L945.8 422.2L946.0 422.4L946.2 422.6L946.4 422.8L946.7 423.1L946.9 423.5L947.1 423.9L947.3 424.0L947.5 424.2L947.7 424.3L948.0 424.4L948.2 424.5L948.4 424.6L948.6 424.7L948.8 424.8L949.1 424.9L949.3 425.0L949.5 425.1L949.7 425.2L949.9 425.3L950.1 425.4L950.4 425.5L950.6 425.6L950.8 425.6L951.0 425.6L951.2 425.5L951.4 425.4L951.7 425.6L951.9 425.7L952.1 425.9L952.3 426.0L952.5 426.2L952.8 426.3L953.0 426.5L953.2 426.6L953.4 426.8L953.6 426.9L953.8 427.1L954.1 427.2L954.3 427.4L954.5 427.5L954.7 427.7L954.9 427.9L955.2 428.1L955.4 428.4L955.6 428.5L955.8 428.6L956.0 428.7L956.2 428.8L956.5 428.9L956.7 429.0L956.9 429.1L957.1 429.3L957.3 429.4L957.5 429.5L957.8 429.6L958.0 429.7L958.2 429.8L958.4 429.9L958.6 430.0L958.9 430.1L959.1 430.2L959.3 430.4L959.5 430.5L959.7 430.6L959.9 431.1L960.2 431.6L960.4 431.7L960.6 431.8L960.8 432.0L961.0 432.1L961.2 432.2L961.5 432.3L961.7 432.4L961.9 432.5L962.1 432.7L962.3 432.8L962.6 432.9L962.8 433.0L963.0 433.1L963.2 433.3L963.4 433.4L963.6 433.4L963.9 433.4L964.1 433.4L964.3 433.5L964.5 433.6L964.7 433.8L964.9 433.9L965.2 434.1L965.4 434.2L965.6 434.4L965.8 434.5L966.0 434.6L966.3 434.8L966.5 434.9L966.7 435.0L966.9 435.1L967.1 435.3L967.3 435.4L967.6 435.5L967.8 435.6L968.0 435.7L968.2 435.8L968.4 435.9L968.6 436.1L968.9 436.3L969.1 436.4L969.3 436.5L969.5 436.6L969.7 436.7L970.0 436.8L970.2 436.9L970.4 437.0L970.6 437.1L970.8 437.2L971.0 437.3L971.3 437.4L971.5 437.5L971.7 437.6L971.9 437.7L972.1 437.8L972.3 437.9L972.6 438.0L972.8 438.1L973.0 438.1L973.2 438.0L973.4 438.1L973.7 438.2L973.9 438.4L974.1 438.5L974.3 438.6L974.5 438.7L974.7 438.9L975.0 439.0L975.2 439.1L975.4 439.2L975.6 439.4L975.8 439.5L976.0 439.6L976.3 439.7L976.5 439.9L976.7 440.0L976.9 440.2L977.1 440.4L977.4 440.2L977.6 440.0L977.8 440.2L978.0 440.3L978.2 440.4L978.4 440.5L978.7 440.6L978.9 440.8L979.1 440.9L979.3 441.0L979.5 441.1L979.8 441.3L980.0 441.4L980.2 441.5L980.4 441.7L980.6 441.8L980.8 442.0L981.1 442.2L981.3 442.5L981.5 442.7L981.7 442.6L981.9 442.5L982.1 442.6L982.4 442.8L982.6 442.9L982.8 443.0L983.0 443.2L983.2 443.3L983.5 443.5L983.7 443.6L983.9 443.8L984.1 443.9L984.3 444.0L984.5 444.2L984.8 444.3L985.0 444.5L985.2 444.6L985.4 444.8L985.6 445.0L985.8 445.2L986.1 445.3L986.3 445.4L986.5 445.5L986.7 445.6L986.9 445.7L987.2 445.8L987.4 445.9L987.6 446.0L987.8 446.0L988.0 446.1L988.2 446.2L988.5 446.3L988.7 446.3L988.9 446.4L989.1 446.5L989.3 446.6L989.5 446.6L989.8 446.7L990.0 446.8L990.2 446.9L990.4 447.0L990.6 447.0L990.9 447.1L991.1 447.2L991.3 447.3L991.5 447.4L991.7 447.5L991.9 447.6L992.2 447.7L992.4 447.8L992.6 447.9L992.8 448.0L993.0 448.1L993.2 448.2L993.5 448.3L993.7 448.4L993.9 448.5L994.1 448.7L994.3 448.8L994.6 448.9L994.8 449.2L995.0 449.6L995.2 449.7L995.4 449.8L995.6 449.9L995.9 450.0L996.1 450.1L996.3 450.2L996.5 450.3L996.7 450.4L996.9 450.5L997.2 450.6L997.4 450.6L997.6 450.7L997.8 450.8L998.0 450.9L998.3 451.0L998.5 451.0L998.7 451.0L998.9 451.0L999.1 451.0L999.3 451.1L999.6 451.2L999.8 451.3L1000.0 451.4L1000.2 451.5L1000.4 451.6L1000.6 451.7L1000.9 451.8L1001.1 451.9L1001.3 452.0L1001.5 452.1L1001.7 452.2L1002.0 452.3L1002.2 452.5L1002.4 452.6L1002.6 452.7L1002.8 452.8L1003.0 452.9L1003.3 453.0L1003.5 452.7L1003.7 452.4L1003.9 452.5L1004.1 452.6L1004.4 452.7L1004.6 452.8L1004.8 453.0L1005.0 453.1L1005.2 453.2L1005.4 453.3L1005.7 453.4L1005.9 453.5L1006.1 453.6L1006.3 453.7L1006.5 453.8L1006.7 453.9L1007.0 454.0L1007.2 454.2L1007.4 454.5L1007.6 454.7L1007.8 454.4L1008.1 454.1L1008.3 454.2L1008.5 454.2L1008.7 454.3L1008.9 454.4L1009.1 454.5L1009.4 454.6L1009.6 454.7L1009.8 454.8L1010.0 454.9L1010.2 455.0L1010.4 455.1L1010.7 455.2L1010.9 455.3L1011.1 455.4L1011.3 455.5L1011.5 455.7L1011.8 456.0L1012.0 456.3L1012.2 456.7L1012.4 457.1L1012.6 457.2L1012.8 457.3L1013.1 457.4L1013.3 457.5L1013.5 457.5L1013.7 457.6L1013.9 457.7L1014.1 457.8L1014.4 457.9L1014.6 457.9L1014.8 458.0L1015.0 458.1L1015.2 458.1L1015.5 458.2L1015.7 458.2L1015.9 458.2L1016.1 458.1L1016.3 458.1L1016.5 458.1L1016.8 458.2L1017.0 458.2L1017.2 458.3L1017.4 458.3L1017.6 458.4L1017.8 458.4L1018.1 458.5L1018.3 458.5L1018.5 458.5L1018.7 458.6L1018.9 458.6L1019.2 458.7L1019.4 458.7L1019.6 458.7L1019.8 458.8L1020.0 458.8L1020.2 458.8L1020.5 458.9L1020.7 458.9L1020.9 459.0L1021.1 459.0L1021.3 459.1L1021.5 459.1L1021.8 459.2L1022.0 459.2L1022.2 459.3L1022.4 459.3L1022.6 459.4L1022.9 459.4L1023.1 459.5L1023.3 459.6L1023.5 459.6L1023.7 459.7L1023.9 459.8L1024.2 459.8L1024.4 459.9L1024.6 460.0L1024.8 460.0L1025.0 460.1L1025.2 460.1L1025.5 460.1L1025.7 460.2L1025.9 460.2L1026.1 460.3L1026.3 460.4L1026.6 460.4L1026.8 460.5L1027.0 460.6L1027.2 460.6L1027.4 460.7L1027.6 460.8L1027.9 460.8L1028.1 460.9L1028.3 461.0L1028.5 461.0L1028.7 461.1L1029.0 461.2L1029.2 461.3L1029.4 461.4L1029.6 461.0L1029.8 460.5L1030.0 460.6L1030.3 460.7L1030.5 460.8L1030.7 460.9L1030.9 461.0L1031.1 461.1L1031.3 461.2L1031.6 461.3L1031.8 461.4L1032.0 461.5L1032.2 461.6L1032.4 461.8L1032.7 461.9L1032.9 462.0L1033.1 462.1L1033.3 462.3L1033.5 462.6L1033.7 463.0L1034.0 463.6L1034.2 464.2L1034.4 464.3L1034.6 464.3L1034.8 464.4L1035.0 464.4L1035.3 464.5L1035.5 464.5L1035.7 464.6L1035.9 464.6L1036.1 464.6L1036.4 464.6L1036.6 464.6L1036.8 464.6L1037.0 464.6L1037.2 464.6L1037.4 464.6L1037.7 464.5L1037.9 464.3L1038.1 464.0L1038.3 464.0L1038.5 464.1L1038.7 464.1L1039.0 464.1L1039.2 464.2L1039.4 464.2L1039.6 464.2L1039.8 464.2L1040.1 464.3L1040.3 464.3L1040.5 464.3L1040.7 464.4L1040.9 464.4L1041.1 464.5L1041.4 464.5L1041.6 464.6L1041.8 464.6L1042.0 464.7L1042.2 464.7L1042.4 464.8L1042.7 465.0L1042.9 465.3L1043.1 465.4L1043.3 465.4L1043.5 465.5L1043.8 465.5L1044.0 465.6L1044.2 465.6L1044.4 465.7L1044.6 465.7L1044.8 465.7L1045.1 465.8L1045.3 465.8L1045.5 465.9L1045.7 465.9L1045.9 465.9L1046.1 465.9L1046.4 465.9L1046.6 465.9L1046.8 465.8L1047.0 466.3L1047.2 466.7L1047.5 466.7L1047.7 466.7L1047.9 466.7L1048.1 466.7L1048.3 466.7L1048.5 466.7L1048.8 466.7L1049.0 466.7L1049.2 466.7L1049.4 466.7L1049.6 466.7L1049.8 466.7L1050.1 466.7L1050.3 466.6L1050.5 466.6L1050.7 466.5L1050.9 466.3L1051.2 466.1L1051.4 465.8L1051.6 465.5L1051.8 465.5L1052.0 465.5L1052.2 465.6L1052.5 465.6L1052.7 465.6L1052.9 465.7L1053.1 465.7L1053.3 465.8L1053.6 465.8L1053.8 465.8L1054.0 465.9L1054.2 465.9L1054.4 466.0L1054.6 466.0L1054.9 466.0L1055.1 466.1L1055.3 466.3L1055.5 466.5L1055.7 467.1L1055.9 467.7L1056.2 467.7L1056.4 467.7L1056.6 467.6L1056.8 467.6L1057.0 467.6L1057.3 467.6L1057.5 467.6L1057.7 467.5L1057.9 467.5L1058.1 467.5L1058.3 467.4L1058.6 467.4L1058.8 467.4L1059.0 467.3L1059.2 467.3L1059.4 467.1L1059.6 466.9L1059.9 466.6L1060.1 467.1L1060.3 467.6L1060.5 467.6L1060.7 467.6L1061.0 467.6L1061.2 467.6L1061.4 467.6L1061.6 467.6L1061.8 467.6L1062.0 467.6L1062.3 467.5L1062.5 467.5L1062.7 467.5L1062.9 467.5L1063.1 467.5L1063.3 467.5L1063.6 467.4L1063.8 467.3L1064.0 467.1L1064.2 466.8L1064.4 467.4L1064.7 468.0L1064.9 468.0L1065.1 467.9L1065.3 467.9L1065.5 467.9L1065.7 467.8L1066.0 467.8L1066.2 467.8L1066.4 467.7L1066.6 467.6L1066.8 467.6L1067.0 467.5L1067.3 467.4L1067.5 467.3L1067.7 467.3L1067.9 467.2L1068.1 467.0L1068.4 466.6L1068.6 466.3L1068.8 466.6L1069.0 466.9L1069.2 466.8L1069.4 466.8L1069.7 466.7L1069.9 466.6L1070.1 466.6L1070.3 466.5L1070.5 466.4L1070.7 466.4L1071.0 466.3L1071.2 466.2L1071.4 466.2L1071.6 466.1L1071.8 466.0L1072.1 466.0L1072.3 465.9L1072.5 465.8L1072.7 465.6L1072.9 465.4L1073.1 465.9L1073.4 466.5L1073.6 466.5L1073.8 466.4L1074.0 466.4L1074.2 466.3L1074.4 466.3L1074.7 466.2L1074.9 466.2L1075.1 466.1L1075.3 466.1L1075.5 466.0L1075.8 465.9L1076.0 465.8L1076.2 465.8L1076.4 465.7L1076.6 465.6L1076.8 465.4L1077.1 465.1L1077.3 464.7L1077.5 464.2L1077.7 463.7L1077.9 463.6L1078.2 463.6L1078.4 463.6L1078.6 463.6L1078.8 463.5L1079.0 463.5L1079.2 463.5L1079.5 463.4L1079.7 463.4L1079.9 463.4L1080.1 463.4L1080.3 463.4L1080.5 463.4L1080.8 463.4L1081.0 463.4L1081.2 463.5L1081.4 463.7L1081.6 463.9L1081.9 463.9L1082.1 463.8L1082.3 463.8L1082.5 463.8L1082.7 463.7L1082.9 463.7L1083.2 463.7L1083.4 463.7L1083.6 463.6L1083.8 463.6L1084.0 463.6L1084.2 463.5" stroke="#e2401c" stroke-width="2" stroke-opacity="0.9"/>
</g>
<rect x="772.5" y="368.6" width="435.4" height="102.8" stroke="#505050" stroke-width="1.1" fill="none"/>
<circle cx="1084.2" cy="463.2" r="4.3" fill="none" stroke="#8e2c3a" stroke-width="1.2"/>
<g font-family="Liberation Serif, serif" font-size="18.3" fill="#3c3c3c" text-anchor="end">
<text transform="translate(766 373.5) scale(1.06 1)">4</text>
<text transform="translate(766 396.4) scale(1.06 1)">2</text>
<text transform="translate(766 419.3) scale(1.06 1)">0</text>
<text transform="translate(766 442.2) scale(1.06 1)">-2</text>
<text transform="translate(766 465.1) scale(1.06 1)">-4</text>
</g>
<g transform="translate(739.0 420.0) rotate(-90)" font-family="Liberation Serif, serif" fill="#3c3c3c"><text x="-29.25" y="0" font-size="21" font-style="italic" textLength="13.9" lengthAdjust="spacingAndGlyphs">Y</text><text x="-4.55" y="0.8" font-size="23.5" fill="#555">(</text><text x="2.25" y="0" font-size="21" font-style="italic" textLength="19.3" lengthAdjust="spacingAndGlyphs">m</text><text x="21.55" y="0.8" font-size="23.5" fill="#555">)</text><path d="M9.25 -11.7l2.7 -2.5l2.7 2.5" fill="none" stroke="#3c3c3c" stroke-width="1.05"/></g>
<clipPath id="cp2"><rect x="771.5" y="515.6" width="437.4" height="103.6"/></clipPath>
<rect x="772.5" y="515.6" width="435.4" height="103.6" fill="#fff"/>
<g fill="none">
<line x1="859.6" y1="515.6" x2="859.6" y2="619.2" stroke="#262626" stroke-opacity="0.12" stroke-width="1"/>
<line x1="859.6" y1="515.6" x2="859.6" y2="520.0" stroke="#505050" stroke-width="1.1"/>
<line x1="859.6" y1="619.2" x2="859.6" y2="614.8" stroke="#505050" stroke-width="1.1"/>
<line x1="946.7" y1="515.6" x2="946.7" y2="619.2" stroke="#262626" stroke-opacity="0.12" stroke-width="1"/>
<line x1="946.7" y1="515.6" x2="946.7" y2="520.0" stroke="#505050" stroke-width="1.1"/>
<line x1="946.7" y1="619.2" x2="946.7" y2="614.8" stroke="#505050" stroke-width="1.1"/>
<line x1="1033.7" y1="515.6" x2="1033.7" y2="619.2" stroke="#262626" stroke-opacity="0.12" stroke-width="1"/>
<line x1="1033.7" y1="515.6" x2="1033.7" y2="520.0" stroke="#505050" stroke-width="1.1"/>
<line x1="1033.7" y1="619.2" x2="1033.7" y2="614.8" stroke="#505050" stroke-width="1.1"/>
<line x1="1120.8" y1="515.6" x2="1120.8" y2="619.2" stroke="#262626" stroke-opacity="0.12" stroke-width="1"/>
<line x1="1120.8" y1="515.6" x2="1120.8" y2="520.0" stroke="#505050" stroke-width="1.1"/>
<line x1="1120.8" y1="619.2" x2="1120.8" y2="614.8" stroke="#505050" stroke-width="1.1"/>
<line x1="772.5" y1="528.8" x2="1207.9" y2="528.8" stroke="#262626" stroke-opacity="0.12" stroke-width="1"/>
<line x1="772.5" y1="528.8" x2="776.9" y2="528.8" stroke="#505050" stroke-width="1.1"/>
<line x1="1207.9" y1="528.8" x2="1203.5" y2="528.8" stroke="#505050" stroke-width="1.1"/>
<line x1="772.5" y1="555.2" x2="1207.9" y2="555.2" stroke="#262626" stroke-opacity="0.12" stroke-width="1"/>
<line x1="772.5" y1="555.2" x2="776.9" y2="555.2" stroke="#505050" stroke-width="1.1"/>
<line x1="1207.9" y1="555.2" x2="1203.5" y2="555.2" stroke="#505050" stroke-width="1.1"/>
<line x1="772.5" y1="581.6" x2="1207.9" y2="581.6" stroke="#262626" stroke-opacity="0.12" stroke-width="1"/>
<line x1="772.5" y1="581.6" x2="776.9" y2="581.6" stroke="#505050" stroke-width="1.1"/>
<line x1="1207.9" y1="581.6" x2="1203.5" y2="581.6" stroke="#505050" stroke-width="1.1"/>
<line x1="772.5" y1="608.0" x2="1207.9" y2="608.0" stroke="#262626" stroke-opacity="0.12" stroke-width="1"/>
<line x1="772.5" y1="608.0" x2="776.9" y2="608.0" stroke="#505050" stroke-width="1.1"/>
<line x1="1207.9" y1="608.0" x2="1203.5" y2="608.0" stroke="#505050" stroke-width="1.1"/>
</g>
<g clip-path="url(#cp2)" fill="none" stroke-linejoin="round">
<path d="M772.5 528.5L772.7 528.6L772.9 528.8L773.2 528.9L773.4 529.0L773.6 529.2L773.8 529.3L774.0 529.5L774.2 529.6L774.5 529.8L774.7 529.9L774.9 530.1L775.1 530.2L775.3 530.4L775.5 530.6L775.8 530.7L776.0 530.9L776.2 531.1L776.4 531.2L776.6 531.4L776.9 531.6L777.1 531.8L777.3 532.0L777.5 532.1L777.7 532.3L777.9 532.5L778.2 532.7L778.4 532.9L778.6 533.1L778.8 533.3L779.0 533.5L779.2 533.7L779.5 533.9L779.7 534.1L779.9 534.3L780.1 534.5L780.3 534.7L780.6 534.9L780.8 535.2L781.0 535.4L781.2 535.6L781.4 535.8L781.6 536.0L781.9 536.2L782.1 536.5L782.3 536.7L782.5 536.9L782.7 537.2L782.9 537.4L783.2 537.6L783.4 537.9L783.6 538.1L783.8 538.3L784.0 538.6L784.3 538.8L784.5 539.0L784.7 539.3L784.9 539.5L785.1 539.8L785.3 540.0L785.6 540.3L785.8 540.5L786.0 540.8L786.2 541.0L786.4 541.3L786.7 541.5L786.9 541.8L787.1 542.0L787.3 542.3L787.5 542.5L787.7 542.8L788.0 543.0L788.2 543.3L788.4 543.5L788.6 543.8L788.8 544.0L789.0 544.3L789.3 544.5L789.5 544.8L789.7 545.0L789.9 545.3L790.1 545.5L790.4 545.8L790.6 546.0L790.8 546.3L791.0 546.5L791.2 546.8L791.4 547.0L791.7 547.3L791.9 547.5L792.1 547.8L792.3 548.0L792.5 548.3L792.7 548.5L793.0 548.8L793.2 549.0L793.4 549.3L793.6 549.5L793.8 549.8L794.1 550.0L794.3 550.3L794.5 550.5L794.7 550.7L794.9 551.0L795.1 551.2L795.4 551.5L795.6 551.7L795.8 551.9L796.0 552.2L796.2 552.4L796.4 552.6L796.7 552.9L796.9 553.1L797.1 553.4L797.3 553.6L797.5 553.8L797.8 554.1L798.0 554.3L798.2 554.6L798.4 554.8L798.6 555.0L798.8 555.3L799.1 555.5L799.3 555.8L799.5 556.1L799.7 556.3L799.9 556.6L800.1 556.8L800.4 557.1L800.6 557.4L800.8 557.6L801.0 557.9L801.2 558.2L801.5 558.5L801.7 558.7L801.9 559.0L802.1 559.3L802.3 559.6L802.5 559.8L802.8 560.1L803.0 560.3L803.2 560.6L803.4 560.8L803.6 561.1L803.8 561.3L804.1 561.5L804.3 561.7L804.5 562.0L804.7 562.2L804.9 562.4L805.2 562.5L805.4 562.7L805.6 562.9L805.8 563.1L806.0 563.3L806.2 563.5L806.5 563.6L806.7 563.8L806.9 564.0L807.1 564.2L807.3 564.4L807.5 564.6L807.8 564.7L808.0 564.9L808.2 565.1L808.4 565.3L808.6 565.5L808.9 565.8L809.1 566.0L809.3 566.2L809.5 566.4L809.7 566.6L809.9 566.8L810.2 567.1L810.4 567.3L810.6 567.5L810.8 567.7L811.0 568.0L811.3 568.2L811.5 568.4L811.7 568.6L811.9 568.9L812.1 569.1L812.3 569.3L812.6 569.6L812.8 569.8L813.0 570.0L813.2 570.3L813.4 570.5L813.6 570.7L813.9 570.9L814.1 571.2L814.3 571.4L814.5 571.6L814.7 571.9L815.0 572.1L815.2 572.3L815.4 572.5L815.6 572.8L815.8 573.0L816.0 573.2L816.3 573.4L816.5 573.7L816.7 573.9L816.9 574.1L817.1 574.3L817.3 574.6L817.6 574.8L817.8 575.0L818.0 575.2L818.2 575.5L818.4 575.7L818.7 575.9L818.9 576.1L819.1 576.3L819.3 576.6L819.5 576.8L819.7 577.0L820.0 577.2L820.2 577.4L820.4 577.7L820.6 577.9L820.8 578.1L821.0 578.3L821.3 578.5L821.5 578.7L821.7 578.9L821.9 579.2L822.1 579.4L822.4 579.6L822.6 579.8L822.8 580.0L823.0 580.2L823.2 580.4L823.4 580.6L823.7 580.8L823.9 581.1L824.1 581.3L824.3 581.5L824.5 581.7L824.7 581.9L825.0 582.1L825.2 582.3L825.4 582.5L825.6 582.7L825.8 582.9L826.1 583.1L826.3 583.3L826.5 583.5L826.7 583.7L826.9 583.9L827.1 584.1L827.4 584.3L827.6 584.5L827.8 584.7L828.0 584.9L828.2 585.1L828.4 585.3L828.7 585.5L828.9 585.7L829.1 585.8L829.3 586.0L829.5 586.2L829.8 586.4L830.0 586.6L830.2 586.8L830.4 587.0L830.6 587.2L830.8 587.4L831.1 587.5L831.3 587.7L831.5 587.9L831.7 588.1L831.9 588.3L832.1 588.5L832.4 588.7L832.6 588.8L832.8 589.0L833.0 589.2L833.2 589.4L833.5 589.6L833.7 589.7L833.9 589.9L834.1 590.1L834.3 590.3L834.5 590.4L834.8 590.6L835.0 590.8L835.2 591.0L835.4 591.1L835.6 591.3L835.9 591.5L836.1 591.6L836.3 591.8L836.5 592.0L836.7 592.2L836.9 592.3L837.2 592.5L837.4 592.7L837.6 592.8L837.8 593.0L838.0 593.2L838.2 593.3L838.5 593.5L838.7 593.6L838.9 593.8L839.1 594.0L839.3 594.1L839.6 594.3L839.8 594.4L840.0 594.6L840.2 594.8L840.4 594.9L840.6 595.1L840.9 595.2L841.1 595.4L841.3 595.5L841.5 595.7L841.7 595.8L841.9 596.0L842.2 596.1L842.4 596.3L842.6 596.4L842.8 596.6L843.0 596.7L843.3 596.9L843.5 597.0L843.7 597.2L843.9 597.3L844.1 597.5L844.3 597.6L844.6 597.8L844.8 597.9L845.0 598.1L845.2 598.2L845.4 598.3L845.6 598.5L845.9 598.6L846.1 598.8L846.3 598.9L846.5 599.0L846.7 599.2L847.0 599.3L847.2 599.4L847.4 599.6L847.6 599.7L847.8 599.9L848.0 600.0L848.3 600.1L848.5 600.2L848.7 600.4L848.9 600.5L849.1 600.6L849.3 600.8L849.6 600.9L849.8 601.0L850.0 601.2L850.2 601.3L850.4 601.4L850.7 601.5L850.9 601.7L851.1 601.8L851.3 601.9L851.5 602.0L851.7 602.2L852.0 602.3L852.2 602.4L852.4 602.5L852.6 602.6L852.8 602.8L853.0 602.9L853.3 603.0L853.5 603.1L853.7 603.2L853.9 603.3L854.1 603.5L854.4 603.6L854.6 603.7L854.8 603.8L855.0 603.9L855.2 604.0L855.4 604.1L855.7 604.3L855.9 604.4L856.1 604.5L856.3 604.6L856.5 604.7L856.7 604.8L857.0 604.9L857.2 605.0L857.4 605.1L857.6 605.2L857.8 605.3L858.1 605.4L858.3 605.5L858.5 605.6L858.7 605.7L858.9 605.8L859.1 605.9L859.4 606.1L859.6 606.2L859.8 606.3L860.0 606.4L860.2 606.4L860.5 606.5L860.7 606.6L860.9 606.7L861.1 606.8L861.3 606.9L861.5 607.0L861.8 607.1L862.0 607.2L862.2 607.3L862.4 607.4L862.6 607.5L862.8 607.6L863.1 607.7L863.3 607.8L863.5 607.9L863.7 608.0L863.9 608.0L864.2 608.1L864.4 608.2L864.6 608.3L864.8 608.4L865.0 608.5L865.2 608.6L865.5 608.6L865.7 608.7L865.9 608.8L866.1 608.9L866.3 609.0L866.5 609.1L866.8 609.1L867.0 609.2L867.2 609.3L867.4 609.4L867.6 609.5L867.9 609.6L868.1 609.6L868.3 609.7L868.5 609.8L868.7 609.9L868.9 609.9L869.2 610.0L869.4 610.1L869.6 610.2L869.8 610.2L870.0 610.3L870.2 610.4L870.5 610.5L870.7 610.5L870.9 610.6L871.1 610.7L871.3 610.8L871.6 610.8L871.8 610.9L872.0 611.0L872.2 611.0L872.4 611.1L872.6 611.2L872.9 611.2L873.1 611.3L873.3 611.4L873.5 611.4L873.7 611.5L873.9 611.6L874.2 611.6L874.4 611.7L874.6 611.8L874.8 611.8L875.0 611.9L875.3 611.9L875.5 612.0L875.7 612.1L875.9 612.1L876.1 612.2L876.3 612.3L876.6 612.3L876.8 612.4L877.0 612.4L877.2 612.5L877.4 612.5L877.6 612.6L877.9 612.7L878.1 612.7L878.3 612.8L878.5 612.8L878.7 612.9L879.0 612.9L879.2 613.0L879.4 613.0L879.6 613.1L879.8 613.2L880.0 613.2L880.3 613.3L880.5 613.3L880.7 613.4L880.9 613.4L881.1 613.5L881.4 613.5L881.6 613.6L881.8 613.6L882.0 613.7L882.2 613.7L882.4 613.8L882.7 613.8L882.9 613.8L883.1 613.9L883.3 613.9L883.5 614.0L883.7 614.0L884.0 614.1L884.2 614.1L884.4 614.2L884.6 614.2L884.8 614.2L885.1 614.3L885.3 614.3L885.5 614.4L885.7 614.4L885.9 614.5L886.1 614.5L886.4 614.5L886.6 614.6L886.8 614.6L887.0 614.7L887.2 614.7L887.4 614.7L887.7 614.8L887.9 614.8L888.1 614.8L888.3 614.9L888.5 614.9L888.8 615.0L889.0 615.0L889.2 615.0L889.4 615.1L889.6 615.1L889.8 615.1L890.1 615.2L890.3 615.2L890.5 615.2L890.7 615.3L890.9 615.3L891.1 615.3L891.4 615.4L891.6 615.4L891.8 615.4L892.0 615.4L892.2 615.5L892.5 615.5L892.7 615.5L892.9 615.6L893.1 615.6L893.3 615.6L893.5 615.6L893.8 615.7L894.0 615.7L894.2 615.7L894.4 615.8L894.6 615.8L894.8 615.8L895.1 615.8L895.3 615.9L895.5 615.9L895.7 615.9L895.9 615.9L896.2 615.9L896.4 616.0L896.6 616.0L896.8 616.0L897.0 616.0L897.2 616.1L897.5 616.1L897.7 616.1L897.9 616.1L898.1 616.1L898.3 616.2L898.5 616.2L898.8 616.2L899.0 616.2L899.2 616.2L899.4 616.3L899.6 616.3L899.9 616.3L900.1 616.3L900.3 616.3L900.5 616.3L900.7 616.4L900.9 616.4L901.2 616.4L901.4 616.4L901.6 616.4L901.8 616.4L902.0 616.4L902.2 616.5L902.5 616.5L902.7 616.5L902.9 616.5L903.1 616.5L903.3 616.5L903.6 616.5L903.8 616.5L904.0 616.6L904.2 616.6L904.4 616.6L904.6 616.6L904.9 616.6L905.1 616.6L905.3 616.6L905.5 616.6L905.7 616.6L906.0 616.6L906.2 616.6L906.4 616.6L906.6 616.7L906.8 616.7L907.0 616.7L907.3 616.7L907.5 616.7L907.7 616.7L907.9 616.7L908.1 616.7L908.3 616.7L908.6 616.7L908.8 616.7L909.0 616.7L909.2 616.7L909.4 616.7L909.7 616.7L909.9 616.7L910.1 616.7L910.3 616.7L910.5 616.7L910.7 616.7L911.0 616.7L911.2 616.7L911.4 616.7L911.6 616.7L911.8 616.7L912.0 616.7L912.3 616.7L912.5 616.7L912.7 616.7L912.9 616.7L913.1 616.7L913.4 616.7L913.6 616.7L913.8 616.7L914.0 616.7L914.2 616.7L914.4 616.7L914.7 616.7L914.9 616.7L915.1 616.7L915.3 616.7L915.5 616.7L915.7 616.7L916.0 616.7L916.2 616.6L916.4 616.6L916.6 616.6L916.8 616.6L917.1 616.6L917.3 616.6L917.5 616.6L917.7 616.6L917.9 616.6L918.1 616.6L918.4 616.6L918.6 616.5L918.8 616.5L919.0 616.5L919.2 616.5L919.4 616.5L919.7 616.5L919.9 616.5L920.1 616.5L920.3 616.5L920.5 616.4L920.8 616.4L921.0 616.4L921.2 616.4L921.4 616.4L921.6 616.4L921.8 616.4L922.1 616.3L922.3 616.3L922.5 616.3L922.7 616.3L922.9 616.3L923.1 616.3L923.4 616.3L923.6 616.2L923.8 616.2L924.0 616.2L924.2 616.2L924.5 616.2L924.7 616.1L924.9 616.1L925.1 616.1L925.3 616.1L925.5 616.1L925.8 616.1L926.0 616.0L926.2 616.0L926.4 616.0L926.6 616.0L926.8 616.0L927.1 615.9L927.3 615.9L927.5 615.9L927.7 615.9L927.9 615.8L928.2 615.8L928.4 615.8L928.6 615.8L928.8 615.8L929.0 615.7L929.2 615.7L929.5 615.7L929.7 615.7L929.9 615.6L930.1 615.6L930.3 615.6L930.6 615.6L930.8 615.6L931.0 615.5L931.2 615.5L931.4 615.5L931.6 615.5L931.9 615.4L932.1 615.4L932.3 615.4L932.5 615.4L932.7 615.3L932.9 615.3L933.2 615.3L933.4 615.3L933.6 615.2L933.8 615.2L934.0 615.2L934.3 615.2L934.5 615.1L934.7 615.1L934.9 615.1L935.1 615.1L935.3 615.0L935.6 615.0L935.8 615.0L936.0 614.9L936.2 614.9L936.4 614.9L936.6 614.9L936.9 614.8L937.1 614.8L937.3 614.8L937.5 614.8L937.7 614.7L938.0 614.7L938.2 614.7L938.4 614.7L938.6 614.6L938.8 614.6L939.0 614.6L939.3 614.5L939.5 614.5L939.7 614.5L939.9 614.5L940.1 614.4L940.3 614.4L940.6 614.4L940.8 614.3L941.0 614.3L941.2 614.3L941.4 614.2L941.7 614.2L941.9 614.2L942.1 614.2L942.3 614.1L942.5 614.1L942.7 614.1L943.0 614.0L943.2 614.0L943.4 614.0L943.6 613.9L943.8 613.9L944.0 613.9L944.3 613.8L944.5 613.8L944.7 613.7L944.9 613.7L945.1 613.7L945.4 613.6L945.6 613.6L945.8 613.6L946.0 613.5L946.2 613.5L946.4 613.4L946.7 613.4L946.9 613.4L947.1 613.3L947.3 613.3L947.5 613.2L947.7 613.2L948.0 613.1L948.2 613.1L948.4 613.1L948.6 613.0L948.8 613.0L949.1 612.9L949.3 612.9L949.5 612.8L949.7 612.8L949.9 612.7L950.1 612.7L950.4 612.6L950.6 612.6L950.8 612.5L951.0 612.5L951.2 612.4L951.4 612.4L951.7 612.3L951.9 612.2L952.1 612.2L952.3 612.1L952.5 612.1L952.8 612.0L953.0 611.9L953.2 611.9L953.4 611.8L953.6 611.8L953.8 611.7L954.1 611.6L954.3 611.6L954.5 611.5L954.7 611.4L954.9 611.4L955.2 611.3L955.4 611.3L955.6 611.2L955.8 611.1L956.0 611.0L956.2 611.0L956.5 610.9L956.7 610.8L956.9 610.8L957.1 610.7L957.3 610.6L957.5 610.6L957.8 610.5L958.0 610.4L958.2 610.3L958.4 610.3L958.6 610.2L958.9 610.1L959.1 610.0L959.3 610.0L959.5 609.9L959.7 609.8L959.9 609.7L960.2 609.7L960.4 609.6L960.6 609.5L960.8 609.4L961.0 609.4L961.2 609.3L961.5 609.2L961.7 609.1L961.9 609.1L962.1 609.0L962.3 608.9L962.6 608.8L962.8 608.8L963.0 608.7L963.2 608.6L963.4 608.5L963.6 608.4L963.9 608.4L964.1 608.3L964.3 608.2L964.5 608.1L964.7 608.1L964.9 608.0L965.2 607.9L965.4 607.8L965.6 607.7L965.8 607.7L966.0 607.6L966.3 607.5L966.5 607.4L966.7 607.4L966.9 607.3L967.1 607.2L967.3 607.1L967.6 607.0L967.8 607.0L968.0 606.9L968.2 606.8L968.4 606.7L968.6 606.6L968.9 606.6L969.1 606.5L969.3 606.4L969.5 606.3L969.7 606.3L970.0 606.2L970.2 606.1L970.4 606.0L970.6 605.9L970.8 605.9L971.0 605.8L971.3 605.7L971.5 605.6L971.7 605.5L971.9 605.5L972.1 605.4L972.3 605.3L972.6 605.2L972.8 605.1L973.0 605.1L973.2 605.0L973.4 604.9L973.7 604.8L973.9 604.7L974.1 604.6L974.3 604.6L974.5 604.5L974.7 604.4L975.0 604.3L975.2 604.2L975.4 604.2L975.6 604.1L975.8 604.0L976.0 603.9L976.3 603.8L976.5 603.7L976.7 603.7L976.9 603.6L977.1 603.5L977.4 603.4L977.6 603.3L977.8 603.2L978.0 603.1L978.2 603.1L978.4 603.0L978.7 602.9L978.9 602.8L979.1 602.7L979.3 602.6L979.5 602.5L979.8 602.5L980.0 602.4L980.2 602.3L980.4 602.2L980.6 602.1L980.8 602.0L981.1 601.9L981.3 601.8L981.5 601.7L981.7 601.6L981.9 601.6L982.1 601.5L982.4 601.4L982.6 601.3L982.8 601.2L983.0 601.1L983.2 601.0L983.5 600.9L983.7 600.8L983.9 600.7L984.1 600.6L984.3 600.5L984.5 600.4L984.8 600.3L985.0 600.2L985.2 600.1L985.4 600.0L985.6 600.0L985.8 599.9L986.1 599.8L986.3 599.7L986.5 599.6L986.7 599.5L986.9 599.4L987.2 599.3L987.4 599.2L987.6 599.1L987.8 599.0L988.0 598.9L988.2 598.8L988.5 598.6L988.7 598.5L988.9 598.4L989.1 598.3L989.3 598.2L989.5 598.1L989.8 598.0L990.0 597.9L990.2 597.8L990.4 597.7L990.6 597.6L990.9 597.5L991.1 597.4L991.3 597.3L991.5 597.2L991.7 597.1L991.9 596.9L992.2 596.8L992.4 596.7L992.6 596.6L992.8 596.5L993.0 596.4L993.2 596.3L993.5 596.2L993.7 596.0L993.9 595.9L994.1 595.8L994.3 595.7L994.6 595.6L994.8 595.5L995.0 595.4L995.2 595.2L995.4 595.1L995.6 595.0L995.9 594.9L996.1 594.8L996.3 594.7L996.5 594.5L996.7 594.4L996.9 594.3L997.2 594.2L997.4 594.1L997.6 593.9L997.8 593.8L998.0 593.7L998.3 593.6L998.5 593.4L998.7 593.3L998.9 593.2L999.1 593.1L999.3 592.9L999.6 592.8L999.8 592.7L1000.0 592.6L1000.2 592.4L1000.4 592.3L1000.6 592.2L1000.9 592.1L1001.1 591.9L1001.3 591.8L1001.5 591.7L1001.7 591.5L1002.0 591.4L1002.2 591.3L1002.4 591.2L1002.6 591.0L1002.8 590.9L1003.0 590.8L1003.3 590.6L1003.5 590.5L1003.7 590.4L1003.9 590.2L1004.1 590.1L1004.4 590.0L1004.6 589.8L1004.8 589.7L1005.0 589.6L1005.2 589.4L1005.4 589.3L1005.7 589.2L1005.9 589.0L1006.1 588.9L1006.3 588.8L1006.5 588.6L1006.7 588.5L1007.0 588.3L1007.2 588.2L1007.4 588.1L1007.6 587.9L1007.8 587.8L1008.1 587.7L1008.3 587.5L1008.5 587.4L1008.7 587.2L1008.9 587.1L1009.1 587.0L1009.4 586.8L1009.6 586.7L1009.8 586.5L1010.0 586.4L1010.2 586.3L1010.4 586.1L1010.7 586.0L1010.9 585.9L1011.1 585.7L1011.3 585.6L1011.5 585.4L1011.8 585.3L1012.0 585.2L1012.2 585.0L1012.4 584.9L1012.6 584.7L1012.8 584.6L1013.1 584.5L1013.3 584.3L1013.5 584.2L1013.7 584.0L1013.9 583.9L1014.1 583.8L1014.4 583.6L1014.6 583.5L1014.8 583.3L1015.0 583.2L1015.2 583.1L1015.5 582.9L1015.7 582.8L1015.9 582.7L1016.1 582.5L1016.3 582.4L1016.5 582.2L1016.8 582.1L1017.0 582.0L1017.2 581.8L1017.4 581.7L1017.6 581.6L1017.8 581.4L1018.1 581.3L1018.3 581.2L1018.5 581.0L1018.7 580.9L1018.9 580.8L1019.2 580.6L1019.4 580.5L1019.6 580.3L1019.8 580.2L1020.0 580.1L1020.2 579.9L1020.5 579.8L1020.7 579.7L1020.9 579.5L1021.1 579.4L1021.3 579.3L1021.5 579.1L1021.8 579.0L1022.0 578.9L1022.2 578.7L1022.4 578.6L1022.6 578.5L1022.9 578.3L1023.1 578.2L1023.3 578.1L1023.5 577.9L1023.7 577.8L1023.9 577.7L1024.2 577.5L1024.4 577.4L1024.6 577.3L1024.8 577.1L1025.0 577.0L1025.2 576.9L1025.5 576.7L1025.7 576.6L1025.9 576.4L1026.1 576.3L1026.3 576.2L1026.6 576.0L1026.8 575.9L1027.0 575.8L1027.2 575.6L1027.4 575.5L1027.6 575.3L1027.9 575.2L1028.1 575.1L1028.3 574.9L1028.5 574.8L1028.7 574.6L1029.0 574.5L1029.2 574.3L1029.4 574.2L1029.6 574.0L1029.8 573.9L1030.0 573.8L1030.3 573.6L1030.5 573.5L1030.7 573.3L1030.9 573.2L1031.1 573.0L1031.3 572.9L1031.6 572.7L1031.8 572.6L1032.0 572.4L1032.2 572.3L1032.4 572.1L1032.7 572.0L1032.9 571.8L1033.1 571.6L1033.3 571.5L1033.5 571.3L1033.7 571.2L1034.0 571.0L1034.2 570.9L1034.4 570.7L1034.6 570.6L1034.8 570.4L1035.0 570.3L1035.3 570.1L1035.5 570.0L1035.7 569.8L1035.9 569.6L1036.1 569.5L1036.4 569.3L1036.6 569.2L1036.8 569.0L1037.0 568.9L1037.2 568.7L1037.4 568.6L1037.7 568.4L1037.9 568.3L1038.1 568.1L1038.3 567.9L1038.5 567.8L1038.7 567.6L1039.0 567.5L1039.2 567.3L1039.4 567.2L1039.6 567.0L1039.8 566.9L1040.1 566.7L1040.3 566.6L1040.5 566.4L1040.7 566.3L1040.9 566.1L1041.1 566.0L1041.4 565.8L1041.6 565.7L1041.8 565.5L1042.0 565.4L1042.2 565.2L1042.4 565.1L1042.7 564.9L1042.9 564.8L1043.1 564.6L1043.3 564.5L1043.5 564.3L1043.8 564.2L1044.0 564.1L1044.2 563.9L1044.4 563.8L1044.6 563.6L1044.8 563.5L1045.1 563.3L1045.3 563.2L1045.5 563.1L1045.7 562.9L1045.9 562.8L1046.1 562.6L1046.4 562.5L1046.6 562.4L1046.8 562.2L1047.0 562.1L1047.2 561.9L1047.5 561.8L1047.7 561.7L1047.9 561.5L1048.1 561.4L1048.3 561.2L1048.5 561.1L1048.8 561.0L1049.0 560.8L1049.2 560.7L1049.4 560.6L1049.6 560.4L1049.8 560.3L1050.1 560.1L1050.3 560.0L1050.5 559.9L1050.7 559.7L1050.9 559.6L1051.2 559.5L1051.4 559.3L1051.6 559.2L1051.8 559.1L1052.0 558.9L1052.2 558.8L1052.5 558.7L1052.7 558.5L1052.9 558.4L1053.1 558.3L1053.3 558.1L1053.6 558.0L1053.8 557.8L1054.0 557.7L1054.2 557.6L1054.4 557.4L1054.6 557.3L1054.9 557.2L1055.1 557.0L1055.3 556.9L1055.5 556.8L1055.7 556.6L1055.9 556.5L1056.2 556.4L1056.4 556.2L1056.6 556.1L1056.8 556.0L1057.0 555.8L1057.3 555.7L1057.5 555.6L1057.7 555.4L1057.9 555.3L1058.1 555.2L1058.3 555.0L1058.6 554.9L1058.8 554.8L1059.0 554.6L1059.2 554.5L1059.4 554.4L1059.6 554.2L1059.9 554.1L1060.1 554.0L1060.3 553.8L1060.5 553.7L1060.7 553.6L1061.0 553.4L1061.2 553.3L1061.4 553.2L1061.6 553.0L1061.8 552.9L1062.0 552.8L1062.3 552.6L1062.5 552.5L1062.7 552.4L1062.9 552.2L1063.1 552.1L1063.3 552.0L1063.6 551.8L1063.8 551.7L1064.0 551.6L1064.2 551.4L1064.4 551.3L1064.7 551.2L1064.9 551.0L1065.1 550.9L1065.3 550.8L1065.5 550.6L1065.7 550.5L1066.0 550.4L1066.2 550.2L1066.4 550.1L1066.6 550.0L1066.8 549.8L1067.0 549.7L1067.3 549.5L1067.5 549.4L1067.7 549.3L1067.9 549.1L1068.1 549.0L1068.4 548.9L1068.6 548.7L1068.8 548.6L1069.0 548.4L1069.2 548.3L1069.4 548.2L1069.7 548.0L1069.9 547.9L1070.1 547.8L1070.3 547.6L1070.5 547.5L1070.7 547.3L1071.0 547.2L1071.2 547.1L1071.4 546.9L1071.6 546.8L1071.8 546.6L1072.1 546.5L1072.3 546.4L1072.5 546.2L1072.7 546.1L1072.9 545.9L1073.1 545.8L1073.4 545.7L1073.6 545.5L1073.8 545.4L1074.0 545.2L1074.2 545.1L1074.4 545.0L1074.7 544.8L1074.9 544.7L1075.1 544.6L1075.3 544.4L1075.5 544.3L1075.8 544.1L1076.0 544.0L1076.2 543.9L1076.4 543.7L1076.6 543.6L1076.8 543.4L1077.1 543.3L1077.3 543.2L1077.5 543.0L1077.7 542.9L1077.9 542.8L1078.2 542.6L1078.4 542.5L1078.6 542.3L1078.8 542.2L1079.0 542.1L1079.2 541.9L1079.5 541.8L1079.7 541.7L1079.9 541.5L1080.1 541.4L1080.3 541.3L1080.5 541.1L1080.8 541.0L1081.0 540.8L1081.2 540.7L1081.4 540.6L1081.6 540.4L1081.9 540.3L1082.1 540.1L1082.3 540.0L1082.5 539.9L1082.7 539.7L1082.9 539.6L1083.2 539.4L1083.4 539.3L1083.6 539.1L1083.8 539.0L1084.0 538.8L1084.2 538.6" stroke="#1a1ec8" stroke-width="2"/>
<path d="M772.5 555.2L772.7 555.2L772.9 555.2L773.2 555.2L773.4 555.2L773.6 555.2L773.8 555.2L774.0 555.2L774.2 555.2L774.5 555.2L774.7 555.2L774.9 555.2L775.1 555.2L775.3 555.2L775.5 555.2L775.8 555.2L776.0 555.2L776.2 555.2L776.4 555.2L776.6 551.1L776.9 544.3L777.1 538.6L777.3 537.7L777.5 536.8L777.7 535.9L777.9 535.0L778.2 534.1L778.4 533.7L778.6 533.3L778.8 533.0L779.0 532.6L779.2 532.2L779.5 531.8L779.7 531.5L779.9 531.1L780.1 530.7L780.3 531.1L780.6 531.6L780.8 532.1L781.0 532.6L781.2 533.1L781.4 533.6L781.6 534.1L781.9 533.9L782.1 533.8L782.3 533.7L782.5 533.6L782.7 533.4L782.9 533.3L783.2 533.2L783.4 533.0L783.6 532.9L783.8 532.8L784.0 532.6L784.3 532.5L784.5 534.1L784.7 535.7L784.9 537.2L785.1 537.6L785.3 537.9L785.6 538.2L785.8 538.5L786.0 538.8L786.2 538.9L786.4 539.0L786.7 539.1L786.9 539.2L787.1 539.3L787.3 539.4L787.5 539.4L787.7 539.5L788.0 539.6L788.2 539.7L788.4 539.8L788.6 539.9L788.8 541.1L789.0 542.3L789.3 543.6L789.5 544.8L789.7 544.4L789.9 545.1L790.1 545.4L790.4 545.7L790.6 546.0L790.8 546.3L791.0 546.6L791.2 546.9L791.4 547.3L791.7 547.6L791.9 547.9L792.1 548.2L792.3 548.5L792.5 548.8L792.7 549.1L793.0 549.4L793.2 549.7L793.4 550.0L793.6 550.3L793.8 550.6L794.1 550.9L794.3 551.1L794.5 551.8L794.7 552.4L794.9 552.6L795.1 552.9L795.4 553.1L795.6 553.3L795.8 553.5L796.0 553.7L796.2 553.8L796.4 554.0L796.7 554.2L796.9 554.4L797.1 554.5L797.3 554.7L797.5 554.8L797.8 555.0L798.0 555.2L798.2 555.2L798.4 555.2L798.6 555.2L798.8 554.6L799.1 554.1L799.3 554.3L799.5 554.5L799.7 554.8L799.9 555.1L800.1 555.3L800.4 555.6L800.6 555.9L800.8 556.2L801.0 556.5L801.2 556.8L801.5 557.1L801.7 557.4L801.9 557.8L802.1 558.1L802.3 558.4L802.5 558.9L802.8 559.5L803.0 560.2L803.2 560.9L803.4 561.7L803.6 561.9L803.8 562.1L804.1 562.3L804.3 562.5L804.5 562.7L804.7 562.8L804.9 563.0L805.2 563.2L805.4 563.3L805.6 563.4L805.8 563.5L806.0 563.7L806.2 563.8L806.5 563.9L806.7 564.0L806.9 564.1L807.1 564.0L807.3 563.9L807.5 563.6L807.8 563.3L808.0 563.5L808.2 563.7L808.4 563.9L808.6 564.1L808.9 564.4L809.1 564.6L809.3 564.8L809.5 565.1L809.7 565.4L809.9 565.6L810.2 565.9L810.4 566.2L810.6 566.5L810.8 566.8L811.0 567.1L811.3 567.5L811.5 568.0L811.7 568.5L811.9 569.3L812.1 570.1L812.3 570.4L812.6 570.6L812.8 570.9L813.0 571.1L813.2 571.4L813.4 571.6L813.6 571.8L813.9 572.1L814.1 572.3L814.3 572.5L814.5 572.7L814.7 572.9L815.0 573.1L815.2 573.2L815.4 573.4L815.6 573.5L815.8 573.4L816.0 573.4L816.3 573.1L816.5 572.8L816.7 573.0L816.9 573.2L817.1 573.4L817.3 573.6L817.6 573.8L817.8 574.0L818.0 574.2L818.2 574.4L818.4 574.7L818.7 574.9L818.9 575.1L819.1 575.4L819.3 575.6L819.5 575.9L819.7 576.1L820.0 576.5L820.2 577.0L820.4 577.4L820.6 578.0L820.8 578.5L821.0 578.7L821.3 579.0L821.5 579.2L821.7 579.5L821.9 579.7L822.1 580.0L822.4 580.2L822.6 580.4L822.8 580.7L823.0 580.9L823.2 581.2L823.4 581.4L823.7 581.6L823.9 581.8L824.1 582.0L824.3 582.2L824.5 582.3L824.7 582.4L825.0 583.5L825.2 584.6L825.4 584.8L825.6 584.9L825.8 585.1L826.1 585.2L826.3 585.4L826.5 585.5L826.7 585.7L826.9 585.8L827.1 585.9L827.4 586.0L827.6 586.1L827.8 586.2L828.0 586.3L828.2 586.4L828.4 586.5L828.7 586.4L828.9 586.1L829.1 585.8L829.3 586.1L829.5 586.5L829.8 586.6L830.0 586.8L830.2 587.0L830.4 587.1L830.6 587.3L830.8 587.5L831.1 587.7L831.3 587.9L831.5 588.0L831.7 588.2L831.9 588.4L832.1 588.6L832.4 588.8L832.6 589.0L832.8 589.1L833.0 589.3L833.2 589.4L833.5 589.5L833.7 590.6L833.9 591.7L834.1 591.9L834.3 592.0L834.5 592.1L834.8 592.3L835.0 592.4L835.2 592.5L835.4 592.6L835.6 592.8L835.9 592.8L836.1 592.9L836.3 593.0L836.5 593.1L836.7 593.2L836.9 593.3L837.2 593.4L837.4 593.3L837.6 593.0L837.8 592.7L838.0 591.2L838.2 589.8L838.5 590.0L838.7 590.2L838.9 590.5L839.1 590.7L839.3 590.9L839.6 591.2L839.8 591.4L840.0 591.7L840.2 592.0L840.4 592.3L840.6 592.6L840.9 592.9L841.1 593.2L841.3 593.5L841.5 593.8L841.7 594.4L841.9 595.4L842.2 596.4L842.4 597.1L842.6 597.8L842.8 598.0L843.0 598.1L843.3 598.3L843.5 598.5L843.7 598.6L843.9 598.8L844.1 598.9L844.3 599.1L844.6 599.2L844.8 599.3L845.0 599.4L845.2 599.5L845.4 599.6L845.6 599.6L845.9 599.7L846.1 599.7L846.3 599.5L846.5 599.4L846.7 598.8L847.0 598.3L847.2 598.4L847.4 598.5L847.6 598.6L847.8 598.7L848.0 598.8L848.3 598.9L848.5 599.0L848.7 599.1L848.9 599.2L849.1 599.3L849.3 599.5L849.6 599.6L849.8 599.8L850.0 599.9L850.2 600.1L850.4 600.3L850.7 600.8L850.9 601.2L851.1 601.4L851.3 601.6L851.5 601.8L851.7 601.9L852.0 602.0L852.2 602.2L852.4 602.3L852.6 602.5L852.8 602.6L853.0 602.7L853.3 602.9L853.5 603.0L853.7 603.1L853.9 603.3L854.1 603.4L854.4 603.5L854.6 603.6L854.8 603.7L855.0 603.8L855.2 603.9L855.4 604.3L855.7 604.8L855.9 604.8L856.1 604.9L856.3 605.0L856.5 605.1L856.7 605.2L857.0 605.3L857.2 605.3L857.4 605.4L857.6 605.5L857.8 605.6L858.1 605.6L858.3 605.7L858.5 605.8L858.7 605.9L858.9 606.0L859.1 606.0L859.4 605.9L859.6 605.9L859.8 605.5L860.0 605.1L860.2 605.2L860.5 605.4L860.7 605.5L860.9 605.7L861.1 605.8L861.3 606.0L861.5 606.1L861.8 606.3L862.0 606.5L862.2 606.6L862.4 606.8L862.6 606.9L862.8 607.1L863.1 607.3L863.3 607.4L863.5 607.7L863.7 608.0L863.9 608.4L864.2 608.0L864.4 607.5L864.6 607.6L864.8 607.8L865.0 607.9L865.2 607.9L865.5 608.0L865.7 608.1L865.9 608.2L866.1 608.3L866.3 608.4L866.5 608.5L866.8 608.5L867.0 608.6L867.2 608.7L867.4 608.8L867.6 608.9L867.9 609.1L868.1 609.4L868.3 609.7L868.5 608.6L868.7 607.4L868.9 607.6L869.2 607.7L869.4 607.8L869.6 607.9L869.8 608.1L870.0 608.2L870.2 608.3L870.5 608.5L870.7 608.7L870.9 608.9L871.1 609.0L871.3 609.2L871.6 609.4L871.8 609.6L872.0 609.8L872.2 610.2L872.4 610.9L872.6 611.6L872.9 611.2L873.1 610.7L873.3 610.9L873.5 611.0L873.7 611.1L873.9 611.2L874.2 611.3L874.4 611.4L874.6 611.5L874.8 611.5L875.0 611.6L875.3 611.7L875.5 611.8L875.7 611.9L875.9 611.9L876.1 612.0L876.3 612.0L876.6 612.2L876.8 612.4L877.0 612.7L877.2 613.0L877.4 613.2L877.6 613.2L877.9 613.2L878.1 613.2L878.3 613.2L878.5 613.2L878.7 613.2L879.0 613.2L879.2 613.2L879.4 613.2L879.6 613.1L879.8 613.2L880.0 613.2L880.3 613.2L880.5 613.2L880.7 613.2L880.9 613.2L881.1 613.1L881.4 613.0L881.6 615.0L881.8 617.1L882.0 617.0L882.2 617.0L882.4 617.0L882.7 617.0L882.9 617.0L883.1 616.9L883.3 616.9L883.5 616.9L883.7 616.8L884.0 616.7L884.2 616.7L884.4 616.6L884.6 616.5L884.8 616.4L885.1 616.3L885.3 615.9L885.5 614.9L885.7 614.0L885.9 614.9L886.1 615.9L886.4 615.9L886.6 615.9L886.8 615.8L887.0 615.8L887.2 615.8L887.4 615.8L887.7 615.8L887.9 615.8L888.1 615.8L888.3 615.8L888.5 615.8L888.8 615.8L889.0 615.8L889.2 615.8L889.4 615.8L889.6 615.6L889.8 615.2L890.1 614.9L890.3 614.7L890.5 614.6L890.7 614.7L890.9 614.8L891.1 614.9L891.4 615.0L891.6 615.1L891.8 615.2L892.0 615.3L892.2 615.4L892.5 615.5L892.7 615.6L892.9 615.7L893.1 615.8L893.3 615.8L893.5 615.9L893.8 616.0L894.0 616.1L894.2 616.2L894.4 616.4L894.6 614.4L894.8 612.5L895.1 612.6L895.3 612.7L895.5 612.7L895.7 612.8L895.9 612.9L896.2 612.9L896.4 613.0L896.6 613.1L896.8 613.2L897.0 613.3L897.2 613.4L897.5 613.5L897.7 613.6L897.9 613.7L898.1 613.8L898.3 614.3L898.5 615.2L898.8 616.2L899.0 617.5L899.2 618.8L899.4 618.8L899.6 618.7L899.9 618.7L900.1 618.7L900.3 618.6L900.5 618.6L900.7 618.6L900.9 618.6L901.2 618.5L901.4 618.4L901.6 618.4L901.8 618.4L902.0 618.3L902.2 618.3L902.5 618.2L902.7 618.0L902.9 617.3L903.1 616.7L903.3 617.6L903.6 618.5L903.8 618.5L904.0 618.5L904.2 618.5L904.4 618.5L904.6 618.5L904.9 618.5L905.1 618.4L905.3 618.4L905.5 618.4L905.7 618.3L906.0 618.2L906.2 618.1L906.4 618.1L906.6 618.0L906.8 617.9L907.0 617.7L907.3 617.2L907.5 616.7L907.7 615.1L907.9 613.5L908.1 613.5L908.3 613.6L908.6 613.6L908.8 613.6L909.0 613.7L909.2 613.7L909.4 613.7L909.7 613.8L909.9 613.9L910.1 614.0L910.3 614.1L910.5 614.2L910.7 614.3L911.0 614.4L911.2 614.5L911.4 614.9L911.6 615.7L911.8 616.5L912.0 617.1L912.3 617.7L912.5 617.7L912.7 617.7L912.9 617.6L913.1 617.6L913.4 617.6L913.6 617.6L913.8 617.6L914.0 617.6L914.2 617.5L914.4 617.5L914.7 617.4L914.9 617.4L915.1 617.3L915.3 617.3L915.5 617.2L915.7 617.1L916.0 616.8L916.2 616.5L916.4 617.0L916.6 617.6L916.8 617.6L917.1 617.5L917.3 617.5L917.5 617.4L917.7 617.4L917.9 617.3L918.1 617.3L918.4 617.2L918.6 617.2L918.8 617.1L919.0 617.1L919.2 617.0L919.4 617.0L919.7 617.0L919.9 616.9L920.1 616.8L920.3 616.5L920.5 616.3L920.8 617.1L921.0 618.0L921.2 618.0L921.4 618.1L921.6 618.1L921.8 618.1L922.1 618.1L922.3 618.1L922.5 618.1L922.7 618.1L922.9 618.1L923.1 618.0L923.4 618.0L923.6 618.0L923.8 617.9L924.0 617.9L924.2 617.8L924.5 617.6L924.7 617.1L924.9 616.7L925.1 616.9L925.3 617.1L925.5 617.1L925.8 617.0L926.0 617.0L926.2 616.9L926.4 616.8L926.6 616.7L926.8 616.7L927.1 616.6L927.3 616.5L927.5 616.4L927.7 616.3L927.9 616.2L928.2 616.1L928.4 616.0L928.6 615.9L928.8 615.8L929.0 615.6L929.2 615.4L929.5 612.9L929.7 610.3L929.9 610.3L930.1 610.4L930.3 610.5L930.6 610.5L930.8 610.6L931.0 610.7L931.2 610.7L931.4 610.8L931.6 611.0L931.9 611.1L932.1 611.3L932.3 611.5L932.5 611.6L932.7 611.8L932.9 612.0L933.2 612.6L933.4 613.8L933.6 615.1L933.8 614.2L934.0 613.4L934.3 613.5L934.5 613.5L934.7 613.5L934.9 613.5L935.1 613.5L935.3 613.5L935.6 613.5L935.8 613.6L936.0 613.6L936.2 613.6L936.4 613.6L936.6 613.6L936.9 613.7L937.1 613.7L937.3 613.7L937.5 613.9L937.7 614.2L938.0 614.6L938.2 614.0L938.4 613.3L938.6 613.3L938.8 613.3L939.0 613.3L939.3 613.3L939.5 613.3L939.7 613.4L939.9 613.4L940.1 613.4L940.3 613.4L940.6 613.5L940.8 613.5L941.0 613.6L941.2 613.6L941.4 613.7L941.7 613.7L941.9 613.9L942.1 614.2L942.3 614.5L942.5 613.8L942.7 613.1L943.0 613.2L943.2 613.2L943.4 613.2L943.6 613.2L943.8 613.2L944.0 613.2L944.3 613.2L944.5 613.2L944.7 613.2L944.9 613.2L945.1 613.2L945.4 613.2L945.6 613.1L945.8 613.1L946.0 613.1L946.2 613.2L946.4 613.4L946.7 613.7L946.9 614.0L947.1 614.3L947.3 614.2L947.5 614.1L947.7 614.0L948.0 613.9L948.2 613.8L948.4 613.7L948.6 613.6L948.8 613.5L949.1 613.4L949.3 613.3L949.5 613.2L949.7 613.1L949.9 613.1L950.1 613.0L950.4 612.9L950.6 612.8L950.8 612.5L951.0 612.3L951.2 613.1L951.4 613.8L951.7 613.8L951.9 613.7L952.1 613.7L952.3 613.6L952.5 613.6L952.8 613.5L953.0 613.4L953.2 613.4L953.4 613.3L953.6 613.2L953.8 613.1L954.1 613.0L954.3 612.9L954.5 612.8L954.7 612.7L954.9 612.4L955.2 611.9L955.4 611.5L955.6 611.3L955.8 611.2L956.0 611.1L956.2 611.0L956.5 610.9L956.7 610.7L956.9 610.6L957.1 610.5L957.3 610.4L957.5 610.3L957.8 610.2L958.0 610.1L958.2 609.9L958.4 609.8L958.6 609.7L958.9 609.6L959.1 609.5L959.3 609.4L959.5 609.3L959.7 609.3L959.9 609.8L960.2 610.4L960.4 610.3L960.6 610.2L960.8 610.1L961.0 610.0L961.2 609.9L961.5 609.8L961.7 609.7L961.9 609.7L962.1 609.6L962.3 609.5L962.6 609.4L962.8 609.3L963.0 609.2L963.2 609.1L963.4 609.0L963.6 608.8L963.9 608.4L964.1 608.0L964.3 605.7L964.5 603.4L964.7 603.4L964.9 603.5L965.2 603.5L965.4 603.5L965.6 603.5L965.8 603.5L966.0 603.5L966.3 603.5L966.5 603.6L966.7 603.7L966.9 603.7L967.1 603.8L967.3 603.9L967.6 603.9L967.8 604.0L968.0 604.5L968.2 605.5L968.4 606.6L968.6 606.9L968.9 607.3L969.1 607.2L969.3 607.1L969.5 607.1L969.7 607.0L970.0 607.0L970.2 606.9L970.4 606.9L970.6 606.8L970.8 606.8L971.0 606.7L971.3 606.7L971.5 606.6L971.7 606.5L971.9 606.5L972.1 606.4L972.3 606.3L972.6 606.1L972.8 605.8L973.0 605.6L973.2 605.4L973.4 605.4L973.7 605.3L973.9 605.3L974.1 605.2L974.3 605.1L974.5 605.1L974.7 605.0L975.0 604.9L975.2 604.8L975.4 604.7L975.6 604.6L975.8 604.5L976.0 604.4L976.3 604.2L976.5 604.1L976.7 604.0L976.9 604.0L977.1 603.9L977.4 602.9L977.6 602.0L977.8 601.8L978.0 601.7L978.2 601.6L978.4 601.5L978.7 601.4L978.9 601.3L979.1 601.2L979.3 601.1L979.5 601.0L979.8 600.9L980.0 600.9L980.2 600.8L980.4 600.8L980.6 600.7L980.8 600.7L981.1 600.8L981.3 601.1L981.5 601.4L981.7 601.1L981.9 600.7L982.1 600.7L982.4 600.6L982.6 600.5L982.8 600.5L983.0 600.4L983.2 600.4L983.5 600.3L983.7 600.2L983.9 600.2L984.1 600.1L984.3 600.1L984.5 600.0L984.8 599.9L985.0 599.8L985.2 599.8L985.4 599.7L985.6 599.8L985.8 599.8L986.1 599.8L986.3 599.9L986.5 599.7L986.7 599.6L986.9 599.5L987.2 599.3L987.4 599.2L987.6 599.1L987.8 598.9L988.0 598.8L988.2 598.7L988.5 598.5L988.7 598.4L988.9 598.3L989.1 598.2L989.3 598.0L989.5 597.9L989.8 597.8L990.0 597.6L990.2 597.4L990.4 596.7L990.6 596.1L990.9 596.0L991.1 595.9L991.3 595.9L991.5 595.8L991.7 595.7L991.9 595.7L992.2 595.6L992.4 595.6L992.6 595.5L992.8 595.5L993.0 595.4L993.2 595.4L993.5 595.3L993.7 595.3L993.9 595.2L994.1 595.3L994.3 595.4L994.6 595.6L994.8 594.5L995.0 593.3L995.2 593.2L995.4 593.1L995.6 593.0L995.9 592.9L996.1 592.8L996.3 592.7L996.5 592.6L996.7 592.5L996.9 592.5L997.2 592.4L997.4 592.3L997.6 592.2L997.8 592.2L998.0 592.1L998.3 592.0L998.5 592.2L998.7 592.6L998.9 593.0L999.1 592.9L999.3 592.9L999.6 592.7L999.8 592.6L1000.0 592.5L1000.2 592.4L1000.4 592.3L1000.6 592.2L1000.9 592.1L1001.1 592.1L1001.3 592.0L1001.5 591.9L1001.7 591.8L1002.0 591.7L1002.2 591.6L1002.4 591.6L1002.6 591.5L1002.8 591.4L1003.0 591.2L1003.3 591.1L1003.5 590.8L1003.7 590.4L1003.9 590.3L1004.1 590.2L1004.4 590.1L1004.6 590.0L1004.8 589.9L1005.0 589.8L1005.2 589.6L1005.4 589.5L1005.7 589.3L1005.9 589.2L1006.1 589.0L1006.3 588.9L1006.5 588.7L1006.7 588.5L1007.0 588.4L1007.2 588.2L1007.4 588.2L1007.6 588.1L1007.8 587.7L1008.1 587.4L1008.3 587.2L1008.5 587.0L1008.7 586.8L1008.9 586.7L1009.1 586.5L1009.4 586.3L1009.6 586.1L1009.8 586.0L1010.0 585.8L1010.2 585.7L1010.4 585.5L1010.7 585.4L1010.9 585.3L1011.1 585.1L1011.3 585.0L1011.5 584.9L1011.8 584.9L1012.0 584.8L1012.2 584.1L1012.4 583.3L1012.6 583.2L1012.8 583.1L1013.1 583.0L1013.3 582.9L1013.5 582.9L1013.7 582.8L1013.9 582.7L1014.1 582.6L1014.4 582.5L1014.6 582.4L1014.8 582.3L1015.0 582.3L1015.2 582.2L1015.5 582.1L1015.7 582.0L1015.9 582.0L1016.1 582.2L1016.3 582.4L1016.5 583.0L1016.8 583.6L1017.0 583.4L1017.2 583.2L1017.4 583.1L1017.6 582.9L1017.8 582.7L1018.1 582.5L1018.3 582.4L1018.5 582.2L1018.7 582.0L1018.9 581.9L1019.2 581.7L1019.4 581.5L1019.6 581.3L1019.8 581.2L1020.0 581.0L1020.2 580.7L1020.5 580.2L1020.7 579.8L1020.9 577.4L1021.1 575.1L1021.3 575.1L1021.5 575.0L1021.8 575.0L1022.0 575.0L1022.2 575.0L1022.4 575.0L1022.6 575.0L1022.9 574.9L1023.1 575.0L1023.3 575.0L1023.5 575.0L1023.7 575.1L1023.9 575.1L1024.2 575.1L1024.4 575.1L1024.6 575.5L1024.8 576.5L1025.0 577.4L1025.2 577.6L1025.5 577.7L1025.7 577.6L1025.9 577.4L1026.1 577.2L1026.3 577.0L1026.6 576.8L1026.8 576.6L1027.0 576.4L1027.2 576.1L1027.4 575.9L1027.6 575.7L1027.9 575.5L1028.1 575.3L1028.3 575.1L1028.5 574.9L1028.7 574.7L1029.0 574.4L1029.2 574.1L1029.4 573.7L1029.6 574.4L1029.8 575.0L1030.0 574.8L1030.3 574.6L1030.5 574.4L1030.7 574.3L1030.9 574.1L1031.1 574.0L1031.3 573.8L1031.6 573.7L1031.8 573.5L1032.0 573.3L1032.2 573.1L1032.4 573.0L1032.7 572.8L1032.9 572.6L1033.1 572.5L1033.3 572.2L1033.5 571.7L1033.7 571.1L1034.0 570.6L1034.2 570.0L1034.4 569.9L1034.6 569.8L1034.8 569.7L1035.0 569.5L1035.3 569.4L1035.5 569.3L1035.7 569.1L1035.9 569.0L1036.1 568.8L1036.4 568.7L1036.6 568.5L1036.8 568.4L1037.0 568.2L1037.2 568.1L1037.4 567.9L1037.7 567.8L1037.9 567.9L1038.1 567.9L1038.3 568.0L1038.5 568.2L1038.7 568.0L1039.0 567.8L1039.2 567.6L1039.4 567.4L1039.6 567.3L1039.8 567.1L1040.1 566.9L1040.3 566.8L1040.5 566.6L1040.7 566.4L1040.9 566.3L1041.1 566.1L1041.4 566.0L1041.6 565.8L1041.8 565.7L1042.0 565.5L1042.2 565.2L1042.4 565.0L1042.7 564.2L1042.9 563.4L1043.1 563.3L1043.3 563.2L1043.5 563.2L1043.8 563.1L1044.0 563.0L1044.2 562.9L1044.4 562.8L1044.6 562.7L1044.8 562.6L1045.1 562.5L1045.3 562.4L1045.5 562.3L1045.7 562.2L1045.9 562.1L1046.1 562.0L1046.4 562.0L1046.6 562.2L1046.8 562.4L1047.0 562.6L1047.2 562.8L1047.5 562.7L1047.7 562.5L1047.9 562.4L1048.1 562.2L1048.3 562.0L1048.5 561.9L1048.8 561.7L1049.0 561.6L1049.2 561.4L1049.4 561.3L1049.6 561.1L1049.8 561.0L1050.1 560.9L1050.3 560.7L1050.5 560.6L1050.7 560.4L1050.9 560.1L1051.2 559.8L1051.4 560.4L1051.6 561.0L1051.8 560.9L1052.0 560.7L1052.2 560.6L1052.5 560.5L1052.7 560.4L1052.9 560.2L1053.1 560.1L1053.3 560.0L1053.6 559.8L1053.8 559.6L1054.0 559.5L1054.2 559.3L1054.4 559.1L1054.6 558.9L1054.9 558.7L1055.1 558.4L1055.3 557.9L1055.5 557.4L1055.7 556.4L1055.9 555.4L1056.2 555.3L1056.4 555.1L1056.6 554.9L1056.8 554.8L1057.0 554.6L1057.3 554.4L1057.5 554.2L1057.7 554.0L1057.9 553.9L1058.1 553.7L1058.3 553.6L1058.6 553.4L1058.8 553.3L1059.0 553.2L1059.2 553.0L1059.4 553.0L1059.6 553.3L1059.9 553.5L1060.1 554.1L1060.3 554.6L1060.5 554.5L1060.7 554.3L1061.0 554.1L1061.2 554.0L1061.4 553.8L1061.6 553.7L1061.8 553.5L1062.0 553.4L1062.3 553.2L1062.5 553.1L1062.7 552.9L1062.9 552.8L1063.1 552.6L1063.3 552.5L1063.6 552.3L1063.8 552.0L1064.0 551.6L1064.2 551.1L1064.4 551.5L1064.7 551.9L1064.9 551.8L1065.1 551.7L1065.3 551.5L1065.5 551.4L1065.7 551.2L1066.0 551.1L1066.2 550.9L1066.4 550.8L1066.6 550.6L1066.8 550.4L1067.0 550.2L1067.3 550.1L1067.5 549.9L1067.7 549.7L1067.9 549.5L1068.1 549.3L1068.4 548.9L1068.6 548.5L1068.8 547.8L1069.0 547.2L1069.2 547.1L1069.4 547.0L1069.7 546.9L1069.9 546.8L1070.1 546.7L1070.3 546.6L1070.5 546.5L1070.7 546.4L1071.0 546.3L1071.2 546.2L1071.4 546.2L1071.6 546.1L1071.8 546.0L1072.1 546.0L1072.3 545.9L1072.5 545.9L1072.7 546.0L1072.9 546.2L1073.1 545.2L1073.4 544.1L1073.6 544.0L1073.8 544.0L1074.0 543.9L1074.2 543.8L1074.4 543.7L1074.7 543.6L1074.9 543.5L1075.1 543.4L1075.3 543.3L1075.5 543.2L1075.8 543.1L1076.0 543.0L1076.2 542.9L1076.4 542.8L1076.6 542.7L1076.8 542.7L1077.1 543.0L1077.3 543.3L1077.5 542.1L1077.7 540.9L1077.9 540.7L1078.2 540.6L1078.4 540.5L1078.6 540.4L1078.8 540.3L1079.0 540.1L1079.2 540.0L1079.5 539.9L1079.7 539.9L1079.9 539.8L1080.1 539.8L1080.3 539.7L1080.5 539.6L1080.8 539.6L1081.0 539.6L1081.2 539.7L1081.4 540.1L1081.6 540.6L1081.9 539.8L1082.1 539.0L1082.3 538.9L1082.5 538.8L1082.7 538.8L1082.9 538.7L1083.2 538.6L1083.4 538.5L1083.6 538.4L1083.8 538.3L1084.0 538.2L1084.2 538.1" stroke="#e2401c" stroke-width="2" stroke-opacity="0.9"/>
</g>
<rect x="772.5" y="515.6" width="435.4" height="103.6" stroke="#505050" stroke-width="1.1" fill="none"/>
<circle cx="1084.2" cy="538.6" r="4.3" fill="none" stroke="#8e2c3a" stroke-width="1.2"/>
<g font-family="Liberation Serif, serif" font-size="18.3" fill="#3c3c3c" text-anchor="end">
<text transform="translate(766 533.7) scale(1.06 1)">1</text>
<text transform="translate(766 560.1) scale(1.06 1)">0</text>
<text transform="translate(766 586.5) scale(1.06 1)">-1</text>
<text transform="translate(766 612.9) scale(1.06 1)">-2</text>
</g>
<g transform="translate(739.0 567.4) rotate(-90)" font-family="Liberation Serif, serif" fill="#3c3c3c"><text x="-27.50" y="0" font-size="21" font-style="italic" textLength="13.0" lengthAdjust="spacingAndGlyphs">Z</text><text x="-5.50" y="0.8" font-size="23.5" fill="#555">(</text><text x="1.30" y="0" font-size="21" font-style="italic" textLength="19.3" lengthAdjust="spacingAndGlyphs">m</text><text x="20.60" y="0.8" font-size="23.5" fill="#555">)</text><path d="M8.30 -11.7l2.7 -2.5l2.7 2.5" fill="none" stroke="#3c3c3c" stroke-width="1.05"/></g>
<g font-family="Liberation Serif, serif" font-size="18.8" fill="#3c3c3c" text-anchor="middle">
<text transform="translate(772.5 643.4) scale(1.05 1)">0</text>
<text transform="translate(859.6 643.4) scale(1.05 1)">20</text>
<text transform="translate(946.7 643.4) scale(1.05 1)">40</text>
<text transform="translate(1033.7 643.4) scale(1.05 1)">60</text>
<text transform="translate(1120.8 643.4) scale(1.05 1)">80</text>
<text transform="translate(1207.9 643.4) scale(1.05 1)">100</text>
</g>
<g transform="translate(989.5 668.6)" font-family="Liberation Serif, serif" fill="#3c3c3c"><text x="-19.10" y="0" font-size="21" font-style="italic" textLength="6.6" lengthAdjust="spacingAndGlyphs">t</text><text x="-4.55" y="0.8" font-size="23.5" fill="#555">(</text><text x="2.85" y="0" font-size="21" font-style="italic" textLength="9.2" lengthAdjust="spacingAndGlyphs">s</text><text x="12.70" y="0.8" font-size="23.5" fill="#555">)</text><path d="M5.85 -11.7l2.7 -2.5l2.7 2.5" fill="none" stroke="#3c3c3c" stroke-width="1.05"/></g>
<rect x="1100.2" y="275.5" width="100.4" height="42.9" fill="#fff" stroke="#505050" stroke-width="1"/>
<line x1="1102.9" y1="286.9" x2="1130.2" y2="286.9" stroke="#1a1ec8" stroke-width="2"/>
<line x1="1102.9" y1="307.0" x2="1130.2" y2="307.0" stroke="#e2401c" stroke-width="2"/>
<g font-family="Liberation Serif, serif" font-size="16.5" fill="#303030">
<text x="1133.3" y="290.1" textLength="37.5" lengthAdjust="spacing">State</text>
<text x="1133.3" y="311.1" textLength="64.7" lengthAdjust="spacing">Estimate</text>
</g>
</svg>
</body></html>
